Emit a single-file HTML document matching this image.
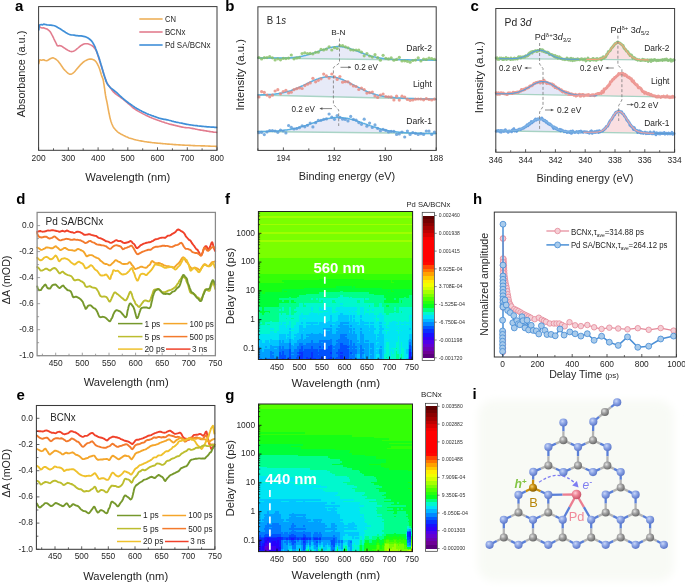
<!DOCTYPE html>
<html><head><meta charset="utf-8"><title>Figure</title><style>html,body{margin:0;padding:0;background:#fff;}svg{display:block;font-family:"Liberation Sans",sans-serif;will-change:transform;}</style></head><body>
<svg width="685" height="588" viewBox="0 0 685 588" font-family="Liberation Sans, sans-serif"><defs><filter id="soft" x="-20%" y="-20%" width="140%" height="140%"><feGaussianBlur stdDeviation="4"/></filter><radialGradient id="gN" cx="0.38" cy="0.35" r="0.65"><stop offset="0" stop-color="#c9d6f7"/><stop offset="0.45" stop-color="#8ea6e6"/><stop offset="1" stop-color="#5d78c9"/></radialGradient><radialGradient id="gC" cx="0.38" cy="0.35" r="0.65"><stop offset="0" stop-color="#e2e2e2"/><stop offset="0.45" stop-color="#a3a3a3"/><stop offset="1" stop-color="#6c6c6c"/></radialGradient><radialGradient id="gB" cx="0.38" cy="0.35" r="0.65"><stop offset="0" stop-color="#f3d27a"/><stop offset="0.45" stop-color="#c9900e"/><stop offset="1" stop-color="#8a5e00"/></radialGradient><radialGradient id="gP" cx="0.38" cy="0.35" r="0.65"><stop offset="0" stop-color="#ffd0d8"/><stop offset="0.45" stop-color="#ee8596"/><stop offset="1" stop-color="#c85468"/></radialGradient></defs>
<text x="15" y="10.9" font-size="15" font-weight="bold" fill="#000">a</text>
<polyline points="38.8,63.6 39,62.4 39.3,61 39.8,59.7 41.5,60.2 42.6,59.9 43.7,59.7 45.2,60.5 46.7,60.8 48.3,60 49.8,59 51.3,58.3 52.8,57.8 53.8,58.1 55,58.7 56.2,59.5 57.4,60.5 58.2,61.3 58.9,62.2 59.7,63.2 60.3,64 60.9,64.9 61.4,65.8 62,66.6 62.8,67.7 63.5,68.7 64.3,69.6 65.1,70.5 65.9,71.3 66.6,72 67.6,72.9 68.5,73.6 69.5,74.1 70.4,74.3 71.3,74.1 72.3,73.6 73.3,72.9 74.3,72 75,71.2 75.8,70.2 76.6,69.3 77.4,68.4 78.1,67.5 78.9,66.6 79.7,65.7 80.4,64.9 81.2,64.1 82,63.4 82.7,62.6 83.5,62 84.7,61.1 86,60.4 86.9,60 87.9,59.6 88.8,59.3 89.9,59.1 91,59.1 92.2,59.3 93.4,59.7 94.5,60.3 95.5,61.2 96.4,62.3 97.2,63.6 97.7,64.6 98.3,65.8 98.8,67 99.2,68 99.6,69 99.9,70.1 100.3,71.2 100.6,72.2 100.9,73.2 101.2,74.3 101.5,75.3 101.8,76.2 102.3,77.3 102.7,78.3 103.1,79.6 103.3,80.5 103.5,81.4 103.6,82.4 103.8,83.5 104,84.7 104.2,86 104.3,87 104.5,88 104.7,89.2 104.8,90.3 105,91.5 105.1,92.7 105.3,93.8 105.5,94.8 105.6,95.7 105.8,97 106,97.9 106.2,98.8 106.4,99.7 106.7,101 106.9,101.9 107.1,102.9 107.3,103.9 107.5,105 107.7,106.1 107.9,107.3 108.1,108.4 108.3,109.5 108.5,110.5 108.7,111.6 108.9,112.7 109.1,113.8 109.4,114.9 109.6,116 109.8,117 110,117.9 110.2,118.8 110.6,120.1 110.9,121.3 111.3,122.3 111.6,123.3 112,124.2 112.6,125.5 113.1,126.6 113.8,127.7 114.4,128.5 115.1,129.3 115.8,130.1 116.5,130.8 117.3,131.6 118.2,132.3 119.2,133 120.2,133.6 121.2,134.2 122.4,134.8 123.5,135.4 124.4,135.8 125.3,136.3 126.2,136.7 127.2,137.1 128.1,137.5 129,137.9 130,138.2 131,138.5 132,138.8 133,139.1 134.1,139.4 135.2,139.7 136.4,140 137.6,140.2 138.7,140.5 139.8,140.7 140.8,140.9 141.9,141.1 142.9,141.3 144,141.5 145.1,141.7 146.1,141.8 147.1,142 148.2,142.1 149.4,142.3 150.4,142.4 151.5,142.5 152.6,142.7 153.7,142.8 154.8,142.9 156,143 157,143.1 158.1,143.2 159.2,143.3 160.4,143.4 161.5,143.5 162.6,143.6 163.7,143.7 164.8,143.8 165.8,143.9 166.9,144 167.9,144.1 169,144.1 170,144.2 171,144.3 172.2,144.4 173.3,144.5 174.5,144.6 175.6,144.6 176.7,144.7 177.9,144.8 178.9,144.9 179.9,144.9 180.9,145 181.9,145 183,145.1 184,145.1 185,145.2 186,145.2 187.1,145.3 188.1,145.3 189.1,145.4 190.2,145.4 191.2,145.5 192.2,145.5 193.3,145.6 194.5,145.6 195.6,145.7 196.7,145.7 197.8,145.8 199,145.8 200,145.8 201.1,145.9 202.2,145.9 203.3,145.9 204.4,145.9 205.4,146 206.4,146 207.7,146 208.8,146.1 209.9,146.1 211,146.2 212,146.2 213.3,146.3 214.6,146.3 215.7,146.4 216.5,146.4" fill="none" stroke="#eeb05a" stroke-width="1.6" stroke-linejoin="round" stroke-linecap="round"/>
<polyline points="38.8,25.3 39.6,26.5 40.6,27.6 42,28 43.5,27.8 45.2,28.4 47,29 48.2,29.9 49.1,30.6 50,31.5 50.7,32.5 51.3,33.7 51.8,34.7 52.4,35.7 53,36.8 53.5,37.8 53.9,38.8 54.4,39.8 54.9,40.9 55.5,42 56,43 56.6,44.4 57.2,45.5 58.2,46 59.5,45.6 61.3,46 62.4,46.7 63.5,47.5 64.6,48.2 65.8,49 66.7,49.5 67.6,50.1 68.5,50.6 69.9,51.2 71.2,51.6 72.4,51.5 73.5,51.2 74.7,50.6 75.8,49.8 76.9,48.9 78,48 78.8,47.3 79.6,46.6 80.4,46 81.6,45.2 82.8,44.5 83.9,44 85,43.7 86.3,43.7 87.5,43.8 88.6,44 89.6,44.4 90.6,44.9 91.6,45.4 92.5,46 93.4,46.7 94.2,47.7 95,48.8 95.8,49.9 96.5,51.3 96.9,52.2 97.2,53.2 97.6,54.4 98,55.5 98.3,56.4 98.6,57.4 98.9,58.4 99.2,59.4 99.5,60.5 99.8,61.5 100.1,62.5 100.5,63.6 100.8,64.7 101.2,65.8 101.5,66.8 101.8,67.8 102.1,68.8 102.5,69.8 102.8,70.8 103.1,71.8 103.4,72.8 103.7,73.8 104,74.7 104.4,75.7 104.7,76.7 105,77.6 105.3,78.5 105.7,79.6 106,80.6 106.4,81.6 106.8,82.6 107.2,83.5 107.8,84.5 108.5,85.3 109.1,86.1 109.8,87 110.5,87.9 111.1,88.9 111.8,89.9 112.5,90.8 113.2,91.6 114,92.4 114.8,93.1 115.6,93.8 116.6,94.6 117.7,95.3 118.7,96 119.6,96.7 120.5,97.3 121.5,98 122.3,98.6 123.1,99.2 123.9,99.9 124.8,100.6 125.6,101.3 126.4,102 127.3,102.7 128.1,103.5 129,104.2 129.9,105 130.7,105.7 131.6,106.5 132.5,107.3 133.4,108 134.2,108.6 135,109.2 135.9,109.8 136.7,110.3 137.6,110.9 138.5,111.4 139.4,111.9 140.3,112.4 141.3,112.9 142.2,113.4 143.1,113.9 144.1,114.4 145.1,114.9 146,115.4 147,115.8 148,116.3 149,116.7 150,117.2 150.9,117.6 151.8,118 152.8,118.3 153.7,118.7 154.7,119.1 155.7,119.5 156.6,119.8 157.7,120.2 158.8,120.6 159.8,120.9 160.9,121.3 162,121.7 163,122 164,122.3 165,122.7 166,123 166.9,123.3 167.9,123.6 169,123.9 169.9,124.2 170.9,124.4 171.9,124.6 172.9,124.9 173.9,125.1 175,125.4 176,125.6 177,125.9 178.1,126.1 179.1,126.4 180.2,126.6 181.2,126.9 182.3,127.1 183.3,127.3 184.4,127.5 185.5,127.6 186.6,127.7 187.7,127.7 188.8,127.8 190,128 191,128.2 192.1,128.4 193.2,128.6 194.3,128.8 195.4,129.1 196.5,129.3 197.5,129.5 198.6,129.7 199.8,129.9 200.8,130.1 201.9,130.3 203,130.4 204,130.6 205,130.8 206,130.9 207,131.1 208,131.3 209,131.4 210,131.6 211.1,131.8 212.4,131.9 213.6,132.1 214.8,132.2 215.8,132.3 216.5,132.4" fill="none" stroke="#e27d8f" stroke-width="1.6" stroke-linejoin="round" stroke-linecap="round"/>
<polyline points="38.8,29.9 38.9,29 39,27.6 39.2,26.3 39.4,25.3 40.2,24.8 41.4,24.5 42.5,24.9 43.7,24.1 44.8,24.3 46,24.7 47.1,24.9 48.2,25 49.5,25.1 51,25.2 52.1,25.3 53.3,25.5 54.4,25.8 55.7,26.3 57,27 57.8,27.5 58.7,28 59.6,28.6 60.5,29.1 61.5,29.7 62.5,30.4 63.5,31 64.6,31.7 65.6,32.4 66.6,33 67.9,33.7 69,34.2 70.1,34.6 71.2,34.8 72.5,35 74,35.2 75.1,35.4 76.2,35.6 77.3,35.7 78.6,35.8 80,35.8 81.1,35.9 82.4,36.1 83.5,36.3 84.8,36.6 86,37 87,37.5 88,38 89,38.7 90,39.5 91,40.4 91.9,41.4 92.5,42.2 93,43.1 93.5,44 94,44.9 94.5,45.8 94.9,46.7 95.3,47.6 95.6,48.5 96,49.5 96.4,50.6 96.8,51.7 97.2,52.9 97.6,53.9 97.9,54.8 98.3,55.9 98.7,57 99,57.9 99.3,58.9 99.7,59.9 100,61 100.3,62 100.6,63.1 100.9,64.2 101.3,65.3 101.6,66.4 101.9,67.5 102.2,68.6 102.5,69.6 102.8,70.7 103.1,71.8 103.4,72.8 103.7,73.8 104,74.9 104.4,75.9 104.7,76.9 105,77.8 105.3,78.9 105.7,79.9 106,80.9 106.4,81.9 106.9,82.9 107.4,83.8 107.9,84.7 108.5,85.5 109.3,86.4 110.1,87.3 111,88.1 112,88.9 113,89.7 114,90.5 115,91.3 116.1,92.1 117.1,93 117.8,93.7 118.5,94.3 119.2,95 120,95.8 120.7,96.5 121.5,97.2 122.3,97.9 123.2,98.6 124,99.3 124.8,100 125.6,100.6 126.4,101.3 127.2,101.9 128,102.5 128.9,103.2 129.8,103.8 130.7,104.4 131.6,105 132.4,105.6 133.2,106.1 134.1,106.7 135,107.4 136,108 136.8,108.5 137.7,109 138.6,109.5 139.5,110 140.5,110.5 141.4,110.9 142.3,111.4 143.3,111.9 144.2,112.4 145.1,112.8 146,113.2 147,113.7 148,114.1 148.9,114.5 149.9,114.8 150.9,115.2 151.9,115.6 152.9,115.9 153.9,116.3 154.8,116.6 155.9,117 156.9,117.4 157.9,117.7 159,118.1 160,118.4 161,118.7 162,118.9 163,119.1 164.1,119.3 165.1,119.4 166.1,119.6 167.2,119.8 168.1,120 169.1,120.3 170,120.5 171,120.8 172,121.1 173,121.3 174,121.6 175,121.8 176.1,122.1 177.2,122.3 178.3,122.5 179.4,122.8 180.5,123 181.5,123.2 182.6,123.4 183.7,123.7 184.7,123.9 185.8,124.1 186.9,124.3 188,124.5 189,124.7 190.1,124.8 191.2,125 192.4,125.2 193.5,125.3 194.6,125.5 195.7,125.6 196.8,125.7 197.8,125.9 198.9,126 199.9,126.1 200.9,126.2 202,126.3 203,126.4 204,126.5 205,126.6 206,126.7 207.1,126.8 208,126.8 209,126.9 210,127 211.2,127.1 212.4,127.2 213.7,127.2 214.8,127.3 215.8,127.4 216.5,127.4" fill="none" stroke="#3f8fd8" stroke-width="1.7" stroke-linejoin="round" stroke-linecap="round"/>
<rect x="38.6" y="6.6" width="178.4" height="143.7" fill="none" stroke="#3a3a3a" stroke-width="1"/>
<line x1="38.6" y1="150.3" x2="38.6" y2="147.3" stroke="#333" stroke-width="0.8"/>
<line x1="68.3" y1="150.3" x2="68.3" y2="147.3" stroke="#333" stroke-width="0.8"/>
<line x1="98.1" y1="150.3" x2="98.1" y2="147.3" stroke="#333" stroke-width="0.8"/>
<line x1="127.8" y1="150.3" x2="127.8" y2="147.3" stroke="#333" stroke-width="0.8"/>
<line x1="157.5" y1="150.3" x2="157.5" y2="147.3" stroke="#333" stroke-width="0.8"/>
<line x1="187.3" y1="150.3" x2="187.3" y2="147.3" stroke="#333" stroke-width="0.8"/>
<line x1="217" y1="150.3" x2="217" y2="147.3" stroke="#333" stroke-width="0.8"/>
<line x1="53.5" y1="150.3" x2="53.5" y2="148.3" stroke="#333" stroke-width="0.8"/>
<line x1="83.2" y1="150.3" x2="83.2" y2="148.3" stroke="#333" stroke-width="0.8"/>
<line x1="112.9" y1="150.3" x2="112.9" y2="148.3" stroke="#333" stroke-width="0.8"/>
<line x1="142.7" y1="150.3" x2="142.7" y2="148.3" stroke="#333" stroke-width="0.8"/>
<line x1="172.4" y1="150.3" x2="172.4" y2="148.3" stroke="#333" stroke-width="0.8"/>
<line x1="202.1" y1="150.3" x2="202.1" y2="148.3" stroke="#333" stroke-width="0.8"/>
<text x="38.6" y="160.6" font-size="8.4" text-anchor="middle" fill="#262626">200</text>
<text x="68.3" y="160.6" font-size="8.4" text-anchor="middle" fill="#262626">300</text>
<text x="98.1" y="160.6" font-size="8.4" text-anchor="middle" fill="#262626">400</text>
<text x="127.8" y="160.6" font-size="8.4" text-anchor="middle" fill="#262626">500</text>
<text x="157.5" y="160.6" font-size="8.4" text-anchor="middle" fill="#262626">600</text>
<text x="187.3" y="160.6" font-size="8.4" text-anchor="middle" fill="#262626">700</text>
<text x="217" y="160.6" font-size="8.4" text-anchor="middle" fill="#262626">800</text>
<text x="127.8" y="180.5" font-size="10.6" text-anchor="middle" fill="#262626" textLength="84.9" lengthAdjust="spacingAndGlyphs">Wavelength (nm)</text>
<text transform="translate(25.2 74) rotate(-90)" font-size="10.6" text-anchor="middle" textLength="86.7" lengthAdjust="spacingAndGlyphs" fill="#262626">Absorbance (a.u.)</text>
<line x1="139.3" y1="19" x2="162.6" y2="19" stroke="#eeb05a" stroke-width="1.6"/>
<text x="164.9" y="22.3" font-size="8.8" fill="#262626" textLength="11" lengthAdjust="spacingAndGlyphs">CN</text>
<line x1="139.3" y1="32" x2="162.6" y2="32" stroke="#e27d8f" stroke-width="1.6"/>
<text x="164.9" y="35.3" font-size="8.8" fill="#262626" textLength="20.5" lengthAdjust="spacingAndGlyphs">BCNx</text>
<line x1="139.3" y1="45" x2="162.6" y2="45" stroke="#3f8fd8" stroke-width="1.6"/>
<text x="164.9" y="48.3" font-size="8.8" fill="#262626" textLength="45.7" lengthAdjust="spacingAndGlyphs">Pd SA/BCNx</text>
<text x="225.3" y="11" font-size="15" font-weight="bold" fill="#000">b</text>
<path d="M257.9 58 L258.9 58 L259.9 58 L260.9 58 L261.9 58 L262.9 58.1 L263.9 58.1 L264.9 58.1 L265.9 58.1 L266.9 58.1 L267.9 58.1 L268.9 58.1 L269.9 58.1 L270.9 58.1 L271.9 58.1 L272.9 58.1 L273.9 58.1 L274.9 58.1 L275.9 58.1 L276.9 58.1 L277.9 58.1 L278.9 58.1 L279.9 58.1 L280.9 58.1 L281.9 58.1 L282.9 58.1 L283.9 58 L284.9 58 L285.9 58 L286.9 57.9 L287.9 57.9 L288.9 57.8 L289.9 57.8 L290.9 57.7 L291.9 57.6 L292.9 57.5 L293.9 57.4 L294.9 57.3 L295.9 57.2 L296.9 57.1 L297.9 56.9 L298.9 56.8 L299.9 56.6 L300.9 56.5 L301.9 56.3 L302.9 56.1 L303.9 55.8 L304.9 55.6 L305.9 55.4 L306.9 55.1 L307.9 54.8 L308.9 54.5 L309.9 54.2 L310.9 53.9 L311.9 53.6 L312.9 53.3 L313.9 52.9 L314.9 52.6 L315.9 52.2 L316.9 51.9 L317.9 51.5 L318.9 51.2 L319.9 50.8 L320.9 50.4 L321.9 50.1 L322.9 49.7 L323.9 49.4 L324.9 49.1 L325.9 48.7 L326.9 48.4 L327.9 48.1 L328.9 47.9 L329.9 47.6 L330.9 47.4 L331.9 47.2 L332.9 47 L333.9 46.9 L334.9 46.8 L335.9 46.7 L336.9 46.6 L337.9 46.6 L338.9 46.6 L339.9 46.6 L340.9 46.7 L341.9 46.8 L342.9 46.9 L343.9 47.1 L344.9 47.3 L345.9 47.5 L346.9 47.7 L347.9 48 L348.9 48.2 L349.9 48.5 L350.9 48.9 L351.9 49.2 L352.9 49.5 L353.9 49.9 L354.9 50.3 L355.9 50.6 L356.9 51 L357.9 51.4 L358.9 51.8 L359.9 52.2 L360.9 52.6 L361.9 53 L362.9 53.3 L363.9 53.7 L364.9 54.1 L365.9 54.4 L366.9 54.8 L367.9 55.1 L368.9 55.4 L369.9 55.7 L370.9 56 L371.9 56.3 L372.9 56.5 L373.9 56.8 L374.9 57 L375.9 57.3 L376.9 57.5 L377.9 57.7 L378.9 57.8 L379.9 58 L380.9 58.2 L381.9 58.3 L382.9 58.5 L383.9 58.6 L384.9 58.7 L385.9 58.8 L386.9 58.9 L387.9 59 L388.9 59.1 L389.9 59.2 L390.9 59.2 L391.9 59.3 L392.9 59.4 L393.9 59.4 L394.9 59.5 L395.9 59.5 L396.9 59.5 L397.9 59.6 L398.9 59.6 L399.9 59.6 L400.9 59.7 L401.9 59.7 L402.9 59.7 L403.9 59.7 L404.9 59.8 L405.9 59.8 L406.9 59.8 L407.9 59.8 L408.9 59.8 L409.9 59.9 L410.9 59.9 L411.9 59.9 L412.9 59.9 L413.9 59.9 L414.9 59.9 L415.9 59.9 L416.9 60 L417.9 60 L418.9 60 L419.9 60 L420.9 60 L421.9 60 L422.9 60 L423.9 60 L424.9 60.1 L425.9 60.1 L426.9 60.1 L427.9 60.1 L428.9 60.1 L429.9 60.1 L430.9 60.1 L431.9 60.1 L432.9 60.2 L433.9 60.2 L434.9 60.2 L435.9 60.2 L436.2 60.2 L257.9 58 Z" fill="#dfe3f5" fill-opacity="0.75"/>
<line x1="257.9" y1="58" x2="436.2" y2="60.2" stroke="#a9d4c6" stroke-width="1.5"/>
<polyline points="257.9,58 258.9,58 259.9,58 260.9,58 261.9,58 262.9,58.1 263.9,58.1 264.9,58.1 265.9,58.1 266.9,58.1 267.9,58.1 268.9,58.1 269.9,58.1 270.9,58.1 271.9,58.1 272.9,58.1 273.9,58.1 274.9,58.1 275.9,58.1 276.9,58.1 277.9,58.1 278.9,58.1 279.9,58.1 280.9,58.1 281.9,58.1 282.9,58.1 283.9,58 284.9,58 285.9,58 286.9,57.9 287.9,57.9 288.9,57.8 289.9,57.8 290.9,57.7 291.9,57.6 292.9,57.5 293.9,57.4 294.9,57.3 295.9,57.2 296.9,57.1 297.9,56.9 298.9,56.8 299.9,56.6 300.9,56.5 301.9,56.3 302.9,56.1 303.9,55.8 304.9,55.6 305.9,55.4 306.9,55.1 307.9,54.8 308.9,54.5 309.9,54.2 310.9,53.9 311.9,53.6 312.9,53.3 313.9,52.9 314.9,52.6 315.9,52.2 316.9,51.9 317.9,51.5 318.9,51.2 319.9,50.8 320.9,50.4 321.9,50.1 322.9,49.7 323.9,49.4 324.9,49.1 325.9,48.7 326.9,48.4 327.9,48.1 328.9,47.9 329.9,47.6 330.9,47.4 331.9,47.2 332.9,47 333.9,46.9 334.9,46.8 335.9,46.7 336.9,46.6 337.9,46.6 338.9,46.6 339.9,46.6 340.9,46.7 341.9,46.8 342.9,46.9 343.9,47.1 344.9,47.3 345.9,47.5 346.9,47.7 347.9,48 348.9,48.2 349.9,48.5 350.9,48.9 351.9,49.2 352.9,49.5 353.9,49.9 354.9,50.3 355.9,50.6 356.9,51 357.9,51.4 358.9,51.8 359.9,52.2 360.9,52.6 361.9,53 362.9,53.3 363.9,53.7 364.9,54.1 365.9,54.4 366.9,54.8 367.9,55.1 368.9,55.4 369.9,55.7 370.9,56 371.9,56.3 372.9,56.5 373.9,56.8 374.9,57 375.9,57.3 376.9,57.5 377.9,57.7 378.9,57.8 379.9,58 380.9,58.2 381.9,58.3 382.9,58.5 383.9,58.6 384.9,58.7 385.9,58.8 386.9,58.9 387.9,59 388.9,59.1 389.9,59.2 390.9,59.2 391.9,59.3 392.9,59.4 393.9,59.4 394.9,59.5 395.9,59.5 396.9,59.5 397.9,59.6 398.9,59.6 399.9,59.6 400.9,59.7 401.9,59.7 402.9,59.7 403.9,59.7 404.9,59.8 405.9,59.8 406.9,59.8 407.9,59.8 408.9,59.8 409.9,59.9 410.9,59.9 411.9,59.9 412.9,59.9 413.9,59.9 414.9,59.9 415.9,59.9 416.9,60 417.9,60 418.9,60 419.9,60 420.9,60 421.9,60 422.9,60 423.9,60 424.9,60.1 425.9,60.1 426.9,60.1 427.9,60.1 428.9,60.1 429.9,60.1 430.9,60.1 431.9,60.1 432.9,60.2 433.9,60.2 434.9,60.2 435.9,60.2" fill="none" stroke="#5bb1e2" stroke-width="1.5" stroke-linejoin="round" stroke-linecap="round"/>
<g fill="#86c163" fill-opacity="0.8"><circle cx="258.9" cy="57.6" r="1.6"/><circle cx="261.6" cy="58.9" r="1.6"/><circle cx="264.3" cy="57.7" r="1.6"/><circle cx="267" cy="57.6" r="1.6"/><circle cx="269.7" cy="56.6" r="1.6"/><circle cx="272.4" cy="57.8" r="1.6"/><circle cx="275.1" cy="59.9" r="1.6"/><circle cx="277.8" cy="58.8" r="1.6"/><circle cx="280.5" cy="59.8" r="1.6"/><circle cx="283.2" cy="58.4" r="1.6"/><circle cx="285.9" cy="58.6" r="1.6"/><circle cx="288.6" cy="58.1" r="1.6"/><circle cx="291.3" cy="55" r="1.6"/><circle cx="294" cy="58.8" r="1.6"/><circle cx="296.7" cy="57.9" r="1.6"/><circle cx="299.4" cy="57.5" r="1.6"/><circle cx="302.1" cy="53.5" r="1.6"/><circle cx="304.8" cy="52.8" r="1.6"/><circle cx="307.5" cy="53.5" r="1.6"/><circle cx="310.2" cy="53.4" r="1.6"/><circle cx="312.9" cy="53.8" r="1.6"/><circle cx="315.6" cy="52.3" r="1.6"/><circle cx="318.3" cy="52.2" r="1.6"/><circle cx="321" cy="49.4" r="1.6"/><circle cx="323.7" cy="49.9" r="1.6"/><circle cx="326.4" cy="49.2" r="1.6"/><circle cx="329.1" cy="46.8" r="1.6"/><circle cx="331.8" cy="50" r="1.6"/><circle cx="334.5" cy="47.7" r="1.6"/><circle cx="337.2" cy="48.5" r="1.6"/><circle cx="339.9" cy="45.6" r="1.6"/><circle cx="342.6" cy="45.7" r="1.6"/><circle cx="345.3" cy="46.8" r="1.6"/><circle cx="348" cy="47.8" r="1.6"/><circle cx="350.7" cy="49.8" r="1.6"/><circle cx="353.4" cy="50.1" r="1.6"/><circle cx="356.1" cy="50" r="1.6"/><circle cx="358.8" cy="50.2" r="1.6"/><circle cx="361.5" cy="52" r="1.6"/><circle cx="364.2" cy="55.8" r="1.6"/><circle cx="366.9" cy="53.5" r="1.6"/><circle cx="369.6" cy="56" r="1.6"/><circle cx="372.3" cy="57.1" r="1.6"/><circle cx="375" cy="54.7" r="1.6"/><circle cx="377.7" cy="57.7" r="1.6"/><circle cx="380.4" cy="60.2" r="1.6"/><circle cx="383.1" cy="55.3" r="1.6"/><circle cx="385.8" cy="58.3" r="1.6"/><circle cx="388.5" cy="58.9" r="1.6"/><circle cx="391.2" cy="57.9" r="1.6"/><circle cx="393.9" cy="60.2" r="1.6"/><circle cx="396.6" cy="59.4" r="1.6"/><circle cx="399.3" cy="57.3" r="1.6"/><circle cx="402" cy="61" r="1.6"/><circle cx="404.7" cy="60.8" r="1.6"/><circle cx="407.4" cy="61.3" r="1.6"/><circle cx="410.1" cy="62.2" r="1.6"/><circle cx="412.8" cy="60.5" r="1.6"/><circle cx="415.5" cy="60.1" r="1.6"/><circle cx="418.2" cy="57.9" r="1.6"/><circle cx="420.9" cy="61" r="1.6"/><circle cx="423.6" cy="59.1" r="1.6"/><circle cx="426.3" cy="59.4" r="1.6"/><circle cx="429" cy="58.1" r="1.6"/><circle cx="431.7" cy="58.6" r="1.6"/><circle cx="434.4" cy="59.3" r="1.6"/></g>
<text x="406.2" y="50.5" font-size="8.6" fill="#262626" textLength="25.8" lengthAdjust="spacingAndGlyphs">Dark-2</text>
<path d="M257.9 94.9 L258.9 94.9 L259.9 94.9 L260.9 94.9 L261.9 94.8 L262.9 94.8 L263.9 94.8 L264.9 94.8 L265.9 94.7 L266.9 94.7 L267.9 94.6 L268.9 94.6 L269.9 94.5 L270.9 94.4 L271.9 94.4 L272.9 94.3 L273.9 94.2 L274.9 94.1 L275.9 93.9 L276.9 93.8 L277.9 93.7 L278.9 93.5 L279.9 93.3 L280.9 93.2 L281.9 93 L282.9 92.8 L283.9 92.5 L284.9 92.3 L285.9 92 L286.9 91.8 L287.9 91.5 L288.9 91.2 L289.9 90.9 L290.9 90.6 L291.9 90.2 L292.9 89.8 L293.9 89.5 L294.9 89.1 L295.9 88.7 L296.9 88.3 L297.9 87.8 L298.9 87.4 L299.9 87 L300.9 86.5 L301.9 86 L302.9 85.6 L303.9 85.1 L304.9 84.6 L305.9 84.1 L306.9 83.6 L307.9 83.2 L308.9 82.7 L309.9 82.2 L310.9 81.7 L311.9 81.3 L312.9 80.8 L313.9 80.4 L314.9 80 L315.9 79.6 L316.9 79.2 L317.9 78.9 L318.9 78.5 L319.9 78.2 L320.9 77.9 L321.9 77.7 L322.9 77.5 L323.9 77.3 L324.9 77.1 L325.9 77 L326.9 76.9 L327.9 76.8 L328.9 76.8 L329.9 76.8 L330.9 76.8 L331.9 76.9 L332.9 77 L333.9 77.1 L334.9 77.3 L335.9 77.5 L336.9 77.7 L337.9 78 L338.9 78.3 L339.9 78.6 L340.9 79 L341.9 79.3 L342.9 79.7 L343.9 80.2 L344.9 80.6 L345.9 81.1 L346.9 81.5 L347.9 82 L348.9 82.5 L349.9 83 L350.9 83.6 L351.9 84.1 L352.9 84.6 L353.9 85.1 L354.9 85.7 L355.9 86.2 L356.9 86.7 L357.9 87.2 L358.9 87.7 L359.9 88.2 L360.9 88.7 L361.9 89.2 L362.9 89.7 L363.9 90.2 L364.9 90.6 L365.9 91 L366.9 91.5 L367.9 91.9 L368.9 92.3 L369.9 92.7 L370.9 93 L371.9 93.4 L372.9 93.7 L373.9 94 L374.9 94.3 L375.9 94.6 L376.9 94.9 L377.9 95.1 L378.9 95.4 L379.9 95.6 L380.9 95.8 L381.9 96 L382.9 96.2 L383.9 96.4 L384.9 96.6 L385.9 96.7 L386.9 96.9 L387.9 97 L388.9 97.1 L389.9 97.2 L390.9 97.4 L391.9 97.5 L392.9 97.6 L393.9 97.6 L394.9 97.7 L395.9 97.8 L396.9 97.9 L397.9 98 L398.9 98 L399.9 98.1 L400.9 98.1 L401.9 98.2 L402.9 98.2 L403.9 98.3 L404.9 98.3 L405.9 98.4 L406.9 98.4 L407.9 98.4 L408.9 98.5 L409.9 98.5 L410.9 98.6 L411.9 98.6 L412.9 98.6 L413.9 98.6 L414.9 98.7 L415.9 98.7 L416.9 98.7 L417.9 98.8 L418.9 98.8 L419.9 98.8 L420.9 98.8 L421.9 98.9 L422.9 98.9 L423.9 98.9 L424.9 98.9 L425.9 99 L426.9 99 L427.9 99 L428.9 99 L429.9 99.1 L430.9 99.1 L431.9 99.1 L432.9 99.1 L433.9 99.1 L434.9 99.2 L435.9 99.2 L436.2 99.2 L257.9 95.1 Z" fill="#dfe3f5" fill-opacity="0.75"/>
<line x1="257.9" y1="95.1" x2="436.2" y2="99.2" stroke="#a9d4c6" stroke-width="1.5"/>
<polyline points="257.9,94.9 258.9,94.9 259.9,94.9 260.9,94.9 261.9,94.8 262.9,94.8 263.9,94.8 264.9,94.8 265.9,94.7 266.9,94.7 267.9,94.6 268.9,94.6 269.9,94.5 270.9,94.4 271.9,94.4 272.9,94.3 273.9,94.2 274.9,94.1 275.9,93.9 276.9,93.8 277.9,93.7 278.9,93.5 279.9,93.3 280.9,93.2 281.9,93 282.9,92.8 283.9,92.5 284.9,92.3 285.9,92 286.9,91.8 287.9,91.5 288.9,91.2 289.9,90.9 290.9,90.6 291.9,90.2 292.9,89.8 293.9,89.5 294.9,89.1 295.9,88.7 296.9,88.3 297.9,87.8 298.9,87.4 299.9,87 300.9,86.5 301.9,86 302.9,85.6 303.9,85.1 304.9,84.6 305.9,84.1 306.9,83.6 307.9,83.2 308.9,82.7 309.9,82.2 310.9,81.7 311.9,81.3 312.9,80.8 313.9,80.4 314.9,80 315.9,79.6 316.9,79.2 317.9,78.9 318.9,78.5 319.9,78.2 320.9,77.9 321.9,77.7 322.9,77.5 323.9,77.3 324.9,77.1 325.9,77 326.9,76.9 327.9,76.8 328.9,76.8 329.9,76.8 330.9,76.8 331.9,76.9 332.9,77 333.9,77.1 334.9,77.3 335.9,77.5 336.9,77.7 337.9,78 338.9,78.3 339.9,78.6 340.9,79 341.9,79.3 342.9,79.7 343.9,80.2 344.9,80.6 345.9,81.1 346.9,81.5 347.9,82 348.9,82.5 349.9,83 350.9,83.6 351.9,84.1 352.9,84.6 353.9,85.1 354.9,85.7 355.9,86.2 356.9,86.7 357.9,87.2 358.9,87.7 359.9,88.2 360.9,88.7 361.9,89.2 362.9,89.7 363.9,90.2 364.9,90.6 365.9,91 366.9,91.5 367.9,91.9 368.9,92.3 369.9,92.7 370.9,93 371.9,93.4 372.9,93.7 373.9,94 374.9,94.3 375.9,94.6 376.9,94.9 377.9,95.1 378.9,95.4 379.9,95.6 380.9,95.8 381.9,96 382.9,96.2 383.9,96.4 384.9,96.6 385.9,96.7 386.9,96.9 387.9,97 388.9,97.1 389.9,97.2 390.9,97.4 391.9,97.5 392.9,97.6 393.9,97.6 394.9,97.7 395.9,97.8 396.9,97.9 397.9,98 398.9,98 399.9,98.1 400.9,98.1 401.9,98.2 402.9,98.2 403.9,98.3 404.9,98.3 405.9,98.4 406.9,98.4 407.9,98.4 408.9,98.5 409.9,98.5 410.9,98.6 411.9,98.6 412.9,98.6 413.9,98.6 414.9,98.7 415.9,98.7 416.9,98.7 417.9,98.8 418.9,98.8 419.9,98.8 420.9,98.8 421.9,98.9 422.9,98.9 423.9,98.9 424.9,98.9 425.9,99 426.9,99 427.9,99 428.9,99 429.9,99.1 430.9,99.1 431.9,99.1 432.9,99.1 433.9,99.1 434.9,99.2 435.9,99.2" fill="none" stroke="#5bb1e2" stroke-width="1.5" stroke-linejoin="round" stroke-linecap="round"/>
<g fill="#e8867a" fill-opacity="0.8"><circle cx="258.9" cy="96.9" r="1.6"/><circle cx="261.6" cy="91.6" r="1.6"/><circle cx="264.3" cy="92.4" r="1.6"/><circle cx="267" cy="95.1" r="1.6"/><circle cx="269.7" cy="96.8" r="1.6"/><circle cx="272.4" cy="95.2" r="1.6"/><circle cx="275.1" cy="91" r="1.6"/><circle cx="277.8" cy="89.7" r="1.6"/><circle cx="280.5" cy="93.8" r="1.6"/><circle cx="283.2" cy="91.5" r="1.6"/><circle cx="285.9" cy="90.3" r="1.6"/><circle cx="288.6" cy="92.9" r="1.6"/><circle cx="291.3" cy="92.2" r="1.6"/><circle cx="294" cy="89.7" r="1.6"/><circle cx="296.7" cy="88.7" r="1.6"/><circle cx="299.4" cy="87.9" r="1.6"/><circle cx="302.1" cy="88.5" r="1.6"/><circle cx="304.8" cy="85.6" r="1.6"/><circle cx="307.5" cy="84.2" r="1.6"/><circle cx="310.2" cy="82.9" r="1.6"/><circle cx="312.9" cy="78.3" r="1.6"/><circle cx="315.6" cy="81.8" r="1.6"/><circle cx="318.3" cy="80.3" r="1.6"/><circle cx="321" cy="78.8" r="1.6"/><circle cx="323.7" cy="74.1" r="1.6"/><circle cx="326.4" cy="75.9" r="1.6"/><circle cx="329.1" cy="78.1" r="1.6"/><circle cx="331.8" cy="74" r="1.6"/><circle cx="334.5" cy="76.9" r="1.6"/><circle cx="337.2" cy="79.4" r="1.6"/><circle cx="339.9" cy="76.5" r="1.6"/><circle cx="342.6" cy="82.2" r="1.6"/><circle cx="345.3" cy="81.7" r="1.6"/><circle cx="348" cy="81.8" r="1.6"/><circle cx="350.7" cy="84" r="1.6"/><circle cx="353.4" cy="85.9" r="1.6"/><circle cx="356.1" cy="86.5" r="1.6"/><circle cx="358.8" cy="89.5" r="1.6"/><circle cx="361.5" cy="88" r="1.6"/><circle cx="364.2" cy="89.6" r="1.6"/><circle cx="366.9" cy="93.1" r="1.6"/><circle cx="369.6" cy="92.6" r="1.6"/><circle cx="372.3" cy="92.1" r="1.6"/><circle cx="375" cy="95.9" r="1.6"/><circle cx="377.7" cy="97.4" r="1.6"/><circle cx="380.4" cy="95" r="1.6"/><circle cx="383.1" cy="94" r="1.6"/><circle cx="385.8" cy="96.5" r="1.6"/><circle cx="388.5" cy="96.8" r="1.6"/><circle cx="391.2" cy="96.9" r="1.6"/><circle cx="393.9" cy="99.9" r="1.6"/><circle cx="396.6" cy="96.2" r="1.6"/><circle cx="399.3" cy="100.1" r="1.6"/><circle cx="402" cy="96.2" r="1.6"/><circle cx="404.7" cy="97.1" r="1.6"/><circle cx="407.4" cy="99.4" r="1.6"/><circle cx="410.1" cy="100.3" r="1.6"/><circle cx="412.8" cy="100" r="1.6"/><circle cx="415.5" cy="99.2" r="1.6"/><circle cx="418.2" cy="99" r="1.6"/><circle cx="420.9" cy="99.1" r="1.6"/><circle cx="423.6" cy="99.8" r="1.6"/><circle cx="426.3" cy="98.7" r="1.6"/><circle cx="429" cy="99.5" r="1.6"/><circle cx="431.7" cy="100" r="1.6"/><circle cx="434.4" cy="99.2" r="1.6"/></g>
<text x="413" y="87" font-size="8.6" fill="#262626" textLength="19" lengthAdjust="spacingAndGlyphs">Light</text>
<path d="M257.9 131.5 L258.9 131.5 L259.9 131.5 L260.9 131.5 L261.9 131.5 L262.9 131.4 L263.9 131.4 L264.9 131.4 L265.9 131.4 L266.9 131.4 L267.9 131.3 L268.9 131.3 L269.9 131.3 L270.9 131.2 L271.9 131.2 L272.9 131.2 L273.9 131.1 L274.9 131.1 L275.9 131 L276.9 130.9 L277.9 130.9 L278.9 130.8 L279.9 130.7 L280.9 130.6 L281.9 130.5 L282.9 130.4 L283.9 130.3 L284.9 130.1 L285.9 130 L286.9 129.9 L287.9 129.7 L288.9 129.6 L289.9 129.4 L290.9 129.2 L291.9 129 L292.9 128.8 L293.9 128.6 L294.9 128.4 L295.9 128.2 L296.9 127.9 L297.9 127.7 L298.9 127.4 L299.9 127.1 L300.9 126.9 L301.9 126.6 L302.9 126.3 L303.9 126 L304.9 125.7 L305.9 125.4 L306.9 125 L307.9 124.7 L308.9 124.4 L309.9 124.1 L310.9 123.7 L311.9 123.4 L312.9 123 L313.9 122.7 L314.9 122.4 L315.9 122 L316.9 121.7 L317.9 121.4 L318.9 121.1 L319.9 120.7 L320.9 120.4 L321.9 120.1 L322.9 119.9 L323.9 119.6 L324.9 119.3 L325.9 119.1 L326.9 118.8 L327.9 118.6 L328.9 118.4 L329.9 118.2 L330.9 118.1 L331.9 117.9 L332.9 117.8 L333.9 117.7 L334.9 117.6 L335.9 117.6 L336.9 117.5 L337.9 117.5 L338.9 117.5 L339.9 117.5 L340.9 117.6 L341.9 117.7 L342.9 117.7 L343.9 117.9 L344.9 118 L345.9 118.2 L346.9 118.3 L347.9 118.5 L348.9 118.7 L349.9 119 L350.9 119.2 L351.9 119.5 L352.9 119.7 L353.9 120 L354.9 120.3 L355.9 120.6 L356.9 121 L357.9 121.3 L358.9 121.6 L359.9 122 L360.9 122.3 L361.9 122.7 L362.9 123.1 L363.9 123.4 L364.9 123.8 L365.9 124.1 L366.9 124.5 L367.9 124.9 L368.9 125.2 L369.9 125.6 L370.9 125.9 L371.9 126.2 L372.9 126.6 L373.9 126.9 L374.9 127.2 L375.9 127.5 L376.9 127.8 L377.9 128.1 L378.9 128.4 L379.9 128.7 L380.9 129 L381.9 129.2 L382.9 129.5 L383.9 129.7 L384.9 129.9 L385.9 130.1 L386.9 130.4 L387.9 130.6 L388.9 130.7 L389.9 130.9 L390.9 131.1 L391.9 131.3 L392.9 131.4 L393.9 131.6 L394.9 131.7 L395.9 131.8 L396.9 131.9 L397.9 132 L398.9 132.2 L399.9 132.3 L400.9 132.3 L401.9 132.4 L402.9 132.5 L403.9 132.6 L404.9 132.7 L405.9 132.7 L406.9 132.8 L407.9 132.8 L408.9 132.9 L409.9 133 L410.9 133 L411.9 133 L412.9 133.1 L413.9 133.1 L414.9 133.2 L415.9 133.2 L416.9 133.2 L417.9 133.2 L418.9 133.3 L419.9 133.3 L420.9 133.3 L421.9 133.3 L422.9 133.4 L423.9 133.4 L424.9 133.4 L425.9 133.4 L426.9 133.4 L427.9 133.5 L428.9 133.5 L429.9 133.5 L430.9 133.5 L431.9 133.5 L432.9 133.5 L433.9 133.6 L434.9 133.6 L435.9 133.6 L436.2 133.6 L257.9 131.6 Z" fill="#dfe3f5" fill-opacity="0.75"/>
<line x1="257.9" y1="131.6" x2="436.2" y2="133.6" stroke="#a9d4c6" stroke-width="1.5"/>
<polyline points="257.9,131.5 258.9,131.5 259.9,131.5 260.9,131.5 261.9,131.5 262.9,131.4 263.9,131.4 264.9,131.4 265.9,131.4 266.9,131.4 267.9,131.3 268.9,131.3 269.9,131.3 270.9,131.2 271.9,131.2 272.9,131.2 273.9,131.1 274.9,131.1 275.9,131 276.9,130.9 277.9,130.9 278.9,130.8 279.9,130.7 280.9,130.6 281.9,130.5 282.9,130.4 283.9,130.3 284.9,130.1 285.9,130 286.9,129.9 287.9,129.7 288.9,129.6 289.9,129.4 290.9,129.2 291.9,129 292.9,128.8 293.9,128.6 294.9,128.4 295.9,128.2 296.9,127.9 297.9,127.7 298.9,127.4 299.9,127.1 300.9,126.9 301.9,126.6 302.9,126.3 303.9,126 304.9,125.7 305.9,125.4 306.9,125 307.9,124.7 308.9,124.4 309.9,124.1 310.9,123.7 311.9,123.4 312.9,123 313.9,122.7 314.9,122.4 315.9,122 316.9,121.7 317.9,121.4 318.9,121.1 319.9,120.7 320.9,120.4 321.9,120.1 322.9,119.9 323.9,119.6 324.9,119.3 325.9,119.1 326.9,118.8 327.9,118.6 328.9,118.4 329.9,118.2 330.9,118.1 331.9,117.9 332.9,117.8 333.9,117.7 334.9,117.6 335.9,117.6 336.9,117.5 337.9,117.5 338.9,117.5 339.9,117.5 340.9,117.6 341.9,117.7 342.9,117.7 343.9,117.9 344.9,118 345.9,118.2 346.9,118.3 347.9,118.5 348.9,118.7 349.9,119 350.9,119.2 351.9,119.5 352.9,119.7 353.9,120 354.9,120.3 355.9,120.6 356.9,121 357.9,121.3 358.9,121.6 359.9,122 360.9,122.3 361.9,122.7 362.9,123.1 363.9,123.4 364.9,123.8 365.9,124.1 366.9,124.5 367.9,124.9 368.9,125.2 369.9,125.6 370.9,125.9 371.9,126.2 372.9,126.6 373.9,126.9 374.9,127.2 375.9,127.5 376.9,127.8 377.9,128.1 378.9,128.4 379.9,128.7 380.9,129 381.9,129.2 382.9,129.5 383.9,129.7 384.9,129.9 385.9,130.1 386.9,130.4 387.9,130.6 388.9,130.7 389.9,130.9 390.9,131.1 391.9,131.3 392.9,131.4 393.9,131.6 394.9,131.7 395.9,131.8 396.9,131.9 397.9,132 398.9,132.2 399.9,132.3 400.9,132.3 401.9,132.4 402.9,132.5 403.9,132.6 404.9,132.7 405.9,132.7 406.9,132.8 407.9,132.8 408.9,132.9 409.9,133 410.9,133 411.9,133 412.9,133.1 413.9,133.1 414.9,133.2 415.9,133.2 416.9,133.2 417.9,133.2 418.9,133.3 419.9,133.3 420.9,133.3 421.9,133.3 422.9,133.4 423.9,133.4 424.9,133.4 425.9,133.4 426.9,133.4 427.9,133.5 428.9,133.5 429.9,133.5 430.9,133.5 431.9,133.5 432.9,133.5 433.9,133.6 434.9,133.6 435.9,133.6" fill="none" stroke="#5bb1e2" stroke-width="1.5" stroke-linejoin="round" stroke-linecap="round"/>
<g fill="#5a9ad8" fill-opacity="0.8"><circle cx="258.9" cy="132.7" r="1.6"/><circle cx="261.6" cy="132.4" r="1.6"/><circle cx="264.3" cy="134.6" r="1.6"/><circle cx="267" cy="131.9" r="1.6"/><circle cx="269.7" cy="130.6" r="1.6"/><circle cx="272.4" cy="130.6" r="1.6"/><circle cx="275.1" cy="131" r="1.6"/><circle cx="277.8" cy="132.3" r="1.6"/><circle cx="280.5" cy="130.1" r="1.6"/><circle cx="283.2" cy="131" r="1.6"/><circle cx="285.9" cy="132.9" r="1.6"/><circle cx="288.6" cy="125.5" r="1.6"/><circle cx="291.3" cy="127.3" r="1.6"/><circle cx="294" cy="129" r="1.6"/><circle cx="296.7" cy="128.6" r="1.6"/><circle cx="299.4" cy="127.7" r="1.6"/><circle cx="302.1" cy="125.8" r="1.6"/><circle cx="304.8" cy="126.8" r="1.6"/><circle cx="307.5" cy="125.3" r="1.6"/><circle cx="310.2" cy="123.1" r="1.6"/><circle cx="312.9" cy="126.9" r="1.6"/><circle cx="315.6" cy="122.7" r="1.6"/><circle cx="318.3" cy="120.4" r="1.6"/><circle cx="321" cy="120.3" r="1.6"/><circle cx="323.7" cy="119.3" r="1.6"/><circle cx="326.4" cy="118.9" r="1.6"/><circle cx="329.1" cy="114" r="1.6"/><circle cx="331.8" cy="117.2" r="1.6"/><circle cx="334.5" cy="119.3" r="1.6"/><circle cx="337.2" cy="115.6" r="1.6"/><circle cx="339.9" cy="117.4" r="1.6"/><circle cx="342.6" cy="119.2" r="1.6"/><circle cx="345.3" cy="119.4" r="1.6"/><circle cx="348" cy="120.9" r="1.6"/><circle cx="350.7" cy="116.4" r="1.6"/><circle cx="353.4" cy="119.3" r="1.6"/><circle cx="356.1" cy="120.2" r="1.6"/><circle cx="358.8" cy="122.6" r="1.6"/><circle cx="361.5" cy="124.3" r="1.6"/><circle cx="364.2" cy="119.2" r="1.6"/><circle cx="366.9" cy="126.2" r="1.6"/><circle cx="369.6" cy="123.1" r="1.6"/><circle cx="372.3" cy="127.5" r="1.6"/><circle cx="375" cy="124.9" r="1.6"/><circle cx="377.7" cy="128.4" r="1.6"/><circle cx="380.4" cy="130.7" r="1.6"/><circle cx="383.1" cy="129.3" r="1.6"/><circle cx="385.8" cy="130.4" r="1.6"/><circle cx="388.5" cy="131.9" r="1.6"/><circle cx="391.2" cy="131.4" r="1.6"/><circle cx="393.9" cy="131.4" r="1.6"/><circle cx="396.6" cy="134.4" r="1.6"/><circle cx="399.3" cy="133.9" r="1.6"/><circle cx="402" cy="132" r="1.6"/><circle cx="404.7" cy="137" r="1.6"/><circle cx="407.4" cy="131" r="1.6"/><circle cx="410.1" cy="134.4" r="1.6"/><circle cx="412.8" cy="132.7" r="1.6"/><circle cx="415.5" cy="133.4" r="1.6"/><circle cx="418.2" cy="134.4" r="1.6"/><circle cx="420.9" cy="133.7" r="1.6"/><circle cx="423.6" cy="134.4" r="1.6"/><circle cx="426.3" cy="131" r="1.6"/><circle cx="429" cy="131.1" r="1.6"/><circle cx="431.7" cy="134.5" r="1.6"/><circle cx="434.4" cy="132" r="1.6"/></g>
<text x="406.2" y="123.6" font-size="8.6" fill="#262626" textLength="25.8" lengthAdjust="spacingAndGlyphs">Dark-1</text>
<path d="M339.5 38.5 L339.5 63 L333.4 67.5 L333.4 104.5 L338.7 110 L338.7 126" fill="none" stroke="#777" stroke-width="0.8" stroke-dasharray="3 2"/>
<text x="331.2" y="35.4" font-size="8.0" fill="#262626" textLength="14.3" lengthAdjust="spacingAndGlyphs">B-N</text>
<line x1="340.5" y1="67.3" x2="351" y2="67.3" stroke="#555" stroke-width="0.7"/>
<path d="M351 67.3 L348.4 66 L348.4 68.6 Z" fill="#555"/>
<text x="354.4" y="70.3" font-size="8.6" fill="#262626" textLength="23.5" lengthAdjust="spacingAndGlyphs">0.2 eV</text>
<line x1="332" y1="108.6" x2="319.8" y2="108.6" stroke="#555" stroke-width="0.7"/>
<path d="M319.8 108.6 L322.4 107.3 L322.4 109.9 Z" fill="#555"/>
<text x="291.5" y="111.6" font-size="8.6" fill="#262626" textLength="23.5" lengthAdjust="spacingAndGlyphs">0.2 eV</text>
<text x="266.7" y="23.9" font-size="10.4" fill="#262626" textLength="19.3" lengthAdjust="spacingAndGlyphs">B 1<tspan font-style="italic">s</tspan></text>
<rect x="257.9" y="6.8" width="178.3" height="143.6" fill="none" stroke="#3a3a3a" stroke-width="1"/>
<line x1="283.4" y1="150.4" x2="283.4" y2="147.4" stroke="#333" stroke-width="0.8"/>
<line x1="334.3" y1="150.4" x2="334.3" y2="147.4" stroke="#333" stroke-width="0.8"/>
<line x1="385.3" y1="150.4" x2="385.3" y2="147.4" stroke="#333" stroke-width="0.8"/>
<line x1="436.2" y1="150.4" x2="436.2" y2="147.4" stroke="#333" stroke-width="0.8"/>
<line x1="257.9" y1="150.4" x2="257.9" y2="148.4" stroke="#333" stroke-width="0.8"/>
<line x1="308.8" y1="150.4" x2="308.8" y2="148.4" stroke="#333" stroke-width="0.8"/>
<line x1="359.8" y1="150.4" x2="359.8" y2="148.4" stroke="#333" stroke-width="0.8"/>
<line x1="410.7" y1="150.4" x2="410.7" y2="148.4" stroke="#333" stroke-width="0.8"/>
<text x="283.4" y="160.7" font-size="8.4" text-anchor="middle" fill="#262626">194</text>
<text x="334.3" y="160.7" font-size="8.4" text-anchor="middle" fill="#262626">192</text>
<text x="385.3" y="160.7" font-size="8.4" text-anchor="middle" fill="#262626">190</text>
<text x="436.2" y="160.7" font-size="8.4" text-anchor="middle" fill="#262626">188</text>
<text x="347" y="180.4" font-size="10.6" text-anchor="middle" fill="#262626" textLength="96.3" lengthAdjust="spacingAndGlyphs">Binding energy (eV)</text>
<text transform="translate(244 74.8) rotate(-90)" font-size="10.6" text-anchor="middle" textLength="71.5" lengthAdjust="spacingAndGlyphs" fill="#262626">Intensity (a.u.)</text>
<text x="470.5" y="11.2" font-size="15" font-weight="bold" fill="#000">c</text>
<path d="M495.8 58.6 L496.8 58.6 L497.8 58.6 L498.8 58.6 L499.8 58.6 L500.8 58.6 L501.8 58.7 L502.8 58.7 L503.8 58.7 L504.8 58.7 L505.8 58.7 L506.8 58.7 L507.8 58.7 L508.8 58.7 L509.8 58.7 L510.8 58.6 L511.8 58.6 L512.8 58.6 L513.8 58.5 L514.8 58.5 L515.8 58.4 L516.8 58.3 L517.8 58.2 L518.8 58 L519.8 57.8 L520.8 57.6 L521.8 57.3 L522.8 57 L523.8 56.6 L524.8 56.2 L525.8 55.8 L526.8 55.3 L527.8 54.8 L528.8 54.3 L529.8 53.7 L530.8 53.2 L531.8 52.6 L532.8 52.1 L533.8 51.6 L534.8 51.2 L535.8 50.8 L536.8 50.5 L537.8 50.3 L538.8 50.2 L539.8 50.2 L540.8 50.3 L541.8 50.4 L542.8 50.7 L543.8 51 L544.8 51.5 L545.8 51.9 L546.8 52.5 L547.8 53 L548.8 53.6 L549.8 54.1 L550.8 54.7 L551.8 55.2 L552.8 55.8 L553.8 56.2 L554.8 56.7 L555.8 57.1 L556.8 57.4 L557.8 57.8 L558.8 58 L559.8 58.3 L560.8 58.5 L561.8 58.6 L562.8 58.8 L563.8 58.9 L564.8 59 L565.8 59 L566.8 59.1 L567.8 59.1 L568.8 59.2 L569.8 59.2 L570.8 59.2 L571.8 59.3 L572.8 59.3 L573.8 59.3 L574.8 59.3 L575.8 59.3 L576.8 59.3 L577.8 59.3 L578.8 59.3 L579.8 59.4 L580.8 59.4 L581.8 59.4 L582.8 59.4 L583.8 59.4 L584.8 59.4 L585.8 59.4 L586.8 59.4 L587.8 59.4 L588.8 59.4 L589.8 59.4 L590.8 59.5 L591.8 59.5 L592.8 59.5 L593.8 59.5 L594.8 59.5 L595.8 59.5 L596.8 59.5 L597.8 59.5 L598.8 59.5 L599.8 59.5 L600.8 59.5 L601.8 59.5 L602.8 59.6 L603.8 59.6 L604.8 59.6 L605.8 59.6 L606.8 59.6 L607.8 59.6 L608.8 59.6 L609.8 59.6 L610.8 59.6 L611.8 59.6 L612.8 59.6 L613.8 59.7 L614.8 59.7 L615.8 59.7 L616.8 59.7 L617.8 59.7 L618.8 59.7 L619.8 59.7 L620.8 59.7 L621.8 59.7 L622.8 59.7 L623.8 59.7 L624.8 59.8 L625.8 59.8 L626.8 59.8 L627.8 59.8 L628.8 59.8 L629.8 59.8 L630.8 59.8 L631.8 59.8 L632.8 59.8 L633.8 59.8 L634.8 59.8 L635.8 59.9 L636.8 59.9 L637.8 59.9 L638.8 59.9 L639.8 59.9 L640.8 59.9 L641.8 59.9 L642.8 59.9 L643.8 59.9 L644.8 59.9 L645.8 59.9 L646.8 60 L647.8 60 L648.8 60 L649.8 60 L650.8 60 L651.8 60 L652.8 60 L653.8 60 L654.8 60 L655.8 60 L656.8 60 L657.8 60 L658.8 60.1 L659.8 60.1 L660.8 60.1 L661.8 60.1 L662.8 60.1 L663.8 60.1 L664.8 60.1 L665.8 60.1 L666.8 60.1 L667.8 60.1 L668.8 60.1 L669.8 60.2 L670.8 60.2 L671.8 60.2 L672.8 60.2 L673.8 60.2 L674.6 60.2 L674.6 60.2 L495.8 58.6 Z" fill="#dfe2f6" fill-opacity="0.8"/>
<path d="M495.8 58.6 L496.8 58.6 L497.8 58.6 L498.8 58.6 L499.8 58.6 L500.8 58.6 L501.8 58.7 L502.8 58.7 L503.8 58.7 L504.8 58.7 L505.8 58.7 L506.8 58.7 L507.8 58.7 L508.8 58.7 L509.8 58.7 L510.8 58.7 L511.8 58.7 L512.8 58.8 L513.8 58.8 L514.8 58.8 L515.8 58.8 L516.8 58.8 L517.8 58.8 L518.8 58.8 L519.8 58.8 L520.8 58.8 L521.8 58.8 L522.8 58.8 L523.8 58.9 L524.8 58.9 L525.8 58.9 L526.8 58.9 L527.8 58.9 L528.8 58.9 L529.8 58.9 L530.8 58.9 L531.8 58.9 L532.8 58.9 L533.8 58.9 L534.8 58.9 L535.8 59 L536.8 59 L537.8 59 L538.8 59 L539.8 59 L540.8 59 L541.8 59 L542.8 59 L543.8 59 L544.8 59 L545.8 59 L546.8 59.1 L547.8 59.1 L548.8 59.1 L549.8 59.1 L550.8 59.1 L551.8 59.1 L552.8 59.1 L553.8 59.1 L554.8 59.1 L555.8 59.1 L556.8 59.1 L557.8 59.2 L558.8 59.2 L559.8 59.2 L560.8 59.2 L561.8 59.2 L562.8 59.2 L563.8 59.2 L564.8 59.2 L565.8 59.2 L566.8 59.2 L567.8 59.2 L568.8 59.3 L569.8 59.3 L570.8 59.3 L571.8 59.3 L572.8 59.3 L573.8 59.3 L574.8 59.3 L575.8 59.3 L576.8 59.3 L577.8 59.3 L578.8 59.3 L579.8 59.4 L580.8 59.4 L581.8 59.4 L582.8 59.4 L583.8 59.4 L584.8 59.4 L585.8 59.4 L586.8 59.4 L587.8 59.4 L588.8 59.4 L589.8 59.4 L590.8 59.4 L591.8 59.4 L592.8 59.4 L593.8 59.4 L594.8 59.4 L595.8 59.4 L596.8 59.3 L597.8 59.2 L598.8 59.1 L599.8 58.9 L600.8 58.7 L601.8 58.3 L602.8 57.9 L603.8 57.3 L604.8 56.6 L605.8 55.7 L606.8 54.7 L607.8 53.5 L608.8 52.2 L609.8 50.8 L610.8 49.3 L611.8 47.9 L612.8 46.5 L613.8 45.2 L614.8 44.1 L615.8 43.2 L616.8 42.7 L617.8 42.5 L618.8 42.6 L619.8 43.1 L620.8 43.8 L621.8 44.7 L622.8 45.8 L623.8 47.1 L624.8 48.5 L625.8 49.9 L626.8 51.3 L627.8 52.6 L628.8 53.8 L629.8 54.9 L630.8 55.9 L631.8 56.7 L632.8 57.4 L633.8 58 L634.8 58.5 L635.8 58.9 L636.8 59.1 L637.8 59.4 L638.8 59.5 L639.8 59.6 L640.8 59.7 L641.8 59.8 L642.8 59.8 L643.8 59.9 L644.8 59.9 L645.8 59.9 L646.8 59.9 L647.8 60 L648.8 60 L649.8 60 L650.8 60 L651.8 60 L652.8 60 L653.8 60 L654.8 60 L655.8 60 L656.8 60 L657.8 60 L658.8 60.1 L659.8 60.1 L660.8 60.1 L661.8 60.1 L662.8 60.1 L663.8 60.1 L664.8 60.1 L665.8 60.1 L666.8 60.1 L667.8 60.1 L668.8 60.1 L669.8 60.2 L670.8 60.2 L671.8 60.2 L672.8 60.2 L673.8 60.2 L674.6 60.2 L674.6 60.2 L495.8 58.6 Z" fill="#f9d9dc" fill-opacity="0.85"/>
<line x1="495.8" y1="58.6" x2="674.6" y2="60.2" stroke="#a7d2c3" stroke-width="1.3"/>
<polyline points="496.3,58 497,57.8 497.7,59.3 498.4,59 499.1,59.4 499.8,58.1 500.5,58.6 501.2,58 501.9,59.1 502.6,59.5 503.3,58.2 504,59.5 504.7,59.2 505.4,58.6 506.1,57.6 506.8,59.4 507.5,58.6 508.2,58.3 508.9,58.9 509.6,58.9 510.3,59.5 511,58.1 511.7,59.2 512.4,59.4 513.1,59.4 513.8,58.4 514.5,58.1 515.2,59 515.9,58.5 516.6,58.4 517.3,59 518,58 518.7,56.8 519.4,57.7 520.1,56.7 520.8,58 521.5,57.6 522.2,56.9 522.9,57 523.6,57.2 524.3,56.5 525,56.9 525.7,55.8 526.4,56.1 527.1,56 527.8,55.7 528.5,54.1 529.2,54.5 529.9,52.6 530.6,52.7 531.3,51.8 532,53.1 532.7,51.5 533.4,51.8 534.1,51.4 534.8,51.2 535.5,50.6 536.2,50.8 536.9,51.5 537.6,50.4 538.3,50.6 539,50.8 539.7,50.1 540.4,49.5 541.1,50 541.8,51 542.5,49.7 543.2,50.5 543.9,51.6 544.6,51.8 545.3,51.7 546,52.5 546.7,52.5 547.4,52.1 548.1,52.3 548.8,53.2 549.5,54.5 550.2,54.1 550.9,54.3 551.6,54.7 552.3,54.7 553,55.8 553.7,55.5 554.4,56.7 555.1,55.5 555.8,57.3 556.5,57 557.2,56.5 557.9,58.2 558.6,57.8 559.3,56.9 560,57.8 560.7,58.6 561.4,58.3 562.1,59.1 562.8,59.2 563.5,59.2 564.2,59.1 564.9,59.7 565.6,59.4 566.3,59.3 567,58 567.7,59.6 568.4,59.9 569.1,59 569.8,58.9 570.5,60.3 571.2,58.3 571.9,59.5 572.6,60.6 573.3,58.8 574,59.7 574.7,60.3 575.4,59.2 576.1,59.6 576.8,59.8 577.5,58.8 578.2,59.3 578.9,59.5 579.6,59.8 580.3,59.3 581,59.3 581.7,58.8 582.4,59.2 583.1,59.9 583.8,59.4 584.5,58.9 585.2,58.9 585.9,60.9 586.6,60 587.3,59.8 588,58 588.7,59.8 589.4,59.7 590.1,60.4 590.8,59.7 591.5,59.4 592.2,59.7 592.9,58.4 593.6,60 594.3,59.6 595,59 595.7,60.1 596.4,60.3 597.1,58.5 597.8,58.9 598.5,59.3 599.2,59.1 599.9,58.7 600.6,58.2 601.3,59.7 602,58.8 602.7,57.3 603.4,56.8 604.1,58 604.8,57.1 605.5,57 606.2,55.8 606.9,54.1 607.6,53.9 608.3,51.7 609,51.5 609.7,50.9 610.4,50.2 611.1,48.5 611.8,47.8 612.5,47.1 613.2,46.1 613.9,45.4 614.6,44.4 615.3,43.4 616,43.5 616.7,42.8 617.4,42.1 618.1,42.2 618.8,42.6 619.5,42.8 620.2,43.4 620.9,43.8 621.6,44.6 622.3,45.2 623,45.4 623.7,47.2 624.4,48.5 625.1,49.1 625.8,49.8 626.5,51.1 627.2,51.3 627.9,51.7 628.6,53.6 629.3,53.9 630,55.5 630.7,55.2 631.4,55 632.1,56.4 632.8,58.3 633.5,57.6 634.2,57.5 634.9,58.1 635.6,59.1 636.3,59.3 637,59.3 637.7,60.2 638.4,59.9 639.1,59.6 639.8,60 640.5,60.6 641.2,60.3 641.9,60.4 642.6,59.2 643.3,59.8 644,60.3 644.7,59.7 645.4,60.5 646.1,60.3 646.8,60.4 647.5,59.8 648.2,61.4 648.9,60.6 649.6,59.9 650.3,60 651,61.4 651.7,59.8 652.4,60.5 653.1,60.5 653.8,60 654.5,59.4 655.2,60.1 655.9,60.2 656.6,60.7 657.3,60.5 658,60.1 658.7,60.5 659.4,60.4 660.1,60.2 660.8,60.1 661.5,59.9 662.2,60.5 662.9,59.5 663.6,59.8 664.3,60.1 665,59.3 665.7,59.9 666.4,59 667.1,59.8 667.8,60.5 668.5,60.5 669.2,60.1 669.9,60 670.6,59.4 671.3,61.2 672,60.5 672.7,60.8 673.4,59.7 674.1,60.1" fill="none" stroke="#7dba66" stroke-width="2.9" stroke-linejoin="round" stroke-linecap="round" stroke-opacity="0.8"/>
<polyline points="499.8,58.6 500.8,58.6 501.8,58.7 502.8,58.7 503.8,58.7 504.8,58.7 505.8,58.7 506.8,58.7 507.8,58.7 508.8,58.7 509.8,58.7 510.8,58.6 511.8,58.6 512.8,58.6 513.8,58.5 514.8,58.5 515.8,58.4 516.8,58.3 517.8,58.2 518.8,58 519.8,57.8 520.8,57.6 521.8,57.3 522.8,57 523.8,56.6 524.8,56.2 525.8,55.8 526.8,55.3 527.8,54.8 528.8,54.3 529.8,53.7 530.8,53.2 531.8,52.6 532.8,52.1 533.8,51.6 534.8,51.2 535.8,50.8 536.8,50.5 537.8,50.3 538.8,50.2 539.8,50.2 540.8,50.3 541.8,50.4 542.8,50.7 543.8,51 544.8,51.5 545.8,51.9 546.8,52.5 547.8,53 548.8,53.6 549.8,54.1 550.8,54.7 551.8,55.2 552.8,55.8 553.8,56.2 554.8,56.7 555.8,57.1 556.8,57.4 557.8,57.8 558.8,58 559.8,58.3 560.8,58.5 561.8,58.6 562.8,58.8 563.8,58.9 564.8,59 565.8,59 566.8,59.1 567.8,59.1 568.8,59.2 569.8,59.2 570.8,59.2 571.8,59.3 572.8,59.3 573.8,59.3 574.8,59.3 575.8,59.3 576.8,59.3 577.8,59.3 578.8,59.3" fill="none" stroke="#5a9fdc" stroke-width="1.1" stroke-linejoin="round" stroke-linecap="round"/>
<polyline points="586.8,59.4 587.8,59.4 588.8,59.4 589.8,59.4 590.8,59.4 591.8,59.4 592.8,59.4 593.8,59.4 594.8,59.4 595.8,59.4 596.8,59.3 597.8,59.2 598.8,59.1 599.8,58.9 600.8,58.7 601.8,58.3 602.8,57.9 603.8,57.3 604.8,56.6 605.8,55.7 606.8,54.7 607.8,53.5 608.8,52.2 609.8,50.8 610.8,49.3 611.8,47.9 612.8,46.5 613.8,45.2 614.8,44.1 615.8,43.2 616.8,42.7 617.8,42.5 618.8,42.6 619.8,43.1 620.8,43.8 621.8,44.7 622.8,45.8 623.8,47.1 624.8,48.5 625.8,49.9 626.8,51.3 627.8,52.6 628.8,53.8 629.8,54.9 630.8,55.9 631.8,56.7 632.8,57.4 633.8,58 634.8,58.5 635.8,58.9 636.8,59.1 637.8,59.4 638.8,59.5 639.8,59.6 640.8,59.7 641.8,59.8 642.8,59.8 643.8,59.9 644.8,59.9 645.8,59.9 646.8,59.9 647.8,60 648.8,60" fill="none" stroke="#f2a27a" stroke-width="1.1" stroke-linejoin="round" stroke-linecap="round"/>
<text x="644.3" y="51" font-size="8.6" fill="#262626" textLength="25.2" lengthAdjust="spacingAndGlyphs">Dark-2</text>
<path d="M495.8 93.8 L496.8 93.8 L497.8 93.8 L498.8 93.8 L499.8 93.8 L500.8 93.8 L501.8 93.8 L502.8 93.8 L503.8 93.8 L504.8 93.8 L505.8 93.8 L506.8 93.7 L507.8 93.7 L508.8 93.6 L509.8 93.6 L510.8 93.5 L511.8 93.4 L512.8 93.2 L513.8 93.1 L514.8 92.9 L515.8 92.7 L516.8 92.5 L517.8 92.2 L518.8 91.9 L519.8 91.6 L520.8 91.2 L521.8 90.8 L522.8 90.4 L523.8 89.9 L524.8 89.4 L525.8 88.9 L526.8 88.3 L527.8 87.7 L528.8 87.2 L529.8 86.6 L530.8 86 L531.8 85.4 L532.8 84.8 L533.8 84.2 L534.8 83.7 L535.8 83.2 L536.8 82.8 L537.8 82.4 L538.8 82.1 L539.8 81.8 L540.8 81.6 L541.8 81.5 L542.8 81.5 L543.8 81.5 L544.8 81.7 L545.8 81.9 L546.8 82.1 L547.8 82.5 L548.8 82.9 L549.8 83.3 L550.8 83.8 L551.8 84.4 L552.8 84.9 L553.8 85.6 L554.8 86.2 L555.8 86.8 L556.8 87.4 L557.8 88.1 L558.8 88.7 L559.8 89.3 L560.8 89.9 L561.8 90.4 L562.8 90.9 L563.8 91.4 L564.8 91.9 L565.8 92.3 L566.8 92.7 L567.8 93 L568.8 93.3 L569.8 93.6 L570.8 93.9 L571.8 94.1 L572.8 94.3 L573.8 94.5 L574.8 94.6 L575.8 94.8 L576.8 94.9 L577.8 95 L578.8 95.1 L579.8 95.2 L580.8 95.2 L581.8 95.3 L582.8 95.3 L583.8 95.4 L584.8 95.4 L585.8 95.5 L586.8 95.5 L587.8 95.5 L588.8 95.5 L589.8 95.6 L590.8 95.6 L591.8 95.6 L592.8 95.6 L593.8 95.7 L594.8 95.7 L595.8 95.7 L596.8 95.7 L597.8 95.7 L598.8 95.8 L599.8 95.8 L600.8 95.8 L601.8 95.8 L602.8 95.8 L603.8 95.9 L604.8 95.9 L605.8 95.9 L606.8 95.9 L607.8 95.9 L608.8 95.9 L609.8 96 L610.8 96 L611.8 96 L612.8 96 L613.8 96 L614.8 96.1 L615.8 96.1 L616.8 96.1 L617.8 96.1 L618.8 96.1 L619.8 96.2 L620.8 96.2 L621.8 96.2 L622.8 96.2 L623.8 96.2 L624.8 96.3 L625.8 96.3 L626.8 96.3 L627.8 96.3 L628.8 96.3 L629.8 96.3 L630.8 96.4 L631.8 96.4 L632.8 96.4 L633.8 96.4 L634.8 96.4 L635.8 96.5 L636.8 96.5 L637.8 96.5 L638.8 96.5 L639.8 96.5 L640.8 96.6 L641.8 96.6 L642.8 96.6 L643.8 96.6 L644.8 96.6 L645.8 96.7 L646.8 96.7 L647.8 96.7 L648.8 96.7 L649.8 96.7 L650.8 96.7 L651.8 96.8 L652.8 96.8 L653.8 96.8 L654.8 96.8 L655.8 96.8 L656.8 96.9 L657.8 96.9 L658.8 96.9 L659.8 96.9 L660.8 96.9 L661.8 97 L662.8 97 L663.8 97 L664.8 97 L665.8 97 L666.8 97.1 L667.8 97.1 L668.8 97.1 L669.8 97.1 L670.8 97.1 L671.8 97.1 L672.8 97.2 L673.8 97.2 L674.6 97.2 L674.6 97.2 L495.8 93.8 Z" fill="#dfe2f6" fill-opacity="0.8"/>
<path d="M495.8 93.8 L496.8 93.8 L497.8 93.8 L498.8 93.9 L499.8 93.9 L500.8 93.9 L501.8 93.9 L502.8 93.9 L503.8 94 L504.8 94 L505.8 94 L506.8 94 L507.8 94 L508.8 94 L509.8 94.1 L510.8 94.1 L511.8 94.1 L512.8 94.1 L513.8 94.1 L514.8 94.2 L515.8 94.2 L516.8 94.2 L517.8 94.2 L518.8 94.2 L519.8 94.3 L520.8 94.3 L521.8 94.3 L522.8 94.3 L523.8 94.3 L524.8 94.4 L525.8 94.4 L526.8 94.4 L527.8 94.4 L528.8 94.4 L529.8 94.4 L530.8 94.5 L531.8 94.5 L532.8 94.5 L533.8 94.5 L534.8 94.5 L535.8 94.6 L536.8 94.6 L537.8 94.6 L538.8 94.6 L539.8 94.6 L540.8 94.7 L541.8 94.7 L542.8 94.7 L543.8 94.7 L544.8 94.7 L545.8 94.8 L546.8 94.8 L547.8 94.8 L548.8 94.8 L549.8 94.8 L550.8 94.8 L551.8 94.9 L552.8 94.9 L553.8 94.9 L554.8 94.9 L555.8 94.9 L556.8 95 L557.8 95 L558.8 95 L559.8 95 L560.8 95 L561.8 95.1 L562.8 95.1 L563.8 95.1 L564.8 95.1 L565.8 95.1 L566.8 95.2 L567.8 95.2 L568.8 95.2 L569.8 95.2 L570.8 95.2 L571.8 95.2 L572.8 95.3 L573.8 95.3 L574.8 95.3 L575.8 95.3 L576.8 95.3 L577.8 95.4 L578.8 95.4 L579.8 95.4 L580.8 95.4 L581.8 95.4 L582.8 95.4 L583.8 95.4 L584.8 95.4 L585.8 95.4 L586.8 95.4 L587.8 95.4 L588.8 95.4 L589.8 95.3 L590.8 95.3 L591.8 95.2 L592.8 95.1 L593.8 95 L594.8 94.8 L595.8 94.5 L596.8 94.3 L597.8 93.9 L598.8 93.5 L599.8 93.1 L600.8 92.5 L601.8 91.9 L602.8 91.1 L603.8 90.3 L604.8 89.4 L605.8 88.4 L606.8 87.4 L607.8 86.2 L608.8 85 L609.8 83.7 L610.8 82.5 L611.8 81.2 L612.8 79.9 L613.8 78.7 L614.8 77.6 L615.8 76.6 L616.8 75.7 L617.8 74.9 L618.8 74.3 L619.8 73.9 L620.8 73.7 L621.8 73.7 L622.8 73.8 L623.8 74.1 L624.8 74.5 L625.8 75 L626.8 75.7 L627.8 76.4 L628.8 77.2 L629.8 78.1 L630.8 79 L631.8 80 L632.8 81.1 L633.8 82.1 L634.8 83.2 L635.8 84.3 L636.8 85.3 L637.8 86.3 L638.8 87.3 L639.8 88.3 L640.8 89.2 L641.8 90 L642.8 90.8 L643.8 91.5 L644.8 92.2 L645.8 92.8 L646.8 93.3 L647.8 93.8 L648.8 94.3 L649.8 94.7 L650.8 95 L651.8 95.3 L652.8 95.6 L653.8 95.8 L654.8 96 L655.8 96.2 L656.8 96.3 L657.8 96.4 L658.8 96.5 L659.8 96.6 L660.8 96.7 L661.8 96.8 L662.8 96.8 L663.8 96.9 L664.8 96.9 L665.8 97 L666.8 97 L667.8 97 L668.8 97.1 L669.8 97.1 L670.8 97.1 L671.8 97.1 L672.8 97.2 L673.8 97.2 L674.6 97.2 L674.6 97.2 L495.8 93.8 Z" fill="#f9d9dc" fill-opacity="0.85"/>
<line x1="495.8" y1="93.8" x2="674.6" y2="97.2" stroke="#a7d2c3" stroke-width="1.3"/>
<polyline points="496.3,92.8 497,94.2 497.7,94.3 498.4,92.8 499.1,93.8 499.8,94.2 500.5,92.9 501.2,92.8 501.9,93.2 502.6,93.5 503.3,93 504,93.8 504.7,93.9 505.4,94.1 506.1,94.1 506.8,94.6 507.5,94.3 508.2,92.9 508.9,93.3 509.6,93 510.3,92.9 511,93.4 511.7,93.4 512.4,93.6 513.1,92.3 513.8,92.4 514.5,92.9 515.2,92.7 515.9,92.5 516.6,92.5 517.3,91.9 518,92.5 518.7,92.1 519.4,91.7 520.1,91.1 520.8,91.1 521.5,89.4 522.2,90.1 522.9,90.3 523.6,89.2 524.3,89.8 525,89.4 525.7,88.2 526.4,88.4 527.1,88 527.8,88 528.5,87.7 529.2,86.9 529.9,86 530.6,86 531.3,85.6 532,85.7 532.7,85 533.4,84.1 534.1,83.3 534.8,83.5 535.5,83 536.2,82.4 536.9,82.7 537.6,82.2 538.3,82.3 539,82.3 539.7,81.6 540.4,83 541.1,81.4 541.8,82.1 542.5,81.6 543.2,82.1 543.9,80.2 544.6,81.2 545.3,81.9 546,82.2 546.7,83.4 547.4,82.5 548.1,83.3 548.8,83.3 549.5,83.7 550.2,83.8 550.9,83.8 551.6,84.5 552.3,84.1 553,85.7 553.7,84.9 554.4,86.1 555.1,87.5 555.8,86.7 556.5,87.3 557.2,88.3 557.9,88.2 558.6,88.1 559.3,89.1 560,89.7 560.7,90.2 561.4,89.8 562.1,91.5 562.8,91.9 563.5,91.3 564.2,91.8 564.9,91.7 565.6,93 566.3,92.1 567,93.1 567.7,92.7 568.4,92.8 569.1,93.8 569.8,94.4 570.5,93.8 571.2,93.6 571.9,94.6 572.6,94.2 573.3,94.6 574,95.4 574.7,95.2 575.4,94.4 576.1,96.1 576.8,94.9 577.5,95.4 578.2,94.7 578.9,95.1 579.6,94.2 580.3,96.2 581,96 581.7,94.6 582.4,94.5 583.1,94.4 583.8,96 584.5,95.1 585.2,95.3 585.9,95.2 586.6,95.3 587.3,94.8 588,95.4 588.7,94.6 589.4,95.3 590.1,95.5 590.8,95.5 591.5,95.1 592.2,94.7 592.9,95.2 593.6,94.7 594.3,95.7 595,95.2 595.7,94.5 596.4,94.1 597.1,93.8 597.8,93.4 598.5,93.5 599.2,93.5 599.9,93.3 600.6,92.9 601.3,93.4 602,91.3 602.7,91.2 603.4,92.2 604.1,89 604.8,89.1 605.5,88.8 606.2,88.1 606.9,87.5 607.6,86.3 608.3,85.8 609,84.8 609.7,84.3 610.4,81.9 611.1,81.6 611.8,81.2 612.5,79.7 613.2,78.9 613.9,79 614.6,77.5 615.3,77.4 616,76.8 616.7,75.9 617.4,75.5 618.1,74.7 618.8,73.5 619.5,74 620.2,74.1 620.9,73.4 621.6,73.6 622.3,74.2 623,73.4 623.7,74.4 624.4,75.4 625.1,74.3 625.8,75.1 626.5,75.4 627.2,76.8 627.9,76.6 628.6,77.5 629.3,77.3 630,78.3 630.7,78.9 631.4,78.7 632.1,81.1 632.8,81.6 633.5,80.9 634.2,83 634.9,83.3 635.6,84.3 636.3,85 637,84.7 637.7,86.1 638.4,87.8 639.1,87.3 639.8,87.7 640.5,88.2 641.2,88.8 641.9,90.3 642.6,91.6 643.3,91.4 644,91.8 644.7,93.3 645.4,92.3 646.1,92.6 646.8,93.6 647.5,94 648.2,93.5 648.9,93.7 649.6,94.7 650.3,95 651,94.3 651.7,95.2 652.4,95.2 653.1,95.9 653.8,95.7 654.5,95.9 655.2,95.9 655.9,96.8 656.6,97 657.3,96.2 658,96.9 658.7,96.1 659.4,96.6 660.1,97.1 660.8,97.5 661.5,96.5 662.2,96.8 662.9,96.9 663.6,96.1 664.3,96.9 665,96.6 665.7,97.2 666.4,96.4 667.1,95.9 667.8,97.1 668.5,97.2 669.2,96.8 669.9,97.6 670.6,97 671.3,96.8 672,97.4 672.7,96.3 673.4,96.8 674.1,97.2" fill="none" stroke="#e8837a" stroke-width="2.9" stroke-linejoin="round" stroke-linecap="round" stroke-opacity="0.8"/>
<polyline points="495.8,93.8 496.8,93.8 497.8,93.8 498.8,93.8 499.8,93.8 500.8,93.8 501.8,93.8 502.8,93.8 503.8,93.8 504.8,93.8 505.8,93.8 506.8,93.7 507.8,93.7 508.8,93.6 509.8,93.6 510.8,93.5 511.8,93.4 512.8,93.2 513.8,93.1 514.8,92.9 515.8,92.7 516.8,92.5 517.8,92.2 518.8,91.9 519.8,91.6 520.8,91.2 521.8,90.8 522.8,90.4 523.8,89.9 524.8,89.4 525.8,88.9 526.8,88.3 527.8,87.7 528.8,87.2 529.8,86.6 530.8,86 531.8,85.4 532.8,84.8 533.8,84.2 534.8,83.7 535.8,83.2 536.8,82.8 537.8,82.4 538.8,82.1 539.8,81.8 540.8,81.6 541.8,81.5 542.8,81.5 543.8,81.5 544.8,81.7 545.8,81.9 546.8,82.1 547.8,82.5 548.8,82.9 549.8,83.3 550.8,83.8 551.8,84.4 552.8,84.9 553.8,85.6 554.8,86.2 555.8,86.8 556.8,87.4 557.8,88.1 558.8,88.7 559.8,89.3 560.8,89.9 561.8,90.4 562.8,90.9 563.8,91.4 564.8,91.9 565.8,92.3 566.8,92.7 567.8,93 568.8,93.3 569.8,93.6 570.8,93.9 571.8,94.1 572.8,94.3 573.8,94.5 574.8,94.6 575.8,94.8 576.8,94.9 577.8,95 578.8,95.1 579.8,95.2 580.8,95.2 581.8,95.3 582.8,95.3 583.8,95.4 584.8,95.4 585.8,95.5 586.8,95.5 587.8,95.5 588.8,95.5 589.8,95.6 590.8,95.6 591.8,95.6 592.8,95.6 593.8,95.7 594.8,95.7 595.8,95.7 596.8,95.7" fill="none" stroke="#5a9fdc" stroke-width="1.1" stroke-linejoin="round" stroke-linecap="round"/>
<polyline points="567.8,95.2 568.8,95.2 569.8,95.2 570.8,95.2 571.8,95.2 572.8,95.3 573.8,95.3 574.8,95.3 575.8,95.3 576.8,95.3 577.8,95.4 578.8,95.4 579.8,95.4 580.8,95.4 581.8,95.4 582.8,95.4 583.8,95.4 584.8,95.4 585.8,95.4 586.8,95.4 587.8,95.4 588.8,95.4 589.8,95.3 590.8,95.3 591.8,95.2 592.8,95.1 593.8,95 594.8,94.8 595.8,94.5 596.8,94.3 597.8,93.9 598.8,93.5 599.8,93.1 600.8,92.5 601.8,91.9 602.8,91.1 603.8,90.3 604.8,89.4 605.8,88.4 606.8,87.4 607.8,86.2 608.8,85 609.8,83.7 610.8,82.5 611.8,81.2 612.8,79.9 613.8,78.7 614.8,77.6 615.8,76.6 616.8,75.7 617.8,74.9 618.8,74.3 619.8,73.9 620.8,73.7 621.8,73.7 622.8,73.8 623.8,74.1 624.8,74.5 625.8,75 626.8,75.7 627.8,76.4 628.8,77.2 629.8,78.1 630.8,79 631.8,80 632.8,81.1 633.8,82.1 634.8,83.2 635.8,84.3 636.8,85.3 637.8,86.3 638.8,87.3 639.8,88.3 640.8,89.2 641.8,90 642.8,90.8 643.8,91.5 644.8,92.2 645.8,92.8 646.8,93.3 647.8,93.8 648.8,94.3 649.8,94.7 650.8,95 651.8,95.3 652.8,95.6 653.8,95.8 654.8,96 655.8,96.2 656.8,96.3 657.8,96.4 658.8,96.5 659.8,96.6 660.8,96.7 661.8,96.8 662.8,96.8 663.8,96.9 664.8,96.9 665.8,97 666.8,97 667.8,97 668.8,97.1 669.8,97.1 670.8,97.1 671.8,97.1 672.8,97.2 673.8,97.2 674.6,97.2" fill="none" stroke="#ef9a9a" stroke-width="1.1" stroke-linejoin="round" stroke-linecap="round"/>
<text x="651" y="84.4" font-size="8.6" fill="#262626" textLength="18.5" lengthAdjust="spacingAndGlyphs">Light</text>
<path d="M495.8 130.8 L496.8 130.8 L497.8 130.8 L498.8 130.8 L499.8 130.9 L500.8 130.9 L501.8 130.9 L502.8 130.9 L503.8 130.9 L504.8 130.9 L505.8 130.9 L506.8 130.9 L507.8 130.9 L508.8 130.9 L509.8 130.9 L510.8 130.8 L511.8 130.8 L512.8 130.7 L513.8 130.6 L514.8 130.5 L515.8 130.4 L516.8 130.2 L517.8 130 L518.8 129.7 L519.8 129.4 L520.8 129 L521.8 128.6 L522.8 128.2 L523.8 127.6 L524.8 127 L525.8 126.4 L526.8 125.7 L527.8 125 L528.8 124.3 L529.8 123.5 L530.8 122.8 L531.8 122.1 L532.8 121.4 L533.8 120.7 L534.8 120.2 L535.8 119.7 L536.8 119.3 L537.8 119.1 L538.8 118.9 L539.8 118.9 L540.8 119 L541.8 119.2 L542.8 119.6 L543.8 120 L544.8 120.6 L545.8 121.2 L546.8 121.9 L547.8 122.6 L548.8 123.4 L549.8 124.2 L550.8 124.9 L551.8 125.7 L552.8 126.4 L553.8 127.1 L554.8 127.8 L555.8 128.3 L556.8 128.9 L557.8 129.4 L558.8 129.8 L559.8 130.2 L560.8 130.5 L561.8 130.8 L562.8 131 L563.8 131.2 L564.8 131.4 L565.8 131.5 L566.8 131.6 L567.8 131.7 L568.8 131.8 L569.8 131.8 L570.8 131.9 L571.8 131.9 L572.8 132 L573.8 132 L574.8 132 L575.8 132 L576.8 132.1 L577.8 132.1 L578.8 132.1 L579.8 132.1 L580.8 132.1 L581.8 132.1 L582.8 132.2 L583.8 132.2 L584.8 132.2 L585.8 132.2 L586.8 132.2 L587.8 132.2 L588.8 132.3 L589.8 132.3 L590.8 132.3 L591.8 132.3 L592.8 132.3 L593.8 132.3 L594.8 132.4 L595.8 132.4 L596.8 132.4 L597.8 132.4 L598.8 132.4 L599.8 132.4 L600.8 132.4 L601.8 132.5 L602.8 132.5 L603.8 132.5 L604.8 132.5 L605.8 132.5 L606.8 132.5 L607.8 132.6 L608.8 132.6 L609.8 132.6 L610.8 132.6 L611.8 132.6 L612.8 132.6 L613.8 132.6 L614.8 132.7 L615.8 132.7 L616.8 132.7 L617.8 132.7 L618.8 132.7 L619.8 132.7 L620.8 132.8 L621.8 132.8 L622.8 132.8 L623.8 132.8 L624.8 132.8 L625.8 132.8 L626.8 132.9 L627.8 132.9 L628.8 132.9 L629.8 132.9 L630.8 132.9 L631.8 132.9 L632.8 132.9 L633.8 133 L634.8 133 L635.8 133 L636.8 133 L637.8 133 L638.8 133 L639.8 133.1 L640.8 133.1 L641.8 133.1 L642.8 133.1 L643.8 133.1 L644.8 133.1 L645.8 133.1 L646.8 133.2 L647.8 133.2 L648.8 133.2 L649.8 133.2 L650.8 133.2 L651.8 133.2 L652.8 133.3 L653.8 133.3 L654.8 133.3 L655.8 133.3 L656.8 133.3 L657.8 133.3 L658.8 133.4 L659.8 133.4 L660.8 133.4 L661.8 133.4 L662.8 133.4 L663.8 133.4 L664.8 133.4 L665.8 133.5 L666.8 133.5 L667.8 133.5 L668.8 133.5 L669.8 133.5 L670.8 133.5 L671.8 133.6 L672.8 133.6 L673.8 133.6 L674.6 133.6 L674.6 133.6 L495.8 130.8 Z" fill="#dfe2f6" fill-opacity="0.8"/>
<path d="M495.8 130.8 L496.8 130.8 L497.8 130.8 L498.8 130.8 L499.8 130.9 L500.8 130.9 L501.8 130.9 L502.8 130.9 L503.8 130.9 L504.8 130.9 L505.8 131 L506.8 131 L507.8 131 L508.8 131 L509.8 131 L510.8 131 L511.8 131.1 L512.8 131.1 L513.8 131.1 L514.8 131.1 L515.8 131.1 L516.8 131.1 L517.8 131.1 L518.8 131.2 L519.8 131.2 L520.8 131.2 L521.8 131.2 L522.8 131.2 L523.8 131.2 L524.8 131.3 L525.8 131.3 L526.8 131.3 L527.8 131.3 L528.8 131.3 L529.8 131.3 L530.8 131.3 L531.8 131.4 L532.8 131.4 L533.8 131.4 L534.8 131.4 L535.8 131.4 L536.8 131.4 L537.8 131.5 L538.8 131.5 L539.8 131.5 L540.8 131.5 L541.8 131.5 L542.8 131.5 L543.8 131.6 L544.8 131.6 L545.8 131.6 L546.8 131.6 L547.8 131.6 L548.8 131.6 L549.8 131.6 L550.8 131.7 L551.8 131.7 L552.8 131.7 L553.8 131.7 L554.8 131.7 L555.8 131.7 L556.8 131.8 L557.8 131.8 L558.8 131.8 L559.8 131.8 L560.8 131.8 L561.8 131.8 L562.8 131.8 L563.8 131.9 L564.8 131.9 L565.8 131.9 L566.8 131.9 L567.8 131.9 L568.8 131.9 L569.8 132 L570.8 132 L571.8 132 L572.8 132 L573.8 132 L574.8 132 L575.8 132.1 L576.8 132.1 L577.8 132.1 L578.8 132.1 L579.8 132.1 L580.8 132.1 L581.8 132.1 L582.8 132.2 L583.8 132.2 L584.8 132.2 L585.8 132.2 L586.8 132.2 L587.8 132.2 L588.8 132.2 L589.8 132.3 L590.8 132.3 L591.8 132.3 L592.8 132.3 L593.8 132.2 L594.8 132.2 L595.8 132.2 L596.8 132.1 L597.8 132 L598.8 131.8 L599.8 131.5 L600.8 131.2 L601.8 130.8 L602.8 130.2 L603.8 129.5 L604.8 128.6 L605.8 127.6 L606.8 126.4 L607.8 125.1 L608.8 123.6 L609.8 122 L610.8 120.3 L611.8 118.5 L612.8 116.9 L613.8 115.3 L614.8 113.9 L615.8 112.7 L616.8 111.9 L617.8 111.4 L618.8 111.2 L619.8 111.4 L620.8 111.9 L621.8 112.7 L622.8 113.6 L623.8 114.8 L624.8 116.2 L625.8 117.7 L626.8 119.2 L627.8 120.7 L628.8 122.3 L629.8 123.7 L630.8 125.1 L631.8 126.4 L632.8 127.5 L633.8 128.5 L634.8 129.4 L635.8 130.2 L636.8 130.8 L637.8 131.3 L638.8 131.7 L639.8 132.1 L640.8 132.3 L641.8 132.6 L642.8 132.7 L643.8 132.8 L644.8 132.9 L645.8 133 L646.8 133.1 L647.8 133.1 L648.8 133.2 L649.8 133.2 L650.8 133.2 L651.8 133.2 L652.8 133.3 L653.8 133.3 L654.8 133.3 L655.8 133.3 L656.8 133.3 L657.8 133.3 L658.8 133.4 L659.8 133.4 L660.8 133.4 L661.8 133.4 L662.8 133.4 L663.8 133.4 L664.8 133.4 L665.8 133.5 L666.8 133.5 L667.8 133.5 L668.8 133.5 L669.8 133.5 L670.8 133.5 L671.8 133.6 L672.8 133.6 L673.8 133.6 L674.6 133.6 L674.6 133.6 L495.8 130.8 Z" fill="#f9d9dc" fill-opacity="0.85"/>
<line x1="495.8" y1="130.8" x2="674.6" y2="133.6" stroke="#a7d2c3" stroke-width="1.3"/>
<polyline points="496.3,131.3 497,130.7 497.7,131 498.4,130.5 499.1,131 499.8,131.8 500.5,130.5 501.2,132.2 501.9,130.5 502.6,130.9 503.3,131 504,131.5 504.7,130.2 505.4,129.8 506.1,131.2 506.8,131.4 507.5,131.3 508.2,132.3 508.9,131 509.6,131 510.3,131.4 511,131 511.7,131.7 512.4,130.1 513.1,130.5 513.8,128.7 514.5,131 515.2,130.3 515.9,130.9 516.6,131.4 517.3,130.1 518,129.8 518.7,129.5 519.4,129.1 520.1,129 520.8,129.4 521.5,128.8 522.2,128.5 522.9,128 523.6,128.2 524.3,127.6 525,126.8 525.7,126.8 526.4,125.9 527.1,124.9 527.8,125.8 528.5,124.8 529.2,123.5 529.9,124.1 530.6,123.1 531.3,121.6 532,122.8 532.7,121.6 533.4,121.5 534.1,120.7 534.8,120.1 535.5,119 536.2,120.1 536.9,119.3 537.6,118.9 538.3,119.2 539,118.9 539.7,119.3 540.4,118.7 541.1,119 541.8,118 542.5,119.2 543.2,120.1 543.9,120.8 544.6,120.2 545.3,120.8 546,122.2 546.7,121.6 547.4,122.7 548.1,123.8 548.8,123.4 549.5,124.6 550.2,124.1 550.9,125.1 551.6,125.5 552.3,126.1 553,127.2 553.7,128.4 554.4,127.1 555.1,127.6 555.8,128.6 556.5,128.1 557.2,129.4 557.9,129.7 558.6,129.6 559.3,130.3 560,129.4 560.7,130.9 561.4,129.8 562.1,130.5 562.8,130.7 563.5,130.9 564.2,131.7 564.9,131.4 565.6,131.2 566.3,131.8 567,132.5 567.7,131.7 568.4,131.9 569.1,132.5 569.8,132 570.5,131.2 571.2,133.3 571.9,133.1 572.6,130.9 573.3,131.9 574,132.2 574.7,132.5 575.4,132.4 576.1,131.9 576.8,131.5 577.5,132.1 578.2,132.7 578.9,131.5 579.6,131.5 580.3,132.1 581,131.1 581.7,132 582.4,131.9 583.1,132.4 583.8,131.8 584.5,131.7 585.2,132 585.9,132.2 586.6,131.9 587.3,132.2 588,132.7 588.7,132.9 589.4,133.2 590.1,131.8 590.8,132 591.5,130.9 592.2,133.3 592.9,131.9 593.6,132.2 594.3,132.5 595,131.5 595.7,132.4 596.4,132.1 597.1,131 597.8,132.1 598.5,132.5 599.2,130.7 599.9,131.9 600.6,131.4 601.3,131.3 602,130.9 602.7,131 603.4,129.7 604.1,129.7 604.8,128.4 605.5,128.3 606.2,126.7 606.9,126.2 607.6,126.3 608.3,124.6 609,123.2 609.7,121.5 610.4,120.5 611.1,119.8 611.8,119.1 612.5,117.6 613.2,116.5 613.9,115.1 614.6,114.9 615.3,113.1 616,112.2 616.7,112.4 617.4,111.6 618.1,111.1 618.8,110.9 619.5,111.2 620.2,111.9 620.9,112.2 621.6,111.8 622.3,113.4 623,114 623.7,114.2 624.4,116.1 625.1,116.5 625.8,117.5 626.5,119.2 627.2,120.5 627.9,120.5 628.6,122.2 629.3,122.5 630,125.3 630.7,124.7 631.4,126.5 632.1,126.4 632.8,128 633.5,129.5 634.2,127.5 634.9,129.2 635.6,130.3 636.3,130.4 637,130.5 637.7,132.4 638.4,131.6 639.1,130.9 639.8,132.5 640.5,131.3 641.2,133.1 641.9,132.3 642.6,132.8 643.3,133.5 644,132.9 644.7,132.2 645.4,132.1 646.1,133.7 646.8,133.5 647.5,132.7 648.2,133.6 648.9,133.4 649.6,133.5 650.3,132 651,133 651.7,133.7 652.4,133.6 653.1,133.7 653.8,131.9 654.5,133.4 655.2,133.6 655.9,134.7 656.6,132.8 657.3,133.1 658,133.4 658.7,133.8 659.4,133.1 660.1,134 660.8,133 661.5,133.5 662.2,133.1 662.9,133.5 663.6,133 664.3,132.6 665,134.1 665.7,133.6 666.4,133.2 667.1,133.6 667.8,134 668.5,133 669.2,133.5 669.9,133.8 670.6,133.8 671.3,133.4 672,132.4 672.7,134.3 673.4,133.8 674.1,133.6" fill="none" stroke="#4b8fda" stroke-width="2.9" stroke-linejoin="round" stroke-linecap="round" stroke-opacity="0.8"/>
<polyline points="497.8,130.8 498.8,130.8 499.8,130.9 500.8,130.9 501.8,130.9 502.8,130.9 503.8,130.9 504.8,130.9 505.8,130.9 506.8,130.9 507.8,130.9 508.8,130.9 509.8,130.9 510.8,130.8 511.8,130.8 512.8,130.7 513.8,130.6 514.8,130.5 515.8,130.4 516.8,130.2 517.8,130 518.8,129.7 519.8,129.4 520.8,129 521.8,128.6 522.8,128.2 523.8,127.6 524.8,127 525.8,126.4 526.8,125.7 527.8,125 528.8,124.3 529.8,123.5 530.8,122.8 531.8,122.1 532.8,121.4 533.8,120.7 534.8,120.2 535.8,119.7 536.8,119.3 537.8,119.1 538.8,118.9 539.8,118.9 540.8,119 541.8,119.2 542.8,119.6 543.8,120 544.8,120.6 545.8,121.2 546.8,121.9 547.8,122.6 548.8,123.4 549.8,124.2 550.8,124.9 551.8,125.7 552.8,126.4 553.8,127.1 554.8,127.8 555.8,128.3 556.8,128.9 557.8,129.4 558.8,129.8 559.8,130.2 560.8,130.5 561.8,130.8 562.8,131 563.8,131.2 564.8,131.4 565.8,131.5 566.8,131.6 567.8,131.7 568.8,131.8 569.8,131.8 570.8,131.9 571.8,131.9 572.8,132 573.8,132 574.8,132 575.8,132 576.8,132.1 577.8,132.1 578.8,132.1 579.8,132.1 580.8,132.1" fill="none" stroke="#7fb6e6" stroke-width="1.1" stroke-linejoin="round" stroke-linecap="round"/>
<polyline points="583.8,132.2 584.8,132.2 585.8,132.2 586.8,132.2 587.8,132.2 588.8,132.2 589.8,132.3 590.8,132.3 591.8,132.3 592.8,132.3 593.8,132.2 594.8,132.2 595.8,132.2 596.8,132.1 597.8,132 598.8,131.8 599.8,131.5 600.8,131.2 601.8,130.8 602.8,130.2 603.8,129.5 604.8,128.6 605.8,127.6 606.8,126.4 607.8,125.1 608.8,123.6 609.8,122 610.8,120.3 611.8,118.5 612.8,116.9 613.8,115.3 614.8,113.9 615.8,112.7 616.8,111.9 617.8,111.4 618.8,111.2 619.8,111.4 620.8,111.9 621.8,112.7 622.8,113.6 623.8,114.8 624.8,116.2 625.8,117.7 626.8,119.2 627.8,120.7 628.8,122.3 629.8,123.7 630.8,125.1 631.8,126.4 632.8,127.5 633.8,128.5 634.8,129.4 635.8,130.2 636.8,130.8 637.8,131.3 638.8,131.7 639.8,132.1 640.8,132.3 641.8,132.6 642.8,132.7 643.8,132.8 644.8,132.9 645.8,133 646.8,133.1 647.8,133.1 648.8,133.2 649.8,133.2 650.8,133.2 651.8,133.2 652.8,133.3 653.8,133.3" fill="none" stroke="#f0a3a3" stroke-width="1.1" stroke-linejoin="round" stroke-linecap="round"/>
<text x="644.3" y="125.5" font-size="8.6" fill="#262626" textLength="25.2" lengthAdjust="spacingAndGlyphs">Dark-1</text>
<g fill="none" stroke="#777" stroke-width="0.8" stroke-dasharray="3 2"><path d="M539.6 43 L539.6 64 L543 68.5 L543 106.5 L539.6 112 L539.6 129.5"/><path d="M617.9 35.7 L617.9 65 L621.9 69.5 L621.9 100 L618.7 105.5 L618.7 121"/></g>
<text x="504.6" y="26.2" font-size="10.8" fill="#262626" textLength="27" lengthAdjust="spacingAndGlyphs">Pd 3<tspan font-style="italic">d</tspan></text>
<text x="534.8" y="40.3" font-size="8.4" fill="#262626" textLength="36.4" lengthAdjust="spacingAndGlyphs">Pd<tspan font-size="5.6" dy="-3.2">&#948;+</tspan><tspan dy="3.2">3</tspan><tspan font-style="italic">d</tspan><tspan font-size="5.6" dy="1.8">3/2</tspan></text>
<text x="610.4" y="33.1" font-size="8.4" fill="#262626" textLength="38.9" lengthAdjust="spacingAndGlyphs">Pd<tspan font-size="5.6" dy="-3.2">&#948;+</tspan><tspan dy="3.2"> 3</tspan><tspan font-style="italic">d</tspan><tspan font-size="5.6" dy="1.8">5/2</tspan></text>
<text x="499" y="71" font-size="8.6" fill="#262626" textLength="23" lengthAdjust="spacingAndGlyphs">0.2 eV</text>
<line x1="531.5" y1="68" x2="524.7" y2="68" stroke="#555" stroke-width="0.7"/>
<path d="M524.7 68 L527.3 66.7 L527.3 69.3 Z" fill="#555"/>
<text x="580" y="71" font-size="8.6" fill="#262626" textLength="23" lengthAdjust="spacingAndGlyphs">0.2 eV</text>
<line x1="613.8" y1="68" x2="605.7" y2="68" stroke="#555" stroke-width="0.7"/>
<path d="M605.7 68 L608.3 66.7 L608.3 69.3 Z" fill="#555"/>
<line x1="545" y1="110" x2="553.5" y2="110" stroke="#555" stroke-width="0.7"/>
<path d="M553.5 110 L550.9 108.7 L550.9 111.3 Z" fill="#555"/>
<text x="557" y="113" font-size="8.6" fill="#262626" textLength="24.4" lengthAdjust="spacingAndGlyphs">0.2 eV</text>
<line x1="626.8" y1="104.6" x2="633.5" y2="104.6" stroke="#555" stroke-width="0.7"/>
<path d="M633.5 104.6 L630.9 103.3 L630.9 105.9 Z" fill="#555"/>
<text x="634" y="107.6" font-size="8.6" fill="#262626" textLength="24.4" lengthAdjust="spacingAndGlyphs">0.2 eV</text>
<rect x="495.8" y="8.5" width="178.8" height="143.7" fill="none" stroke="#3a3a3a" stroke-width="1"/>
<line x1="495.8" y1="152.2" x2="495.8" y2="149.2" stroke="#333" stroke-width="0.8"/>
<line x1="525.6" y1="152.2" x2="525.6" y2="149.2" stroke="#333" stroke-width="0.8"/>
<line x1="555.4" y1="152.2" x2="555.4" y2="149.2" stroke="#333" stroke-width="0.8"/>
<line x1="585.2" y1="152.2" x2="585.2" y2="149.2" stroke="#333" stroke-width="0.8"/>
<line x1="615" y1="152.2" x2="615" y2="149.2" stroke="#333" stroke-width="0.8"/>
<line x1="644.8" y1="152.2" x2="644.8" y2="149.2" stroke="#333" stroke-width="0.8"/>
<line x1="674.6" y1="152.2" x2="674.6" y2="149.2" stroke="#333" stroke-width="0.8"/>
<line x1="510.7" y1="152.2" x2="510.7" y2="150.2" stroke="#333" stroke-width="0.8"/>
<line x1="540.5" y1="152.2" x2="540.5" y2="150.2" stroke="#333" stroke-width="0.8"/>
<line x1="570.3" y1="152.2" x2="570.3" y2="150.2" stroke="#333" stroke-width="0.8"/>
<line x1="600.1" y1="152.2" x2="600.1" y2="150.2" stroke="#333" stroke-width="0.8"/>
<line x1="629.9" y1="152.2" x2="629.9" y2="150.2" stroke="#333" stroke-width="0.8"/>
<line x1="659.7" y1="152.2" x2="659.7" y2="150.2" stroke="#333" stroke-width="0.8"/>
<text x="495.8" y="162.7" font-size="8.4" text-anchor="middle" fill="#262626">346</text>
<text x="525.6" y="162.7" font-size="8.4" text-anchor="middle" fill="#262626">344</text>
<text x="555.4" y="162.7" font-size="8.4" text-anchor="middle" fill="#262626">342</text>
<text x="585.2" y="162.7" font-size="8.4" text-anchor="middle" fill="#262626">340</text>
<text x="615" y="162.7" font-size="8.4" text-anchor="middle" fill="#262626">338</text>
<text x="644.8" y="162.7" font-size="8.4" text-anchor="middle" fill="#262626">336</text>
<text x="674.6" y="162.7" font-size="8.4" text-anchor="middle" fill="#262626">334</text>
<text x="585" y="182.2" font-size="10.6" text-anchor="middle" fill="#262626" textLength="97" lengthAdjust="spacingAndGlyphs">Binding energy (eV)</text>
<text transform="translate(483.3 77.2) rotate(-90)" font-size="10.6" text-anchor="middle" textLength="72" lengthAdjust="spacingAndGlyphs" fill="#262626">Intensity (a.u.)</text>
<text x="16.2" y="204" font-size="15" font-weight="bold" fill="#000">d</text>
<polyline points="37.2,232 38,231.7 39.1,231.2 40.3,231 41.3,231.4 42.4,231.7 43.5,231.6 44.4,231.5 45.3,231.4 46.3,231 47.2,230.6 48.1,230.5 49.1,230.6 50.1,230.6 51,230.4 51.9,230.2 52.9,230.2 53.8,230.4 54.7,230.6 55.6,230.8 56.6,231 57.6,231.1 58.5,231.5 59.4,231.7 60.4,231.6 61.3,231.1 62.2,230.8 63.2,231 64.2,231.5 65.1,231.5 66,230.9 67,230.5 67.9,230.8 68.8,231.3 69.7,231.7 70.6,232 71.6,232.2 72.5,232.3 73.4,232.7 74.4,232.9 75.3,232.5 76.2,232 77.2,231.8 78.1,231.8 79,231.9 80,232.1 80.9,232.6 81.8,233 82.8,233.8 83.7,234.5 84.7,234.9 85.6,234.8 86.6,234.6 87.5,234.5 88.4,234.3 89.4,234.2 90.3,234.4 91.2,234.8 92.2,235.1 93.1,235.3 94,235.6 95,235.8 95.9,235.9 96.8,236.4 97.8,237.2 98.7,237.9 99.6,238.1 100.6,238.3 101.5,238.7 102.4,239.1 103.4,239.6 104.3,240.1 105.3,240.8 106.2,241.3 107.1,241.4 108.1,241.6 109,242 109.9,242.6 110.9,242.9 111.8,242.6 112.7,242.1 113.7,241.6 114.6,241 115.6,240.4 116.5,240.2 117.4,240.6 118.4,241.1 119.3,241.1 120.3,240.9 121.2,241.3 122.1,241.9 123.1,242.6 124,243 124.9,243 126,242.8 126.9,242.5 127.8,242.3 128.8,242 129.7,241.4 130.7,241 131.6,241.5 132.3,242.6 133,243.4 133.7,243.8 134.4,244.4 135.1,245.6 135.8,247.1 136.5,248 137.2,248.2 138.1,247.6 139.1,246.8 140,245.8 140.9,245.1 141.9,244.6 142.8,244.1 143.7,243.7 144.7,243.4 145.6,243 146.6,242.8 147.5,242.6 148.5,242.3 149.4,242.3 150.4,242.1 151.3,241.7 152.2,241.2 153.2,240.8 154.1,240.1 155,239.5 156,239.2 156.9,239.1 157.8,238.9 158.8,238.5 159.7,238.1 160.6,237.9 161.6,237.7 162.5,237.6 163.4,237.6 164.4,237.8 165.3,237.7 166.2,237 167.2,236.1 168.1,235.6 169,235.6 169.9,235.5 170.9,234.9 171.8,234.2 172.7,233.7 173.7,233.1 174.7,232.6 175.7,231.7 176.6,230.5 177.5,229.7 178.4,229.5 179.4,229.8 180.3,230.5 181.2,231.1 182.2,231.6 183.1,232.2 184,233.1 184.6,233.8 185.2,235 185.7,236.1 186.3,236.8 186.9,237.5 187.5,238.2 188.1,238.8 188.7,239.5 189.3,240.1 189.8,240.2 190.4,240.5 191,241.5 191.6,242.6 192.1,243.4 192.7,244.1 193.4,245 193.9,245.6 194.4,246.3 194.9,247.1 195.4,247.8 196,248.6 196.6,249.3 197.1,249.5 197.7,250 198.2,250.9 198.8,251.9 199.4,252.9 199.9,254.2 200.4,255.1 200.9,255.3 201.5,255 201.9,254.1 202.4,253.1 202.8,252 203.2,250.8 203.7,249.4 204.2,248 204.6,247.1 205.1,246.6 205.5,246.1 206.3,246.1 206.9,247 207.6,248.5 208.3,249.7 208.7,249.5 209.2,248.6 209.7,247.5 210.2,246.5 210.7,245 211.2,243.7 211.6,242.7 212.1,242.2 212.5,242.7 212.9,244.2 213.3,245.8 213.7,247.1 214.1,248.4 214.5,249.6 214.9,250.5 215.2,251" fill="none" stroke="#f0412a" stroke-width="1.9" stroke-linejoin="round" stroke-linecap="round"/>
<polyline points="37.2,233.2 37.5,234 38,235.2 38.6,236.2 39.1,236.8 39.7,237 40.6,237.3 41.5,237.5 42.5,237.3 43.5,237 44.5,236.7 45.4,236.6 46.4,236.8 47.2,237.2 48.1,237.9 49.1,238.5 50,238.5 50.9,238.1 51.9,237.8 52.8,237.3 53.8,236.6 54.7,236.4 55.6,237.1 56.6,238.1 57.5,238.8 58.4,239.5 59.4,240.1 60.3,240.4 61.2,240.2 62.2,239.8 63.1,239.6 64.1,239.5 65,239.1 66,238.8 66.9,238.9 67.9,239 68.8,239.1 69.7,239.5 70.7,239.7 71.6,239.9 72.5,239.8 73.5,239.5 74.4,239.3 75.4,239.6 76.3,239.9 77.2,239.8 78.2,239.9 79,240.1 79.9,240.2 80.9,240.5 82,241.1 83.2,241.7 84,242.2 84.8,242.8 85.6,243.1 86.8,242.7 88,241.9 89.1,241.1 90.3,240.9 91.2,241.4 92.1,242.1 93.1,242.4 94,242.6 95,243.2 95.9,243.9 96.8,244.4 97.8,244.6 98.7,244.7 99.6,244.8 100.5,245 101.5,245.3 102.3,245.4 103.1,245.4 104,245.6 104.8,245.9 105.7,246.2 106.6,246.7 107.4,247.4 108.3,248 109.1,248.5 109.9,248.9 110.9,248.6 111.8,247.7 112.7,246.8 113.6,246.2 114.6,245.7 115.5,245.4 116.4,245.3 117.4,245.4 118.3,245.8 119.3,246 120.2,246.3 121.1,246.9 122,248.3 123,249.2 123.9,248.8 125,248.2 126,247.9 126.9,247.6 127.9,247.1 128.8,246.8 129.7,246.4 130.7,245.8 131.6,245.8 132.2,246.3 132.7,247 133.3,247.8 133.8,248.8 134.4,249.8 135,250.8 135.5,251.8 136.1,252.7 136.6,253.4 137.2,254.1 138.1,254.2 139.1,253.6 140,253.1 140.9,252.7 141.8,252.2 142.8,251.7 143.7,251.4 144.6,251 145.5,250.6 146.5,250.4 147.5,250 148.5,249.7 149.4,249.8 150.3,249.9 151.3,249.4 152.2,248.6 153.1,247.8 154,247.4 154.8,247.1 155.9,246.7 156.7,246.7 157.6,246.8 158.6,246.6 159.6,246.4 160.6,246.3 161.6,246 162.5,245.7 163.5,245.6 164.4,245.8 165.3,246 166.3,245.9 167.2,245.9 168.1,246.1 169,246.4 170,246.8 171,246.9 172,246.8 172.8,246.7 173.9,246.2 174.7,245.6 175.6,245.2 176.5,245.1 177.6,244.9 178.8,244.2 180,243.2 181.2,242.8 181.8,243.2 182.3,243.8 182.9,244.8 183.5,246.1 184.1,247 184.7,247.7 185.3,248.5 185.9,248.9 186.8,248.9 187.8,248.9 188.7,249.3 189.6,249.7 190.6,250.2 191.5,251.2 192.4,252.1 193.4,252.4 194.3,252.7 195.3,253 196.2,253 197.1,253 198.1,253.6 199,254.2 200,255.2 200.9,255.7 201.3,255.6 201.6,254.9 202,254.1 202.3,253.3 202.7,252.1 203.1,250.6 203.5,249.3 203.8,248.5 204.2,247.9 204.6,247.5 205.5,248.2 206.4,249.5 207.3,250.5 208.3,250.9 209.2,250.1 210.2,249 211.1,248.1 212.1,247.3 213.2,247.2 214.4,247.5 215.2,248.1" fill="none" stroke="#f37a2c" stroke-width="1.9" stroke-linejoin="round" stroke-linecap="round"/>
<polyline points="37.2,247.5 37.8,247.8 38.8,248.3 39.8,249.1 40.7,249.8 41.7,249.9 42.6,249.5 43.5,249 44.5,248.7 45.4,248 46.3,247.4 47.5,247.5 48.6,247.6 49.8,247.9 51,248.3 52.2,248.3 53.3,247.8 54.4,246.9 55.6,246.2 56.4,246.6 57.2,247.4 58,248 59.2,249.2 60.3,250.1 61.3,249.9 62.2,249.3 63.1,248.7 64.1,248 65.2,247.9 66.4,248.6 67.6,249.4 68.7,250 69.8,250.1 71,250.1 72.2,250.2 73.4,250.6 74.6,250.8 75.7,250.4 76.9,249.4 78.1,248.9 79.3,249.3 80.5,250 81.7,250.5 82.8,251 83.5,251.6 84.1,252.4 84.7,253.2 85.3,254.2 85.8,255.3 86.5,256.2 87.4,256.2 88.3,255.7 89.3,255.2 90.2,255.1 91.2,255.1 92.1,255.2 93.1,255.8 94,256.5 95,257 95.9,257.5 96.9,257.9 97.8,258.2 98.5,258.5 99.2,259.1 99.9,260 100.6,260.8 101.3,261.3 102,261.8 102.7,262.3 103.4,263 104.4,263.7 105.5,264 106.6,264 107.7,264.5 108.8,265.2 109.9,265.4 110.6,265 111.3,264.4 112,263.6 112.7,263 113.4,262.5 114.1,261.7 114.8,260.7 115.5,260.1 116.7,260.5 117.8,261.3 118.6,261.7 119.4,262 120.2,262.3 120.9,262.9 121.6,263.5 122.5,263.9 123.6,264 124.9,264 126,263.9 127,263.9 127.8,263.6 128.7,262.6 129.7,262.1 130.2,262.5 130.8,263.2 131.3,264.1 131.9,265 132.5,265.5 133.1,266.2 133.7,267.1 134.2,268.1 134.8,268.8 135.4,269 136.3,268.7 137.3,268.3 138.2,267.9 139.1,267.6 140.1,267 141,266.6 141.9,266.7 142.9,267.1 143.8,267.4 144.7,267.6 145.7,267.8 146.6,267.6 147.3,266.9 148,266 148.7,265.3 149.4,265.1 150.1,264.4 150.8,262.9 151.5,261.5 152.2,261 153.1,261.6 154.1,262.4 155,262.8 155.9,263.1 156.9,263.3 157.8,263.2 158.7,263 159.7,263.2 160.6,263.6 161.5,263.9 162.5,264.4 163.4,265 164.3,265.3 165.3,265.6 166.2,265.9 167.1,266.1 168.1,266.1 169,266.3 169.9,266.6 170.9,266.9 171.8,267 172.8,267.2 173.8,267.4 174.7,267.1 175.5,266.2 176.3,265.3 177,264.6 177.8,264 178.6,263.3 179.3,262.5 180,261.6 180.6,260.5 181.2,259.4 181.8,258.4 182.5,257.7 183.1,257.3 183.7,257.5 184.4,258.4 185,259.6 185.6,260.7 186.2,261.8 186.8,262.4 187.4,262.7 188,263.4 188.6,264.5 189.2,265.6 189.8,266.4 190.4,267.1 191,267.8 191.5,268.7 192.4,268.9 193.3,268.3 194.2,267.8 195.2,267.7 196.3,268.1 197.5,268.6 198.3,269.2 199.1,269.8 199.9,270 200.5,269.6 201.1,268.9 201.6,268.1 202.2,267 202.8,265.9 203.4,265.1 204,264.5 204.6,264.1 205.6,264.4 206.5,265.3 207.4,266 208.3,266.4 209.2,265.6 210.2,264.4 211.1,263.2 212.1,262.2 213.2,261.9 214.4,261.7 215.2,261.4" fill="none" stroke="#f4a52a" stroke-width="1.9" stroke-linejoin="round" stroke-linecap="round"/>
<polyline points="37.2,257.8 37.8,258.3 38.8,259.2 39.8,260 40.7,260.3 41.7,260.1 42.6,259.3 43.5,258.3 44.5,257.5 45.4,257.1 46.3,256.8 47.5,257.2 48.6,258.1 49.8,259 51,259.4 52.2,258.9 53.3,258 54.5,256.5 55.6,255.5 56.3,256 56.9,257 57.5,258 58.1,259.4 58.7,260.9 59.4,261.3 60.5,260.2 61.7,258.9 62.5,258.6 63.3,258.5 64.1,258.3 65.3,258.4 66.4,258.8 67.5,259.2 68.7,260 69.4,260.6 70.1,261.3 70.8,262.1 71.5,262.7 72.2,263.1 73,263.8 73.7,264.3 74.4,264.5 75.6,264 76.7,263 77.9,262.1 79,261.6 80,262.2 80.9,262.9 81.9,263.3 82.8,263.9 83.5,264.9 84.2,266 84.6,266.8 85,267.8 85.6,268.3 86.4,268.2 87.4,267.6 88.4,267.1 89.4,266.4 90.3,265.5 91.2,265.2 92,265.7 92.7,266.5 93.5,267.5 94.3,268.6 95.1,269.5 95.9,270.1 96.7,270.5 97.4,271.2 98.2,272.3 99,273.5 99.8,274.5 100.6,275.3 101.5,275.5 102.5,275.5 103.4,275.4 104.4,275.2 105.3,274.7 106.2,274.5 107.2,275.4 108,276.6 108.9,278.1 109.9,279 110.3,278.9 110.7,277.9 111,276.4 111.4,275.1 111.8,274.6 112.2,274.1 112.5,273 112.9,271.4 113.3,270.3 113.7,270.1 114.6,270.5 115.5,271 116.5,270.9 117.4,270.7 118.4,271.2 119.3,272.1 120.2,273 121,273.8 122,274.4 122.9,274.5 124,274.3 125.1,274.1 126,273.8 126.8,273.3 127.5,272.6 128.1,272 128.8,271.4 129.5,270.5 130.2,269.5 130.9,268.8 131.6,268.2 132,268 132.4,268.8 132.8,270 133.2,271.3 133.6,272.2 134,272.9 134.4,273.8 134.8,275.1 135.2,276.5 135.6,277.6 136.1,278.5 136.5,279.4 136.8,280.2 137.2,280.6 137.7,280.6 138.2,280 138.6,279 139.1,277.7 139.6,276.4 140,275.4 140.5,274.6 141,274.1 141.9,273.8 142.8,273.8 143.8,273.9 144.8,274.4 145.7,275.1 146.6,275 147.6,273.9 148.5,272.8 149.4,272.2 150.3,271.2 150.8,270.4 151.4,269.9 152,269.2 152.6,268.2 153.2,267.3 153.8,266.2 154.4,265.2 155,264.5 156.2,264.4 157.3,264.8 158.4,265 159.7,265.3 160.7,265.7 161.9,266.2 163,266.8 164.1,267.5 165.2,267.9 166.2,267.9 167.5,267.4 168.6,267.2 169.8,267 170.9,266.7 172,267.1 173.2,267.9 174,268.6 174.8,269.3 175.6,269.5 176.4,269 177.1,268.1 177.9,267.2 178.7,266.4 179.5,265.6 180.3,264.6 180.8,263.6 181.2,262.7 181.7,261.9 182.1,261 182.6,260.2 183,259.3 183.5,258.5 184,257.9 184.6,258.2 185.3,259 185.9,259.5 186.6,260 187.2,261.3 187.8,262.9 188.2,263.8 188.5,264.3 188.9,265.1 189.2,266.3 189.5,267.7 189.9,269 190.2,270.1 190.6,270.7 191.5,270.3 192.5,268.9 193.4,267.9 194.3,267.7 195.1,268.5 195.9,269.3 196.7,270 197.5,270.9 198.2,271.8 199,272.2 199.5,271.9 200.1,271 200.7,270 201.2,268.9 201.8,267.8 202.4,266.9 202.9,266.2 203.5,265.5 204.1,264.9 204.6,264.8 205.8,265.1 207,265.7 208.2,266.1 209.3,266.4 210.2,266 211.1,265.3 212,264 213,262.9 213.5,263.3 214,264.7 214.5,266.4 214.9,267.5 215.2,267.8" fill="none" stroke="#efc12c" stroke-width="1.9" stroke-linejoin="round" stroke-linecap="round"/>
<polyline points="37.2,267.1 37.7,267.4 38.4,267.8 39.2,268.7 40,269.8 40.7,270.6 41.9,270.6 43,270.1 44.2,269.5 45.4,268.7 46.6,268.6 47.7,269.3 48.9,270.2 50,270.6 51.1,269.9 52.3,268.8 53.5,268.2 54.7,268 55.5,268.4 56.2,269.2 57,270.2 57.8,271.2 58.6,272.4 59.4,273.3 60.4,273.2 61.3,272.3 62.2,271.7 63.1,271.8 64,272.8 65,273.7 65.9,274.2 66.9,274.7 68,275.1 69.2,275.4 70.5,275.8 71.6,276.5 72.4,277.5 73,278.5 73.6,279.5 74.4,280.3 75.5,280.3 76.7,279.9 77.9,279.7 79,279.9 80,280.5 80.9,281.1 81.9,281.5 82.8,282.1 83.5,282.7 84.2,283.5 84.8,284.8 85.6,286.5 86.7,287 88,286.6 89.1,286.3 90.3,286.3 91.2,286.8 92.1,287.3 93,287.6 94,287.7 95,287.9 95.9,288.3 96.5,288.8 97.1,289.7 97.6,290.5 98.2,291.3 98.8,292.7 99.4,294.3 100,295.4 100.6,296.2 101.8,296.7 102.9,296.6 104.1,296.4 105.2,296.6 106,296.9 106.7,297.3 107.5,298.3 108.3,299.9 109.1,301.3 109.9,301.6 110.4,301 110.8,300.1 111.3,299.1 111.7,298 112.2,297 112.7,296 113.1,294.9 113.6,293.9 114.1,293 114.6,292.5 115.5,292.5 116.5,293.4 117.4,294.2 118.1,294.5 118.8,295.1 119.5,295.8 120.2,296.4 121,297.1 121.7,297.7 122.5,298.3 123.3,299 124.2,299.9 125.2,300.3 126,300.2 126.5,299.6 127,298.9 127.4,298 127.9,297 128.3,295.8 128.8,294.6 129.3,293.5 129.7,292.4 130.2,291.7 130.7,291.8 131,292.4 131.4,293.1 131.7,293.8 132,294.8 132.3,296 132.7,297.2 133,298.1 133.3,298.9 133.7,299.7 134.1,300.4 134.4,300.9 134.8,301.6 135.1,302.6 135.4,303.5 136.3,304.7 137.2,305.2 138.1,306.4 139.1,307 139.7,306.5 140.4,305.6 141.2,304.5 141.9,303.4 142.6,302.6 143.3,301.6 144,300.8 144.7,300.5 145.9,300.5 147,300.8 148.2,301.4 149.4,301.2 149.8,300.7 150.2,300 150.6,299.1 150.9,298.2 151.3,297.2 151.7,296.2 152.1,294.9 152.5,293.8 152.9,292.5 153.3,291.2 153.7,290.4 154.1,289.9 155.3,289.5 156.4,289.5 157.6,289 158.7,289 159.8,290.2 161,291.5 161.7,291.9 162.5,292.1 163.4,292.1 164.3,292.2 165.2,292.2 166.2,291.7 167.2,291.1 168.2,290.6 169.1,290.3 170,290.1 170.9,289.8 171.9,289.4 172.8,288.9 173.7,288.2 174.6,287.5 175.6,286.9 176.5,285.6 177,284.6 177.4,283.9 177.9,283.5 178.4,283 178.8,282 179.3,280.9 179.9,279.9 180.5,279.3 181,278.6 181.6,277.5 182.1,276.4 183.1,276.5 184,277.5 184.9,277.9 185.9,279.1 186.2,280.3 186.5,281.4 186.9,282.1 187.2,282.7 187.5,283.6 187.9,284.4 188.2,285.2 188.5,286.4 188.9,288 189.2,289.3 189.6,290.5 189.9,291.5 190.3,292.3 190.6,292.6 191.8,293.4 192.9,293.6 194,294 195.2,294.8 195.9,295.8 196.6,296.8 197.3,297.3 198,297.4 198.7,298 199.5,298.9 200.2,299.5 200.9,299.5 201.3,298.9 201.7,298 202.1,297.5 202.5,297.1 202.8,296.2 203.2,294.7 203.6,293.4 204,292.4 204.4,291.3 204.8,290.3 205.1,289.7 205.5,289.4 206.5,289.3 207.4,290.1 208.4,290.8 209.3,290.9 209.7,290.6 210.1,289.8 210.4,288.3 210.8,286.8 211.2,286 211.6,285.3 211.9,284.3 212.3,283 212.6,281.9 213,281.9 213.3,282.8 213.7,283.9 214,284.8 214.4,285.8 214.7,286.9 215,288.1 215.2,288.9" fill="none" stroke="#bcbd2e" stroke-width="1.9" stroke-linejoin="round" stroke-linecap="round"/>
<polyline points="37.2,286.4 37.5,287.3 38,288.6 38.6,289.8 39.1,290.2 39.7,290.1 40.2,290.1 40.8,290.1 41.4,289.4 41.9,288.4 42.5,287.5 43.5,286.4 44.5,285.1 45.4,284.5 46.1,285.4 46.8,287 47.5,288 48.7,288.5 50,288.5 50.8,287.6 51.7,286.1 52.5,285.1 53.3,284.8 54,284.8 54.7,284.5 55.5,284.4 56.2,285 57,285.8 57.8,286.7 58.6,287.5 59.4,288.1 60.4,287.7 61.3,286.7 62.2,285.9 63.1,285.5 63.7,286 64.4,287 65,287.8 65.6,288.3 66.3,288.9 66.9,289.7 67.8,290.2 68.7,290.4 69.7,290.7 70.6,291.3 71.1,292.1 71.6,293.2 72,294.3 72.4,295.4 72.8,296.7 73.4,297.3 74.6,297 76,296.6 77,297 78.1,297.6 79,298.1 80.5,299.2 81.8,300.7 82.1,301.1 82.5,301.4 82.9,302.2 83.3,303.3 83.7,304.4 84.1,305.3 84.4,306 84.8,306.7 85.2,307.8 85.6,308.8 86.4,308.6 87.2,307.1 88,305.9 89.1,305.4 90.3,305.3 91.2,305.6 92.1,306.6 93,307.6 93.7,308.1 94.5,308.3 95.2,308.8 95.9,309.5 96.4,310.3 96.9,311.2 97.4,312.2 97.8,313.2 98.2,314.2 98.6,315.2 99.1,316.2 99.6,316.9 100.5,317.2 101.4,317.1 102.4,316.8 103.3,316.9 104.3,317.1 105.2,317.5 106,318.1 106.8,318.8 107.6,319.6 108.4,320.3 109.2,321.1 109.9,321.3 110.4,320.8 110.9,319.8 111.3,318.8 111.7,318.4 112.2,317.7 112.7,316.4 113.1,314.9 113.6,313.8 114.1,312.8 114.6,311.9 115.2,311.1 115.8,310.5 116.5,310.1 117.6,310.4 118.8,311 120,311.4 121.1,312.4 122,313.5 123,314.6 123.7,315.5 124.5,316.5 125.3,317.2 126,317.1 126.3,316.7 126.6,316.1 126.9,315.1 127.1,313.8 127.3,312.3 127.5,311.1 127.8,310 128.1,308.9 128.3,307.8 128.6,306.7 128.9,305.6 129.2,304.9 129.4,304.3 129.7,303.7 130.6,303.5 131.6,304.6 132.2,305.4 132.9,306.3 133.5,307.3 133.8,308 134.1,308.8 134.5,309.9 134.8,311.2 135.1,312.3 135.4,313.4 135.7,314.6 136,315.8 136.3,316.8 136.6,317.8 136.9,318.2 137.2,318.1 137.5,317.9 137.8,317.6 138.1,316.8 138.5,315.7 138.8,314.7 139.1,313.8 139.5,312.7 139.8,311.6 140.2,310.6 140.6,309.4 141,308.5 141.9,307.9 142.8,307.6 143.8,307.5 144.8,307.5 145.7,307.5 146.6,307.4 147.6,307.8 148.5,308.1 149.4,308.2 150.3,307.3 150.5,306.7 150.8,306.1 151,305.2 151.2,304 151.5,302.8 151.7,301.7 152,300.8 152.2,300 152.4,298.7 152.7,297.3 152.9,296.2 153.1,295.7 153.4,295.1 153.6,294.3 153.8,293.4 154.1,292.8 154.8,291.3 155.6,290.3 156.4,289.9 157.6,289.3 158.7,289.2 159.5,289.7 160.2,290.4 161,291.2 161.8,292.3 162.6,293.2 163.4,293.7 164.3,293.9 165.3,294 166.2,293.8 167.1,293.6 168.1,293.8 169,294.2 169.9,294.1 170.9,293.3 171.8,292.3 172.8,291.6 173.8,291.4 174.7,291 175.5,290.2 176.3,289 177,288.2 177.8,287.6 178.6,287.1 179.3,286.2 179.6,285.7 180,284.9 180.3,283.9 180.6,283 180.9,281.9 181.2,280.9 181.5,279.9 181.8,278.8 182.1,277.8 182.5,276.8 182.8,275.8 183.1,275 184.1,275.2 185,276.6 185.6,277.2 186.2,277.8 186.8,278.7 187.1,279.5 187.4,281.1 187.7,282.7 188.1,283.6 188.4,284.2 188.7,285 189,285.8 189.3,286.6 189.6,287.6 189.9,288.4 190.3,289.2 190.6,290.2 191.1,291.5 191.7,292.3 192.3,292.5 192.9,292.8 193.6,293.7 194.4,294.7 195.2,295.6 195.9,296.5 196.6,297.5 197.3,298.1 198,298.6 198.7,299.3 199.5,300.3 200.2,301.1 200.9,301.1 201.3,300.7 201.7,300 202.1,298.7 202.5,297.1 202.8,295.8 203.2,295 203.6,294.4 204,293.4 204.4,292.4 204.8,291.5 205.1,290.7 205.5,290.1 206.5,289.4 207.4,289.2 208.4,289.1 209.3,288.7 209.7,288.3 210.1,287.4 210.4,285.9 210.8,284.3 211.2,283.3 211.6,282.3 212.1,281.1 212.5,280.3 213,280.2 213.4,280.7 214,281.6 214.5,282.8 214.9,283.9 215.2,284.6" fill="none" stroke="#76982c" stroke-width="1.9" stroke-linejoin="round" stroke-linecap="round"/>
<text x="45.5" y="225.3" font-size="10.6" fill="#262626" textLength="57.8" lengthAdjust="spacingAndGlyphs">Pd SA/BCNx</text>
<line x1="118" y1="323.6" x2="142.5" y2="323.6" stroke="#76982c" stroke-width="1.5"/>
<text x="144.4" y="326.5" font-size="8.4" fill="#262626">1 ps</text>
<line x1="163.4" y1="323.6" x2="187.4" y2="323.6" stroke="#f4a52a" stroke-width="1.5"/>
<text x="189.6" y="326.5" font-size="8.4" fill="#262626" textLength="24.3" lengthAdjust="spacingAndGlyphs">100 ps</text>
<line x1="118" y1="336.6" x2="142.5" y2="336.6" stroke="#bcbd2e" stroke-width="1.5"/>
<text x="144.4" y="339.5" font-size="8.4" fill="#262626">5 ps</text>
<line x1="163.4" y1="336.6" x2="187.4" y2="336.6" stroke="#f37a2c" stroke-width="1.5"/>
<text x="189.6" y="339.5" font-size="8.4" fill="#262626" textLength="24.3" lengthAdjust="spacingAndGlyphs">500 ps</text>
<line x1="118" y1="349.1" x2="142.5" y2="349.1" stroke="#efc12c" stroke-width="1.5"/>
<text x="144.4" y="352" font-size="8.4" fill="#262626">20 ps</text>
<line x1="166" y1="349.1" x2="190.5" y2="349.1" stroke="#f0412a" stroke-width="1.5"/>
<text x="192.1" y="352" font-size="8.4" fill="#262626" textLength="15.2" lengthAdjust="spacingAndGlyphs">3 ns</text>
<rect x="37.1" y="212.4" width="178.3" height="143.3" fill="none" stroke="#8a8a8a" stroke-width="1.25"/>
<line x1="55.7" y1="355.7" x2="55.7" y2="352.7" stroke="#8a8a8a" stroke-width="0.8"/>
<line x1="82.3" y1="355.7" x2="82.3" y2="352.7" stroke="#8a8a8a" stroke-width="0.8"/>
<line x1="109" y1="355.7" x2="109" y2="352.7" stroke="#8a8a8a" stroke-width="0.8"/>
<line x1="135.6" y1="355.7" x2="135.6" y2="352.7" stroke="#8a8a8a" stroke-width="0.8"/>
<line x1="162.2" y1="355.7" x2="162.2" y2="352.7" stroke="#8a8a8a" stroke-width="0.8"/>
<line x1="188.8" y1="355.7" x2="188.8" y2="352.7" stroke="#8a8a8a" stroke-width="0.8"/>
<line x1="215.4" y1="355.7" x2="215.4" y2="352.7" stroke="#8a8a8a" stroke-width="0.8"/>
<line x1="42.4" y1="355.7" x2="42.4" y2="353.7" stroke="#8a8a8a" stroke-width="0.8"/>
<line x1="69" y1="355.7" x2="69" y2="353.7" stroke="#8a8a8a" stroke-width="0.8"/>
<line x1="95.6" y1="355.7" x2="95.6" y2="353.7" stroke="#8a8a8a" stroke-width="0.8"/>
<line x1="122.3" y1="355.7" x2="122.3" y2="353.7" stroke="#8a8a8a" stroke-width="0.8"/>
<line x1="148.9" y1="355.7" x2="148.9" y2="353.7" stroke="#8a8a8a" stroke-width="0.8"/>
<line x1="175.5" y1="355.7" x2="175.5" y2="353.7" stroke="#8a8a8a" stroke-width="0.8"/>
<line x1="202.1" y1="355.7" x2="202.1" y2="353.7" stroke="#8a8a8a" stroke-width="0.8"/>
<text x="55.7" y="365.7" font-size="8.4" text-anchor="middle" fill="#262626">450</text>
<text x="82.3" y="365.7" font-size="8.4" text-anchor="middle" fill="#262626">500</text>
<text x="109" y="365.7" font-size="8.4" text-anchor="middle" fill="#262626">550</text>
<text x="135.6" y="365.7" font-size="8.4" text-anchor="middle" fill="#262626">600</text>
<text x="162.2" y="365.7" font-size="8.4" text-anchor="middle" fill="#262626">650</text>
<text x="188.8" y="365.7" font-size="8.4" text-anchor="middle" fill="#262626">700</text>
<text x="215.4" y="365.7" font-size="8.4" text-anchor="middle" fill="#262626">750</text>
<line x1="37.1" y1="225.6" x2="40.1" y2="225.6" stroke="#8a8a8a" stroke-width="0.8"/>
<line x1="37.1" y1="251.6" x2="40.1" y2="251.6" stroke="#8a8a8a" stroke-width="0.8"/>
<line x1="37.1" y1="277.6" x2="40.1" y2="277.6" stroke="#8a8a8a" stroke-width="0.8"/>
<line x1="37.1" y1="303.7" x2="40.1" y2="303.7" stroke="#8a8a8a" stroke-width="0.8"/>
<line x1="37.1" y1="329.7" x2="40.1" y2="329.7" stroke="#8a8a8a" stroke-width="0.8"/>
<line x1="37.1" y1="355.7" x2="40.1" y2="355.7" stroke="#8a8a8a" stroke-width="0.8"/>
<line x1="37.1" y1="238.6" x2="39.1" y2="238.6" stroke="#8a8a8a" stroke-width="0.8"/>
<line x1="37.1" y1="264.6" x2="39.1" y2="264.6" stroke="#8a8a8a" stroke-width="0.8"/>
<line x1="37.1" y1="290.6" x2="39.1" y2="290.6" stroke="#8a8a8a" stroke-width="0.8"/>
<line x1="37.1" y1="316.7" x2="39.1" y2="316.7" stroke="#8a8a8a" stroke-width="0.8"/>
<line x1="37.1" y1="342.7" x2="39.1" y2="342.7" stroke="#8a8a8a" stroke-width="0.8"/>
<text x="33.7" y="227.9" font-size="8.4" text-anchor="end" fill="#262626">0.0</text>
<text x="33.7" y="253.9" font-size="8.4" text-anchor="end" fill="#262626">-0.2</text>
<text x="33.7" y="279.9" font-size="8.4" text-anchor="end" fill="#262626">-0.4</text>
<text x="33.7" y="306" font-size="8.4" text-anchor="end" fill="#262626">-0.6</text>
<text x="33.7" y="332" font-size="8.4" text-anchor="end" fill="#262626">-0.8</text>
<text x="33.7" y="358" font-size="8.4" text-anchor="end" fill="#262626">-1.0</text>
<text x="126.2" y="386.2" font-size="10.6" text-anchor="middle" fill="#262626" textLength="85" lengthAdjust="spacingAndGlyphs">Wavelength (nm)</text>
<text transform="translate(9.6 279.9) rotate(-90)" font-size="10.6" text-anchor="middle" textLength="48.6" lengthAdjust="spacingAndGlyphs" fill="#262626">&#916;A (mOD)</text>
<text x="16.6" y="399.6" font-size="15" font-weight="bold" fill="#000">e</text>
<polyline points="36.9,431.1 38,431.1 39.3,431.3 40.4,431.3 41.6,431.4 42.8,431.5 44,431.2 45.1,430.6 46.3,430.4 47.3,430.7 48.4,431.2 49.5,431.7 50.3,432.1 51.2,432.5 52,432.8 52.8,432.9 53.8,432.8 54.7,433.1 55.6,433.2 56.6,432.8 57.5,432.1 58.5,431.9 59.4,431.8 60.4,432 61.3,432.5 62.2,433.3 63.1,433.9 64.1,434.2 65,434.2 65.9,433.9 66.8,433.6 67.8,433.4 68.8,432.8 69.8,431.9 70.7,431.3 71.6,431.2 72.6,431.4 73.5,431.8 74.4,432.1 75.3,432.3 76.3,432.8 77.2,433.5 78.1,434 79.1,434.9 80,435.6 81,436.2 81.9,436.6 82.8,436.9 83.8,436.6 84.7,435.9 85.5,435.9 86.5,435.9 87.4,435.6 88.3,435 89.3,434.2 90.2,433.6 91.2,433.1 92.1,432.9 93.1,433.4 94,434.4 95,435.3 96,435.7 96.9,436.2 97.8,436.7 98.8,437.1 99.6,437.4 100.5,437.5 101.5,437.7 102.4,438 103.3,438.4 104.3,438.9 105.2,439.5 106.2,440.2 107.1,440.5 108,439.8 109,438.6 109.9,438 110.8,437.6 111.8,437.2 112.7,436.7 113.6,436.6 114.6,436.9 115.5,437.2 116.4,437.3 117.3,437.5 118.3,437.8 119.1,438 120,438.5 120.9,439.1 121.8,439.4 122.9,439.9 124,440.4 125,440.8 126,441 126.9,441.2 127.8,441.4 128.7,441.8 129.6,442.4 130.6,443 131.6,443.8 132.5,444.1 133.5,443 134.4,441.9 135.2,440.8 136.2,439.9 137.1,439.7 138,439.7 139,439.5 139.9,439.2 140.9,438.9 141.8,438.6 142.8,438.3 143.7,437.9 144.7,437.5 145.6,437.1 146.6,436.6 147.5,436.1 148.4,435.7 149.4,435.5 150.3,435.4 151.2,435.1 152.2,434.5 153.1,434 154,433.6 155,433.2 155.9,432.9 156.8,432.5 157.8,432.2 158.7,431.9 159.6,431.7 160.6,431.7 161.5,432 162.4,432.4 163.4,432.6 164.3,432.7 165.2,432.6 166.2,432.3 167.1,431.7 168,431.3 169,430.9 169.9,430.7 170.7,431 171.5,431.6 172.3,432.1 173.4,433 174.6,433.8 175.5,433.9 176.4,433.6 177.4,433.4 178.4,433.1 179.3,432.8 180.2,432.8 180.9,433.3 181.4,434.1 182,435.1 182.6,436.2 183.2,437.2 183.9,437.8 185.1,438.3 186.3,438.7 187.4,439.5 188.6,439.9 189.5,439.6 190.4,438.9 191.4,438.2 192.3,436.9 193.3,435.5 194.2,434.9 195.1,434.9 196.1,434.8 197,434.7 198,434.6 199,434.2 199.9,433.9 200.9,434.1 201.7,434.8 202.7,435.5 203.6,435.8 204.3,434.8 205,433.4 205.7,431.9 206.4,431.6 206.6,432.1 206.9,433.2 207.1,434.6 207.3,435.8 207.6,436.8 207.8,437.8 208,438.8 208.3,440 208.5,441.1 208.7,442 209,443 209.2,443.7 209.6,444.9 210,445.7 210.4,446.5 210.8,447.6 211.1,448.7 211.5,449.3 212,448.9 212.5,448 213,447 213.5,446.1 214,445.2 214.4,444.6" fill="none" stroke="#f0412a" stroke-width="1.9" stroke-linejoin="round" stroke-linecap="round"/>
<polyline points="36.9,435.6 38,436.4 39.3,437.5 40.4,438.2 41.6,438.6 42.5,438.7 43.4,438.5 44.4,438.1 45.4,437.9 46.3,437.7 47.2,437.8 48.2,438.6 49.1,439.6 50,440.7 51,441.3 52,440.7 52.9,439.8 53.7,439.1 54.7,438.6 55.6,438.3 56.5,438.2 57.5,438.1 58.4,438.3 59.4,438.6 60.3,438.5 61.2,438.3 62.2,438.5 63.1,439 64,439.6 65,440.2 65.9,441.1 66.9,441.4 67.8,441 68.8,440.6 69.7,440.2 70.7,439.3 71.6,438.5 72.5,438.6 73.5,439.2 74.4,439.7 75.3,440.3 76.3,441.1 77.2,441.6 77.9,441.7 78.6,442 79.3,442.9 80,443.8 80.7,444.7 81.4,445.6 82.1,446.4 82.8,446.8 83.6,446.6 84.4,445.9 85.2,445 86.4,443.9 87.5,443.1 88.7,442.9 89.8,442.6 91,441.7 92.1,441.3 92.8,441.9 93.4,442.5 94,443.2 94.6,444 95.2,444.8 95.9,445.4 97,445.9 98.2,446.3 99.3,446.6 100.6,447.1 101.6,447.4 102.8,447.6 103.9,447.7 105,447.9 106.1,447.7 107.1,447.1 108.1,446.7 109,446.4 109.9,446 110.8,445.1 111.8,444.1 112.7,443.7 113.6,444.3 114.6,445.2 115.5,445.8 116.4,446.4 117.3,446.9 118.3,446.9 119.1,446.4 120,446 120.9,445.9 121.8,445.7 122.9,445.2 124,444.8 125,444.5 126,444.3 126.9,444.4 127.8,444.9 128.7,445.7 129.6,446.4 130.6,447.5 131.6,448.8 132.5,449.2 133.5,447.9 134.4,446.4 135.2,445.5 136.2,444.8 137.1,444.5 138,444.3 139,444.2 139.9,443.8 140.9,443.3 141.8,442.9 142.8,442.7 143.7,442.6 144.7,442 145.6,441 146.6,440.3 147.5,440 148.4,440 149.4,439.8 150.3,439.4 151.2,439.1 152.2,438.6 153.1,437.9 154,437.4 155,437.5 155.9,437.8 156.8,437.5 157.8,437.1 158.7,436.9 159.6,437 160.6,437.3 161.5,437.5 162.4,437.2 163.4,437 164.3,437.2 165.2,437.2 166.2,436.8 167.1,436.1 168,435.4 169,435 169.9,435.3 170.8,435.6 171.8,435.8 172.7,436 173.6,436.2 174.6,436.7 175.5,437.1 176.4,437.1 177.4,436.8 178.3,436.9 179.3,437.2 180.2,437.7 181.1,438 182.1,438.5 183,439.2 183.9,440.5 184.9,441.7 186,441.3 187.2,440.2 188,439.5 188.7,438.8 189.6,438 190.6,437.7 191.8,438 192.9,438.3 194,438.1 195.1,437.6 196.1,437.4 197.1,437.5 198,437.8 198.9,438.1 199.9,438.7 200.8,439.3 201.7,439.4 202.5,439 203.2,438.3 204,437.5 204.8,436.5 205.6,435.6 206.4,435.4 206.8,435.8 207.2,436.7 207.5,437.9 207.8,439 208.2,440 208.6,441 208.9,442.1 209.3,443 209.7,443.8 210.1,444.4 211.1,444.7 212.2,444.5 213.4,444.8 214.4,445" fill="none" stroke="#f37a2c" stroke-width="1.9" stroke-linejoin="round" stroke-linecap="round"/>
<polyline points="36.9,449 38,449.5 39.3,450.2 40.5,450.8 41.6,451.2 42.6,450.9 43.5,450.2 44.4,449.1 45.4,448.7 46.1,449.5 46.9,450.7 47.7,451.8 48.4,453.1 49.2,454.2 50,454.5 50.9,453.8 51.8,453 52.8,452.2 53.7,451.4 54.6,450.7 55.6,450.6 56.4,450.9 57.2,451.2 58.1,451.5 58.9,452 59.7,452.4 60.6,452.9 61.4,453.6 62.2,454.4 63.4,454.3 64.5,453.4 65.7,452.8 66.9,452.8 67.8,453.3 68.8,453.4 69.7,453.2 70.7,452.9 71.6,452.6 72.5,452.3 73.5,452.8 74.4,453.6 75.2,454.2 76.2,454.9 76.9,455 77.8,455.2 78.6,455.7 79.5,456.3 80.3,456.9 81.2,457.8 82,458.7 82.8,459.1 83.8,459.1 84.7,458.8 85.6,458.5 86.5,458.3 87.5,458.1 88.4,457.5 89.3,456.8 90.3,456.5 91.2,456.4 92.2,456 93.1,455.6 94,455.6 94.7,456.1 95.3,457 95.9,457.9 96.5,458.6 97.1,459.3 97.8,459.8 98.7,459.8 99.6,459.6 100.6,459.5 101.5,459.5 102.5,459.5 103.4,459.3 104.3,459.1 105.3,459.1 106.2,459 107.2,459 108.1,459.5 109,460.1 110,459.4 110.8,457.9 111.7,456.5 112.7,455.7 113.6,456 114.5,456.6 115.5,457.2 116.4,457.9 117.3,458.6 118.3,459.2 119.1,459.2 120,458.6 120.9,458 121.8,457.4 122.9,456.6 124,455.9 125,455.5 126,455.7 126.9,456.1 127.8,456.1 128.7,456.3 129.4,456.9 130.1,457.8 130.8,458.8 131.5,459.3 132.1,458.9 132.7,458 133.4,456.9 134,456 134.6,455 135.3,453.8 136.4,452.9 137.6,452.5 138.4,452.3 139.2,451.9 140,451.6 140.9,451.2 141.9,450.7 142.8,450.3 143.7,449.9 144.7,449.6 145.6,449.3 146.5,448.8 147.5,448.2 148.4,447.7 149.3,447 150.3,446.2 151.2,445.8 152.1,445.5 153.1,445.3 154,445.1 154.9,445 155.9,444.7 156.8,444.4 157.7,444.1 158.7,443.7 159.6,443 160.5,442.6 161.4,442.3 162.4,441.9 163.5,441.6 164.6,441.2 165.7,440.9 166.8,440.2 168,439.6 169,439.3 169.9,439.7 170.6,440.4 171.4,441 172.5,442.1 173.7,442.6 174.6,441.9 175.5,440.9 176.5,440.1 177.4,439.5 178.4,439 179.3,438.3 180.2,438 181.2,438.2 182.1,438.9 183.1,439.5 184,439.6 184.9,439.6 186.1,439.4 187.2,439 188.4,438.7 189.6,438.5 190.5,438.4 191.5,438.4 192.4,438.4 193.3,438.4 194.3,438.6 195.2,438.8 196.4,438.7 197.6,438.4 198.7,438.2 199.9,438.1 200.8,438.4 201.7,439 202.7,439.2 203.7,439.2 204.6,439.2 205.5,439.6 206.5,440.2 207.4,440.7 208.3,441.4 209.2,441.8 210,441.5 210.9,440.6 211.8,439.9 212.8,439.5 213.7,439.1 214.4,438.9" fill="none" stroke="#f4a52a" stroke-width="1.9" stroke-linejoin="round" stroke-linecap="round"/>
<polyline points="36.9,465.9 37.4,466.2 38.2,466.6 39.1,467.5 40,468.7 40.7,469.5 41.9,469.1 43,467.8 44.2,467 45.4,466.9 46.6,467.6 47.7,468.4 48.9,469.1 50,469.6 51.1,469.2 52.3,468.5 53.1,468 53.9,467.1 54.7,466.5 55.6,466.6 56.6,467.1 57.5,467.4 58.5,467.4 59.4,467.5 60.3,467.7 61.3,468.1 62.2,468.7 63.2,469.9 64.1,471.1 65.5,470.4 66.9,469.6 67.8,469.7 68.7,469.8 69.7,469.4 70.6,469.4 72,469.2 73.4,469.2 74,469.6 74.7,470.1 75.5,470.7 76.2,471.3 76.9,471.8 77.6,472.5 78.3,473.2 79,473.8 80,474.4 80.9,474.9 81.9,475.3 82.8,475.6 83.8,475.9 84.7,476.2 85.6,476.2 86.6,476 87.5,475.9 88.5,475.8 89.4,475.8 90.3,475.9 91.5,475.6 92.6,474.8 93.4,474.1 94.2,473.5 95,473.2 95.6,473.8 96.2,474.8 96.8,475.6 97.4,476.5 98,477.8 98.7,478.8 99.8,478.9 101,478.5 102.2,478.2 103.4,478.1 104.6,478.6 105.7,479.4 106.8,479.9 108,479.8 108.6,479.2 109.1,478.4 109.7,477.3 110.3,476.2 110.9,475 111.5,473.8 112.1,473 112.7,472.6 113.6,473 114.6,474.2 115.5,475.1 116.4,475.7 117.3,476.2 118.3,476.5 119.1,476.2 120,475.6 120.9,474.9 121.8,474.1 122.5,473.4 123.2,472.6 123.8,471.7 124.4,471.3 125,471.4 126,471.6 126.9,472.2 127.8,472.5 128.7,472.8 129.4,473.4 130.1,474.1 130.8,474.6 131.5,474.3 132.1,473.6 132.7,472.7 133.4,471.7 134,470.7 134.6,469.7 135.3,468.8 136,468.3 136.8,467.9 137.6,467.3 138.4,466.4 139.2,465.6 140,465.2 140.9,464.9 141.9,464.5 142.8,464.1 143.7,463.6 144.7,463.2 145.6,462.8 146.5,462.4 147.5,461.9 148.4,461.3 149.3,460.9 150.3,460.4 151.2,459.9 152.1,459.1 153.1,458.1 154,457.4 154.9,457.4 155.9,457.4 156.8,456.7 157.7,455.9 158.7,455.4 159.6,455.4 160.5,455.4 161.5,455.1 162.4,454.3 163.3,453.5 164.3,452.7 165.2,451.8 166.2,451.2 167.1,451.3 168,451.3 169,450.6 169.9,449.8 170.8,449.2 171.8,448.5 172.5,447.5 173.3,446.8 174.1,446.6 174.9,446.2 175.7,445.4 176.5,444.6 177.3,443.9 178,442.7 178.8,441.5 179.6,441.1 180.4,441.1 181.1,441 182.1,440.5 183,440.2 183.9,440.5 184.9,440.6 186,440.1 187.2,439.3 188,438.7 188.8,438.2 189.6,438.5 190.8,439.2 191.9,439.8 193.1,439.9 194.2,440.5 194.8,441.1 195.3,441.8 195.9,442.8 196.5,443.7 197.1,444.7 197.8,445.4 198.4,445.9 198.9,446.5 199.7,447.1 200.3,447.5 201,448.5 201.7,449 202.1,448.5 202.6,447.7 203.1,446.8 203.6,446 204.1,445.4 204.6,444.8 205.1,443.7 205.5,442.6 206,441.5 206.5,440.6 206.9,439.6 207.4,438.8 207.8,438 208.3,437 208.6,436.2 208.9,435.2 209.1,434.3 209.4,433.4 209.7,432.5 210.1,431.5 210.4,430.4 210.8,429.3 211.1,428.4 212,427 213,425.7 213.2,426.4 213.4,427.4 213.6,428.8 213.8,430.3 214,431.5 214.1,432.5 214.3,433.3 214.4,433.6" fill="none" stroke="#efc12c" stroke-width="1.9" stroke-linejoin="round" stroke-linecap="round"/>
<polyline points="36.9,480.7 37.4,481 38.2,481.3 39.1,482.2 40,483.6 40.7,484.5 41.9,484.2 43,483.1 44.2,482.5 45.4,482 46.6,482.1 47.7,482.4 48.9,482.9 50,483.2 51.1,482.5 52.3,481.6 53.5,480.9 54.7,480.6 55.6,480.8 56.6,481.2 57.5,481.8 58.5,482.2 59.4,482.4 60.3,482.6 61.3,483.1 62.2,483.9 63.2,484.8 64.1,485 65.1,484.4 66,483.8 66.9,483.2 67.8,482.8 68.9,483.1 70.1,483.6 71.3,484 72.5,484.5 73.6,485.2 74.8,486 75.5,486.8 76.3,487.5 77.2,488.1 78.1,488.7 79,489.1 80,489.2 81,489.3 82,490 82.9,490.9 83.8,491.5 84.7,491.5 85.7,491.2 86.6,491 87.5,491.1 88.4,491.2 89.4,490.9 90.3,490.2 91.1,489.6 91.9,489.2 92.7,488.7 93.5,487.9 94.3,487 95,486.7 95.8,487.9 96.4,489.6 97.1,491 97.8,491.8 98.7,491.7 99.6,491 100.5,490.2 101.5,489.9 102.4,490.1 103.3,490.4 104.3,490.9 105.2,491.7 106.2,492.4 107.1,492.2 107.7,491.4 108.3,490.4 108.9,489.3 109.5,488.2 110.1,487.5 110.6,487 111.2,486.1 111.8,485.6 112.8,485.7 113.9,486 115,485.9 116.1,486.2 117.2,486.9 118.3,487 119,486.8 119.7,486.7 120.4,486.3 121.1,485.6 121.8,485 122.3,484.3 122.8,483.4 123.3,482.3 123.7,481.3 124.2,480.2 124.6,479.4 125,478.9 126,478.8 126.9,479.4 127.8,479.4 128.7,479.6 129.4,480.2 130.1,481 130.8,482 131.5,482.7 132.1,482.3 132.7,481 133.4,479.3 134,478.1 134.6,477.5 135.3,477 135.8,476.4 136.4,475.7 137,475 137.6,474.1 138.2,472.8 138.8,472 139.4,471.7 140,471.5 140.9,470.9 141.9,470.1 142.8,469.7 143.7,470 144.7,470.3 145.6,470 146.5,469.4 147.5,468.8 148.4,468.1 149.3,467.4 150.3,466.9 151.2,466.5 152.1,466.2 153.1,465.8 154,465.7 154.9,465.3 155.9,464.3 156.8,463.6 157.7,463.5 158.7,463.6 159.6,463.8 160.5,464.2 161.5,464.8 162.4,464.9 163.3,464.6 164.3,464 165.2,463.1 166.1,461.8 167.1,460.9 168,460.7 168.9,460.6 169.9,460.2 170.8,459.4 171.8,458.8 172.7,458.4 173.7,458.2 174.6,457.8 175.6,457.2 176.5,456.6 177.5,456.3 178.4,456.2 179.3,455.9 180.1,455.1 180.9,454.2 181.6,453.6 182.4,453.2 183.1,452.8 183.9,452.2 185,451.7 186.2,451.2 187.4,450.1 188.6,449.1 189.5,449.1 190.5,449.7 191.4,449.9 192.4,449.6 193.3,449.3 194.2,449 195.4,448.2 196.5,447.7 197.7,447.7 198.9,447.7 200.1,447.4 201.2,446.7 202.4,445.9 203.6,445.5 204.8,445.4 206,445.6 207.1,446 208.3,446.1 209.2,445.9 210.3,445.6 211.3,445.2 212.4,444.9 213.6,444.8 214.4,444.5" fill="none" stroke="#bcbd2e" stroke-width="1.9" stroke-linejoin="round" stroke-linecap="round"/>
<polyline points="36.9,503.6 37.3,504.3 37.8,505.3 38.4,506.3 39.1,507.1 39.7,507.5 40.4,507.4 41.1,506.8 41.8,506 42.5,505.4 43.2,504.9 44,504.2 44.7,503.4 45.4,503.1 46.3,503.1 47.3,503.4 48.2,504 49.1,504.8 50.1,505.6 51,506.1 51.9,505.9 52.9,505.2 53.8,504.4 54.7,503.6 55.6,503 56.6,503.1 57.4,503.6 58.2,503.9 59,504.3 59.8,504.8 60.7,505.2 61.5,505.6 62.4,506.1 63.1,506.2 64.1,505.7 65,504.7 66,503.7 66.9,503.3 67.6,504.1 68.3,505.2 69,506.2 69.7,507 71.1,506 72.5,504.5 73.3,504.2 74.3,504.6 75.3,505.2 76.2,505.6 77.2,505.8 78.1,506.2 78.9,506.9 79.7,507.9 80.5,508.9 81.2,509.5 82,510.1 82.8,510.7 83.8,511 84.9,511.1 86,511.6 87.1,512.5 88.3,513.2 89.3,513 89.9,512.2 90.5,511.4 91,510.7 91.6,509.9 92.2,509.1 92.8,508.2 93.4,507.4 94,506.7 94.7,507 95.3,508.3 95.9,509.7 96.5,510.9 97.2,511.9 97.8,512.5 98.7,512.2 99.6,511 100.5,510.2 101.5,510.1 102.4,510.5 103.3,511 104.3,511.8 105.2,512.7 106.2,513.3 107.1,513 107.5,512.4 107.9,511.3 108.3,509.9 108.7,508.9 109.1,508.4 109.5,507.8 109.9,506.7 110.2,505.4 110.6,504.2 111,503 111.4,502.1 111.8,501.6 112.5,501.7 113.3,502.4 114.2,503 115,503.5 115.8,504.3 116.7,505.5 117.5,506.3 118.3,506.3 118.9,505.4 119.5,504.4 120,503.6 120.6,502.8 121.2,502 121.8,501.3 122.4,500.4 123,499.1 123.5,497.6 124,496.7 124.5,495.9 125,495.4 126,495.7 126.9,496.5 127.7,496.9 128.7,497.7 129.6,498.7 130.6,499.5 131.5,498.9 131.8,498.2 132.1,497.6 132.4,496.8 132.6,495.7 132.9,494.8 133.1,493.8 133.4,492.5 133.7,491.2 133.9,490.1 134.2,489 134.5,487.9 134.7,487.2 135,486.9 135.3,486.5 136,485.4 136.8,484.9 137.6,484.4 138.4,483.7 139.2,483.1 140,482.5 140.9,482 141.9,481.5 142.8,480.7 143.7,479.9 144.7,479.6 145.6,479.4 146.5,479.1 147.5,478.6 148.4,478.2 149.4,477.6 150.3,477.1 151.2,476.8 152.2,477 153,477.3 153.9,477.8 154.9,478 155.9,477.2 156.8,476.2 157.8,475.5 158.7,474.9 159.6,475.3 160.5,476.1 161.5,476.5 162.4,477.1 163.1,477.9 163.8,479 164.4,480.4 165.2,481.1 165.9,480.2 166.8,478.9 167.6,477.9 168.4,477.1 169.1,476.3 169.9,475.6 170.7,475 171.5,474.6 172.3,474.3 173.5,473.7 174.6,473.1 175.4,472.8 176.2,472.3 177,472 178.2,471.4 179.3,470.5 180.3,469.2 181.2,468.2 182.1,467.8 183,467.5 183.9,467 184.9,466.7 185.9,466.4 186.8,465.9 187.4,465.2 188,464.3 188.6,463.2 189.2,462.2 189.8,461.2 190.5,460.3 191.7,459.6 192.9,459.4 194.1,459.1 195.2,458.8 196.4,458.7 197.6,458.6 198.8,458.4 199.9,458.4 201.1,458.6 202.2,458.4 203.3,458.5 204.5,458.6 205.3,458.1 206.1,457.2 206.9,456.4 207.7,455.7 208.4,454.9 209.2,453.8 209.7,452.9 210.2,452.5 210.7,452.4 211.3,451.6 211.8,450.3 212.4,449 213,448 213.5,447.2 214,446.4 214.4,446.2" fill="none" stroke="#76982c" stroke-width="1.9" stroke-linejoin="round" stroke-linecap="round"/>
<text x="50.2" y="421" font-size="10.6" fill="#262626" textLength="25.5" lengthAdjust="spacingAndGlyphs">BCNx</text>
<line x1="117" y1="515.5" x2="141" y2="515.5" stroke="#76982c" stroke-width="1.5"/>
<text x="142.9" y="518.4" font-size="8.4" fill="#262626">1 ps</text>
<line x1="162.3" y1="515.5" x2="186.1" y2="515.5" stroke="#f4a52a" stroke-width="1.5"/>
<text x="188.3" y="518.4" font-size="8.4" fill="#262626" textLength="24.3" lengthAdjust="spacingAndGlyphs">100 ps</text>
<line x1="117" y1="528.6" x2="141" y2="528.6" stroke="#bcbd2e" stroke-width="1.5"/>
<text x="142.9" y="531.5" font-size="8.4" fill="#262626">5 ps</text>
<line x1="162.3" y1="528.6" x2="186.1" y2="528.6" stroke="#f37a2c" stroke-width="1.5"/>
<text x="188.3" y="531.5" font-size="8.4" fill="#262626" textLength="24.3" lengthAdjust="spacingAndGlyphs">500 ps</text>
<line x1="117" y1="541.5" x2="141" y2="541.5" stroke="#efc12c" stroke-width="1.5"/>
<text x="142.9" y="544.4" font-size="8.4" fill="#262626">20 ps</text>
<line x1="165" y1="541.5" x2="188.6" y2="541.5" stroke="#f0412a" stroke-width="1.5"/>
<text x="190.2" y="544.4" font-size="8.4" fill="#262626" textLength="15.2" lengthAdjust="spacingAndGlyphs">3 ns</text>
<rect x="36.4" y="405.5" width="178.5" height="143.8" fill="none" stroke="#3a3a3a" stroke-width="1.05"/>
<line x1="55" y1="549.3" x2="55" y2="546.3" stroke="#3a3a3a" stroke-width="0.8"/>
<line x1="81.7" y1="549.3" x2="81.7" y2="546.3" stroke="#3a3a3a" stroke-width="0.8"/>
<line x1="108.3" y1="549.3" x2="108.3" y2="546.3" stroke="#3a3a3a" stroke-width="0.8"/>
<line x1="135" y1="549.3" x2="135" y2="546.3" stroke="#3a3a3a" stroke-width="0.8"/>
<line x1="161.6" y1="549.3" x2="161.6" y2="546.3" stroke="#3a3a3a" stroke-width="0.8"/>
<line x1="188.3" y1="549.3" x2="188.3" y2="546.3" stroke="#3a3a3a" stroke-width="0.8"/>
<line x1="214.9" y1="549.3" x2="214.9" y2="546.3" stroke="#3a3a3a" stroke-width="0.8"/>
<line x1="41.7" y1="549.3" x2="41.7" y2="547.3" stroke="#3a3a3a" stroke-width="0.8"/>
<line x1="68.4" y1="549.3" x2="68.4" y2="547.3" stroke="#3a3a3a" stroke-width="0.8"/>
<line x1="95" y1="549.3" x2="95" y2="547.3" stroke="#3a3a3a" stroke-width="0.8"/>
<line x1="121.7" y1="549.3" x2="121.7" y2="547.3" stroke="#3a3a3a" stroke-width="0.8"/>
<line x1="148.3" y1="549.3" x2="148.3" y2="547.3" stroke="#3a3a3a" stroke-width="0.8"/>
<line x1="174.9" y1="549.3" x2="174.9" y2="547.3" stroke="#3a3a3a" stroke-width="0.8"/>
<line x1="201.6" y1="549.3" x2="201.6" y2="547.3" stroke="#3a3a3a" stroke-width="0.8"/>
<text x="55" y="559.3" font-size="8.4" text-anchor="middle" fill="#262626">450</text>
<text x="81.7" y="559.3" font-size="8.4" text-anchor="middle" fill="#262626">500</text>
<text x="108.3" y="559.3" font-size="8.4" text-anchor="middle" fill="#262626">550</text>
<text x="135" y="559.3" font-size="8.4" text-anchor="middle" fill="#262626">600</text>
<text x="161.6" y="559.3" font-size="8.4" text-anchor="middle" fill="#262626">650</text>
<text x="188.3" y="559.3" font-size="8.4" text-anchor="middle" fill="#262626">700</text>
<text x="214.9" y="559.3" font-size="8.4" text-anchor="middle" fill="#262626">750</text>
<line x1="36.4" y1="418.3" x2="39.4" y2="418.3" stroke="#3a3a3a" stroke-width="0.8"/>
<line x1="36.4" y1="444.5" x2="39.4" y2="444.5" stroke="#3a3a3a" stroke-width="0.8"/>
<line x1="36.4" y1="470.7" x2="39.4" y2="470.7" stroke="#3a3a3a" stroke-width="0.8"/>
<line x1="36.4" y1="496.9" x2="39.4" y2="496.9" stroke="#3a3a3a" stroke-width="0.8"/>
<line x1="36.4" y1="523.1" x2="39.4" y2="523.1" stroke="#3a3a3a" stroke-width="0.8"/>
<line x1="36.4" y1="549.3" x2="39.4" y2="549.3" stroke="#3a3a3a" stroke-width="0.8"/>
<line x1="36.4" y1="431.4" x2="38.4" y2="431.4" stroke="#3a3a3a" stroke-width="0.8"/>
<line x1="36.4" y1="457.6" x2="38.4" y2="457.6" stroke="#3a3a3a" stroke-width="0.8"/>
<line x1="36.4" y1="483.8" x2="38.4" y2="483.8" stroke="#3a3a3a" stroke-width="0.8"/>
<line x1="36.4" y1="510" x2="38.4" y2="510" stroke="#3a3a3a" stroke-width="0.8"/>
<line x1="36.4" y1="536.2" x2="38.4" y2="536.2" stroke="#3a3a3a" stroke-width="0.8"/>
<text x="33" y="420.6" font-size="8.4" text-anchor="end" fill="#262626">0.0</text>
<text x="33" y="446.8" font-size="8.4" text-anchor="end" fill="#262626">-0.2</text>
<text x="33" y="473" font-size="8.4" text-anchor="end" fill="#262626">-0.4</text>
<text x="33" y="499.2" font-size="8.4" text-anchor="end" fill="#262626">-0.6</text>
<text x="33" y="525.4" font-size="8.4" text-anchor="end" fill="#262626">-0.8</text>
<text x="33" y="551.6" font-size="8.4" text-anchor="end" fill="#262626">-1.0</text>
<text x="125.7" y="579.8" font-size="10.6" text-anchor="middle" fill="#262626" textLength="85" lengthAdjust="spacingAndGlyphs">Wavelength (nm)</text>
<text transform="translate(9.6 473.2) rotate(-90)" font-size="10.6" text-anchor="middle" textLength="48.6" lengthAdjust="spacingAndGlyphs" fill="#262626">&#916;A (mOD)</text>
<text x="225" y="203.8" font-size="15" font-weight="bold" fill="#000">f</text>
<g shape-rendering="crispEdges"><path fill="#7aff00" d="M258.4 211.5h154.5v1.8h-154.5zM258.4 213h154.5v1.8h-154.5zM258.4 214.5h154.5v1.8h-154.5zM258.4 217.5h154.5v1.8h-154.5zM258.4 219h154.5v1.8h-154.5zM258.4 220.5h154.5v1.8h-154.5zM258.4 222h154.5v1.8h-154.5zM258.4 225h154.5v1.8h-154.5zM258.4 226.4h154.5v1.8h-154.5zM258.4 227.9h154.5v1.8h-154.5zM258.4 229.4h154.5v1.8h-154.5zM258.4 230.9h154.5v1.8h-154.5zM258.4 233.9h154.5v1.8h-154.5zM258.4 235.4h154.5v1.8h-154.5zM258.4 236.9h154.5v1.8h-154.5zM258.4 238.4h154.5v1.8h-154.5zM258.4 241.4h154.5v1.8h-154.5zM258.4 242.9h154.5v1.8h-154.5zM258.4 244.4h154.5v1.8h-154.5zM258.4 245.9h154.5v1.8h-154.5zM258.4 247.4h154.5v1.8h-154.5zM258.4 248.9h154.5v1.8h-154.5zM258.4 250.4h154.5v1.8h-154.5zM258.4 251.9h154.5v1.8h-154.5zM258.4 253.4h154.5v1.8h-154.5zM258.4 254.9h154.5v1.8h-154.5zM258.4 256.3h154.5v1.8h-154.5z"/><path fill="#9fff00" d="M258.4 216h154.5v1.8h-154.5zM258.4 223.5h154.5v1.8h-154.5zM258.4 232.4h154.5v1.8h-154.5zM258.4 239.9h154.5v1.8h-154.5z"/><path fill="#55ff00" d="M258.4 257.8h154.5v1.8h-154.5zM258.4 259.3h154.5v1.8h-154.5zM258.4 260.8h154.5v1.8h-154.5zM258.4 262.3h154.5v1.8h-154.5zM258.4 263.8h154.5v1.8h-154.5zM258.4 265.3h154.5v1.8h-154.5zM258.4 266.8h154.5v1.8h-154.5zM258.4 268.3h154.5v1.8h-154.5zM258.4 269.8h154.5v1.8h-154.5zM258.4 271.3h154.5v1.8h-154.5zM258.4 272.8h154.5v1.8h-154.5z"/><path fill="#33ff07" d="M258.4 274.3h154.5v1.8h-154.5zM258.4 275.8h154.5v1.8h-154.5zM258.4 277.3h154.5v1.8h-154.5zM258.4 278.8h61.3v1.8h-61.3zM363.5 278.8h49.4v1.8h-49.4zM258.4 280.3h24v1.8h-24zM390.6 280.3h2v1.8h-2zM258.4 281.8h25.7v1.8h-25.7zM390.6 281.8h3.7v1.8h-3.7z"/><path fill="#15ff15" d="M319.4 278.8h44.4v1.8h-44.4zM282.1 280.3h108.7v1.8h-108.7zM392.3 280.3h20.6v1.8h-20.6zM283.8 281.8h107.1v1.8h-107.1zM394 281.8h18.9v1.8h-18.9zM258.4 283.3h154.5v1.8h-154.5zM258.4 284.8h154.5v1.8h-154.5zM258.4 286.2h78.2v1.8h-78.2zM351.6 286.2h2v1.8h-2zM355 286.2h57.9v1.8h-57.9zM258.4 287.7h46.1v1.8h-46.1zM382.1 287.7h30.8v1.8h-30.8zM258.4 289.2h24v1.8h-24zM390.6 289.2h2v1.8h-2zM258.4 290.7h24v1.8h-24zM283.8 290.7h3.7v1.8h-3.7zM387.2 290.7h2v1.8h-2zM390.6 290.7h3.7v1.8h-3.7zM261.8 292.2h3.7v1.8h-3.7z"/><path fill="#00ff37" d="M336.3 286.2h15.6v1.8h-15.6zM353.3 286.2h2v1.8h-2zM304.2 287.7h78.2v1.8h-78.2zM282.1 289.2h108.7v1.8h-108.7zM392.3 289.2h20.6v1.8h-20.6zM282.1 290.7h2v1.8h-2zM287.2 290.7h52.8v1.8h-52.8zM343.1 290.7h44.4v1.8h-44.4zM388.9 290.7h2v1.8h-2zM394 290.7h18.9v1.8h-18.9zM258.4 292.2h3.7v1.8h-3.7zM265.2 292.2h54.5v1.8h-54.5zM368.5 292.2h44.4v1.8h-44.4zM258.4 293.7h47.7v1.8h-47.7zM373.6 293.7h39.3v1.8h-39.3zM258.4 295.2h41v1.8h-41zM383.8 295.2h25.7v1.8h-25.7zM258.4 296.7h30.8v1.8h-30.8zM290.6 296.7h7.1v1.8h-7.1zM383.8 296.7h20.6v1.8h-20.6zM405.8 296.7h3.7v1.8h-3.7zM258.4 298.2h20.6v1.8h-20.6zM385.5 298.2h8.8v1.8h-8.8zM395.7 298.2h3.7v1.8h-3.7zM258.4 299.7h24v1.8h-24zM283.8 299.7h5.4v1.8h-5.4zM290.6 299.7h3.7v1.8h-3.7zM383.8 299.7h15.6v1.8h-15.6zM400.7 299.7h2v1.8h-2zM258.4 301.2h30.8v1.8h-30.8zM290.6 301.2h5.4v1.8h-5.4zM383.8 301.2h15.6v1.8h-15.6zM400.7 301.2h2v1.8h-2zM258.4 302.7h20.6v1.8h-20.6zM258.4 304.2h20.6v1.8h-20.6zM385.5 304.2h3.7v1.8h-3.7zM258.4 305.7h20.6v1.8h-20.6zM385.5 305.7h3.7v1.8h-3.7zM261.8 307.2h2v1.8h-2zM261.8 308.7h2v1.8h-2zM258.4 310.2h12.2v1.8h-12.2zM260.1 311.7h5.4v1.8h-5.4zM268.6 311.7h2v1.8h-2zM261.8 313.2h2v1.8h-2z"/><path fill="#00ff8b" d="M339.7 290.7h3.7v1.8h-3.7zM319.4 292.2h49.4v1.8h-49.4zM305.8 293.7h68.1v1.8h-68.1zM299.1 295.2h41v1.8h-41zM343.1 295.2h41v1.8h-41zM409.2 295.2h3.7v1.8h-3.7zM288.9 296.7h2v1.8h-2zM297.4 296.7h41v1.8h-41zM348.2 296.7h2v1.8h-2zM351.6 296.7h32.5v1.8h-32.5zM404.1 296.7h2v1.8h-2zM409.2 296.7h3.7v1.8h-3.7zM278.7 298.2h32.5v1.8h-32.5zM312.6 298.2h3.7v1.8h-3.7zM317.7 298.2h2v1.8h-2zM363.5 298.2h2v1.8h-2zM368.5 298.2h17.2v1.8h-17.2zM394 298.2h2v1.8h-2zM399 298.2h13.9v1.8h-13.9zM282.1 299.7h2v1.8h-2zM288.9 299.7h2v1.8h-2zM294 299.7h25.7v1.8h-25.7zM321.1 299.7h2v1.8h-2zM331.3 299.7h3.7v1.8h-3.7zM356.7 299.7h3.7v1.8h-3.7zM363.5 299.7h20.6v1.8h-20.6zM399 299.7h2v1.8h-2zM402.4 299.7h10.5v1.8h-10.5zM288.9 301.2h2v1.8h-2zM295.7 301.2h27.4v1.8h-27.4zM331.3 301.2h5.4v1.8h-5.4zM356.7 301.2h3.7v1.8h-3.7zM363.5 301.2h20.6v1.8h-20.6zM399 301.2h2v1.8h-2zM402.4 301.2h10.5v1.8h-10.5zM278.7 302.7h20.6v1.8h-20.6zM302.5 302.7h2v1.8h-2zM373.6 302.7h5.4v1.8h-5.4zM382.1 302.7h30.8v1.8h-30.8zM278.7 304.2h20.6v1.8h-20.6zM302.5 304.2h3.7v1.8h-3.7zM368.5 304.2h2v1.8h-2zM373.6 304.2h5.4v1.8h-5.4zM382.1 304.2h3.7v1.8h-3.7zM388.9 304.2h24v1.8h-24zM278.7 305.7h20.6v1.8h-20.6zM302.5 305.7h3.7v1.8h-3.7zM368.5 305.7h2v1.8h-2zM373.6 305.7h5.4v1.8h-5.4zM382.1 305.7h3.7v1.8h-3.7zM388.9 305.7h24v1.8h-24zM258.4 307.2h3.7v1.8h-3.7zM263.5 307.2h18.9v1.8h-18.9zM283.8 307.2h5.4v1.8h-5.4zM290.6 307.2h5.4v1.8h-5.4zM383.8 307.2h10.5v1.8h-10.5zM395.7 307.2h3.7v1.8h-3.7zM258.4 308.7h3.7v1.8h-3.7zM263.5 308.7h15.6v1.8h-15.6zM280.4 308.7h2v1.8h-2zM283.8 308.7h5.4v1.8h-5.4zM290.6 308.7h3.7v1.8h-3.7zM383.8 308.7h10.5v1.8h-10.5zM395.7 308.7h3.7v1.8h-3.7zM270.3 310.2h18.9v1.8h-18.9zM290.6 310.2h7.1v1.8h-7.1zM383.8 310.2h15.6v1.8h-15.6zM400.7 310.2h2v1.8h-2zM258.4 311.7h2v1.8h-2zM265.2 311.7h3.7v1.8h-3.7zM270.3 311.7h18.9v1.8h-18.9zM290.6 311.7h5.4v1.8h-5.4zM383.8 311.7h10.5v1.8h-10.5zM395.7 311.7h3.7v1.8h-3.7zM400.7 311.7h2v1.8h-2zM258.4 313.2h3.7v1.8h-3.7zM263.5 313.2h15.6v1.8h-15.6zM280.4 313.2h2v1.8h-2zM285.5 313.2h3.7v1.8h-3.7zM290.6 313.2h3.7v1.8h-3.7zM385.5 313.2h3.7v1.8h-3.7zM258.4 314.7h20.6v1.8h-20.6zM258.4 316.1h20.6v1.8h-20.6zM258.4 317.6h20.6v1.8h-20.6zM285.5 317.6h2v1.8h-2zM290.6 317.6h3.7v1.8h-3.7zM258.4 319.1h20.6v1.8h-20.6zM258.4 320.6h12.2v1.8h-12.2zM272 320.6h7.1v1.8h-7.1zM261.8 322.1h3.7v1.8h-3.7zM260.1 323.6h5.4v1.8h-5.4zM266.9 323.6h3.7v1.8h-3.7zM395.7 347.5h2v1.8h-2zM395.7 350.5h2v1.8h-2zM395.7 352h2v1.8h-2zM395.7 353.5h3.7v1.8h-3.7zM400.7 353.5h2v1.8h-2zM395.7 355h3.7v1.8h-3.7zM400.7 355h2v1.8h-2zM385.5 356.5h2v1.8h-2zM395.7 356.5h3.7v1.8h-3.7zM400.7 356.5h2v1.8h-2zM395.7 358h3.7v1.8h-3.7z"/><path fill="#00f8ce" d="M339.7 295.2h3.7v1.8h-3.7zM338 296.7h10.5v1.8h-10.5zM349.9 296.7h2v1.8h-2zM310.9 298.2h2v1.8h-2zM316 298.2h2v1.8h-2zM319.4 298.2h44.4v1.8h-44.4zM365.2 298.2h3.7v1.8h-3.7zM319.4 299.7h2v1.8h-2zM322.8 299.7h8.8v1.8h-8.8zM334.7 299.7h22.3v1.8h-22.3zM360.1 299.7h3.7v1.8h-3.7zM322.8 301.2h8.8v1.8h-8.8zM336.3 301.2h20.6v1.8h-20.6zM360.1 301.2h3.7v1.8h-3.7zM299.1 302.7h3.7v1.8h-3.7zM304.2 302.7h35.9v1.8h-35.9zM343.1 302.7h30.8v1.8h-30.8zM378.7 302.7h3.7v1.8h-3.7zM299.1 304.2h3.7v1.8h-3.7zM305.8 304.2h63v1.8h-63zM370.2 304.2h3.7v1.8h-3.7zM378.7 304.2h3.7v1.8h-3.7zM299.1 305.7h3.7v1.8h-3.7zM305.8 305.7h34.2v1.8h-34.2zM343.1 305.7h25.7v1.8h-25.7zM370.2 305.7h3.7v1.8h-3.7zM378.7 305.7h3.7v1.8h-3.7zM282.1 307.2h2v1.8h-2zM288.9 307.2h2v1.8h-2zM295.7 307.2h15.6v1.8h-15.6zM312.6 307.2h7.1v1.8h-7.1zM321.1 307.2h2v1.8h-2zM331.3 307.2h5.4v1.8h-5.4zM356.7 307.2h3.7v1.8h-3.7zM363.5 307.2h20.6v1.8h-20.6zM394 307.2h2v1.8h-2zM399 307.2h13.9v1.8h-13.9zM278.7 308.7h2v1.8h-2zM282.1 308.7h2v1.8h-2zM288.9 308.7h2v1.8h-2zM294 308.7h17.2v1.8h-17.2zM312.6 308.7h7.1v1.8h-7.1zM331.3 308.7h3.7v1.8h-3.7zM356.7 308.7h3.7v1.8h-3.7zM363.5 308.7h3.7v1.8h-3.7zM368.5 308.7h3.7v1.8h-3.7zM373.6 308.7h10.5v1.8h-10.5zM394 308.7h2v1.8h-2zM399 308.7h13.9v1.8h-13.9zM288.9 310.2h2v1.8h-2zM297.4 310.2h30.8v1.8h-30.8zM331.3 310.2h7.1v1.8h-7.1zM348.2 310.2h2v1.8h-2zM351.6 310.2h2v1.8h-2zM355 310.2h5.4v1.8h-5.4zM363.5 310.2h20.6v1.8h-20.6zM399 310.2h2v1.8h-2zM402.4 310.2h10.5v1.8h-10.5zM288.9 311.7h2v1.8h-2zM295.7 311.7h15.6v1.8h-15.6zM312.6 311.7h10.5v1.8h-10.5zM331.3 311.7h5.4v1.8h-5.4zM356.7 311.7h3.7v1.8h-3.7zM363.5 311.7h20.6v1.8h-20.6zM394 311.7h2v1.8h-2zM399 311.7h2v1.8h-2zM402.4 311.7h10.5v1.8h-10.5zM278.7 313.2h2v1.8h-2zM282.1 313.2h3.7v1.8h-3.7zM288.9 313.2h2v1.8h-2zM294 313.2h7.1v1.8h-7.1zM302.5 313.2h7.1v1.8h-7.1zM317.7 313.2h2v1.8h-2zM356.7 313.2h3.7v1.8h-3.7zM363.5 313.2h2v1.8h-2zM368.5 313.2h2v1.8h-2zM373.6 313.2h5.4v1.8h-5.4zM382.1 313.2h3.7v1.8h-3.7zM388.9 313.2h24v1.8h-24zM278.7 314.7h10.5v1.8h-10.5zM290.6 314.7h8.8v1.8h-8.8zM375.3 314.7h2v1.8h-2zM383.8 314.7h25.7v1.8h-25.7zM278.7 316.1h20.6v1.8h-20.6zM375.3 316.1h2v1.8h-2zM383.8 316.1h25.7v1.8h-25.7zM410.9 316.1h2v1.8h-2zM278.7 317.6h7.1v1.8h-7.1zM287.2 317.6h3.7v1.8h-3.7zM294 317.6h5.4v1.8h-5.4zM302.5 317.6h3.7v1.8h-3.7zM373.6 317.6h5.4v1.8h-5.4zM383.8 317.6h25.7v1.8h-25.7zM410.9 317.6h2v1.8h-2zM278.7 319.1h20.6v1.8h-20.6zM375.3 319.1h3.7v1.8h-3.7zM383.8 319.1h25.7v1.8h-25.7zM410.9 319.1h2v1.8h-2zM270.3 320.6h2v1.8h-2zM278.7 320.6h10.5v1.8h-10.5zM290.6 320.6h8.8v1.8h-8.8zM375.3 320.6h2v1.8h-2zM383.8 320.6h8.8v1.8h-8.8zM395.7 320.6h3.7v1.8h-3.7zM400.7 320.6h3.7v1.8h-3.7zM405.8 320.6h3.7v1.8h-3.7zM258.4 322.1h3.7v1.8h-3.7zM265.2 322.1h13.9v1.8h-13.9zM280.4 322.1h2v1.8h-2zM285.5 322.1h3.7v1.8h-3.7zM290.6 322.1h5.4v1.8h-5.4zM385.5 322.1h3.7v1.8h-3.7zM397.3 322.1h2v1.8h-2zM258.4 323.6h2v1.8h-2zM265.2 323.6h2v1.8h-2zM270.3 323.6h12.2v1.8h-12.2zM283.8 323.6h5.4v1.8h-5.4zM290.6 323.6h5.4v1.8h-5.4zM383.8 323.6h5.4v1.8h-5.4zM395.7 323.6h3.7v1.8h-3.7zM400.7 323.6h3.7v1.8h-3.7zM405.8 323.6h3.7v1.8h-3.7zM258.4 325.1h20.6v1.8h-20.6zM285.5 325.1h2v1.8h-2zM290.6 325.1h3.7v1.8h-3.7zM385.5 325.1h2v1.8h-2zM258.4 326.6h20.6v1.8h-20.6zM285.5 326.6h2v1.8h-2zM290.6 326.6h3.7v1.8h-3.7zM385.5 326.6h3.7v1.8h-3.7zM397.3 326.6h2v1.8h-2zM258.4 328.1h12.2v1.8h-12.2zM273.7 328.1h5.4v1.8h-5.4zM258.4 329.6h20.6v1.8h-20.6zM290.6 329.6h3.7v1.8h-3.7zM383.8 329.6h5.4v1.8h-5.4zM395.7 329.6h3.7v1.8h-3.7zM400.7 329.6h2v1.8h-2zM258.4 331.1h12.2v1.8h-12.2zM273.7 331.1h3.7v1.8h-3.7zM385.5 331.1h2v1.8h-2zM397.3 331.1h2v1.8h-2zM260.1 332.6h10.5v1.8h-10.5zM385.5 332.6h2v1.8h-2zM397.3 332.6h2v1.8h-2zM397.3 335.6h2v1.8h-2zM397.3 337.1h2v1.8h-2zM385.5 338.6h2v1.8h-2zM397.3 338.6h2v1.8h-2zM397.3 340.1h2v1.8h-2zM385.5 341.6h3.7v1.8h-3.7zM395.7 341.6h3.7v1.8h-3.7zM400.7 341.6h2v1.8h-2zM385.5 343.1h3.7v1.8h-3.7zM395.7 343.1h3.7v1.8h-3.7zM400.7 343.1h2v1.8h-2zM385.5 344.6h3.7v1.8h-3.7zM395.7 344.6h3.7v1.8h-3.7zM400.7 344.6h2v1.8h-2zM385.5 346h3.7v1.8h-3.7zM395.7 346h3.7v1.8h-3.7zM400.7 346h2v1.8h-2zM383.8 347.5h5.4v1.8h-5.4zM390.6 347.5h5.4v1.8h-5.4zM397.3 347.5h2v1.8h-2zM400.7 347.5h3.7v1.8h-3.7zM385.5 349h3.7v1.8h-3.7zM394 349h5.4v1.8h-5.4zM400.7 349h3.7v1.8h-3.7zM385.5 350.5h3.7v1.8h-3.7zM390.6 350.5h2v1.8h-2zM394 350.5h2v1.8h-2zM397.3 350.5h2v1.8h-2zM400.7 350.5h3.7v1.8h-3.7zM385.5 352h3.7v1.8h-3.7zM390.6 352h2v1.8h-2zM394 352h2v1.8h-2zM397.3 352h2v1.8h-2zM400.7 352h3.7v1.8h-3.7zM383.8 353.5h5.4v1.8h-5.4zM390.6 353.5h5.4v1.8h-5.4zM399 353.5h2v1.8h-2zM402.4 353.5h2v1.8h-2zM383.8 355h5.4v1.8h-5.4zM390.6 355h5.4v1.8h-5.4zM399 355h2v1.8h-2zM402.4 355h2v1.8h-2zM383.8 356.5h2v1.8h-2zM387.2 356.5h8.8v1.8h-8.8zM399 356.5h2v1.8h-2zM402.4 356.5h2v1.8h-2zM383.8 358h5.4v1.8h-5.4zM390.6 358h5.4v1.8h-5.4zM399 358h5.4v1.8h-5.4z"/><path fill="#00e6f3" d="M339.7 302.7h3.7v1.8h-3.7zM339.7 305.7h3.7v1.8h-3.7zM310.9 307.2h2v1.8h-2zM319.4 307.2h2v1.8h-2zM322.8 307.2h8.8v1.8h-8.8zM336.3 307.2h20.6v1.8h-20.6zM360.1 307.2h3.7v1.8h-3.7zM310.9 308.7h2v1.8h-2zM319.4 308.7h12.2v1.8h-12.2zM334.7 308.7h22.3v1.8h-22.3zM360.1 308.7h3.7v1.8h-3.7zM366.8 308.7h2v1.8h-2zM371.9 308.7h2v1.8h-2zM327.9 310.2h3.7v1.8h-3.7zM338 310.2h10.5v1.8h-10.5zM349.9 310.2h2v1.8h-2zM353.3 310.2h2v1.8h-2zM360.1 310.2h3.7v1.8h-3.7zM310.9 311.7h2v1.8h-2zM322.8 311.7h8.8v1.8h-8.8zM336.3 311.7h20.6v1.8h-20.6zM360.1 311.7h3.7v1.8h-3.7zM300.8 313.2h2v1.8h-2zM309.2 313.2h8.8v1.8h-8.8zM319.4 313.2h20.6v1.8h-20.6zM343.1 313.2h13.9v1.8h-13.9zM360.1 313.2h3.7v1.8h-3.7zM365.2 313.2h3.7v1.8h-3.7zM370.2 313.2h3.7v1.8h-3.7zM378.7 313.2h3.7v1.8h-3.7zM288.9 314.7h2v1.8h-2zM299.1 314.7h30.8v1.8h-30.8zM331.3 314.7h7.1v1.8h-7.1zM348.2 314.7h2v1.8h-2zM351.6 314.7h2v1.8h-2zM355 314.7h5.4v1.8h-5.4zM361.8 314.7h13.9v1.8h-13.9zM377 314.7h7.1v1.8h-7.1zM409.2 314.7h3.7v1.8h-3.7zM299.1 316.1h30.8v1.8h-30.8zM331.3 316.1h7.1v1.8h-7.1zM348.2 316.1h2v1.8h-2zM351.6 316.1h2v1.8h-2zM355 316.1h5.4v1.8h-5.4zM361.8 316.1h13.9v1.8h-13.9zM377 316.1h7.1v1.8h-7.1zM409.2 316.1h2v1.8h-2zM299.1 317.6h3.7v1.8h-3.7zM305.8 317.6h24v1.8h-24zM331.3 317.6h7.1v1.8h-7.1zM348.2 317.6h2v1.8h-2zM351.6 317.6h22.3v1.8h-22.3zM378.7 317.6h5.4v1.8h-5.4zM409.2 317.6h2v1.8h-2zM299.1 319.1h30.8v1.8h-30.8zM331.3 319.1h7.1v1.8h-7.1zM348.2 319.1h2v1.8h-2zM351.6 319.1h2v1.8h-2zM355 319.1h5.4v1.8h-5.4zM361.8 319.1h13.9v1.8h-13.9zM378.7 319.1h5.4v1.8h-5.4zM409.2 319.1h2v1.8h-2zM288.9 320.6h2v1.8h-2zM299.1 320.6h29.1v1.8h-29.1zM331.3 320.6h5.4v1.8h-5.4zM351.6 320.6h2v1.8h-2zM355 320.6h5.4v1.8h-5.4zM363.5 320.6h12.2v1.8h-12.2zM377 320.6h7.1v1.8h-7.1zM392.3 320.6h3.7v1.8h-3.7zM399 320.6h2v1.8h-2zM404.1 320.6h2v1.8h-2zM409.2 320.6h3.7v1.8h-3.7zM278.7 322.1h2v1.8h-2zM282.1 322.1h3.7v1.8h-3.7zM288.9 322.1h2v1.8h-2zM295.7 322.1h5.4v1.8h-5.4zM302.5 322.1h3.7v1.8h-3.7zM317.7 322.1h2v1.8h-2zM358.4 322.1h2v1.8h-2zM368.5 322.1h2v1.8h-2zM373.6 322.1h5.4v1.8h-5.4zM382.1 322.1h3.7v1.8h-3.7zM388.9 322.1h8.8v1.8h-8.8zM399 322.1h13.9v1.8h-13.9zM282.1 323.6h2v1.8h-2zM288.9 323.6h2v1.8h-2zM295.7 323.6h15.6v1.8h-15.6zM312.6 323.6h7.1v1.8h-7.1zM331.3 323.6h3.7v1.8h-3.7zM356.7 323.6h3.7v1.8h-3.7zM363.5 323.6h20.6v1.8h-20.6zM388.9 323.6h7.1v1.8h-7.1zM399 323.6h2v1.8h-2zM404.1 323.6h2v1.8h-2zM409.2 323.6h3.7v1.8h-3.7zM278.7 325.1h7.1v1.8h-7.1zM287.2 325.1h3.7v1.8h-3.7zM294 325.1h5.4v1.8h-5.4zM302.5 325.1h3.7v1.8h-3.7zM368.5 325.1h2v1.8h-2zM373.6 325.1h5.4v1.8h-5.4zM382.1 325.1h3.7v1.8h-3.7zM387.2 325.1h25.7v1.8h-25.7zM278.7 326.6h7.1v1.8h-7.1zM287.2 326.6h3.7v1.8h-3.7zM294 326.6h5.4v1.8h-5.4zM302.5 326.6h3.7v1.8h-3.7zM368.5 326.6h2v1.8h-2zM373.6 326.6h7.1v1.8h-7.1zM382.1 326.6h3.7v1.8h-3.7zM388.9 326.6h8.8v1.8h-8.8zM399 326.6h13.9v1.8h-13.9zM270.3 328.1h3.7v1.8h-3.7zM278.7 328.1h10.5v1.8h-10.5zM290.6 328.1h8.8v1.8h-8.8zM375.3 328.1h3.7v1.8h-3.7zM383.8 328.1h25.7v1.8h-25.7zM410.9 328.1h2v1.8h-2zM278.7 329.6h12.2v1.8h-12.2zM294 329.6h5.4v1.8h-5.4zM302.5 329.6h2v1.8h-2zM368.5 329.6h2v1.8h-2zM373.6 329.6h7.1v1.8h-7.1zM382.1 329.6h2v1.8h-2zM388.9 329.6h7.1v1.8h-7.1zM399 329.6h2v1.8h-2zM402.4 329.6h10.5v1.8h-10.5zM270.3 331.1h3.7v1.8h-3.7zM277 331.1h12.2v1.8h-12.2zM290.6 331.1h8.8v1.8h-8.8zM373.6 331.1h5.4v1.8h-5.4zM382.1 331.1h3.7v1.8h-3.7zM387.2 331.1h10.5v1.8h-10.5zM399 331.1h13.9v1.8h-13.9zM258.4 332.6h2v1.8h-2zM270.3 332.6h18.9v1.8h-18.9zM290.6 332.6h7.1v1.8h-7.1zM373.6 332.6h5.4v1.8h-5.4zM382.1 332.6h3.7v1.8h-3.7zM387.2 332.6h10.5v1.8h-10.5zM399 332.6h13.9v1.8h-13.9zM258.4 334.1h20.6v1.8h-20.6zM285.5 334.1h2v1.8h-2zM290.6 334.1h3.7v1.8h-3.7zM375.3 334.1h2v1.8h-2zM383.8 334.1h25.7v1.8h-25.7zM258.4 335.6h20.6v1.8h-20.6zM285.5 335.6h3.7v1.8h-3.7zM290.6 335.6h5.4v1.8h-5.4zM375.3 335.6h3.7v1.8h-3.7zM383.8 335.6h13.9v1.8h-13.9zM399 335.6h10.5v1.8h-10.5zM258.4 337.1h20.6v1.8h-20.6zM285.5 337.1h2v1.8h-2zM290.6 337.1h3.7v1.8h-3.7zM375.3 337.1h2v1.8h-2zM383.8 337.1h13.9v1.8h-13.9zM399 337.1h10.5v1.8h-10.5zM258.4 338.6h12.2v1.8h-12.2zM272 338.6h7.1v1.8h-7.1zM292.3 338.6h2v1.8h-2zM375.3 338.6h2v1.8h-2zM383.8 338.6h2v1.8h-2zM387.2 338.6h10.5v1.8h-10.5zM399 338.6h10.5v1.8h-10.5zM261.8 340.1h3.7v1.8h-3.7zM268.6 340.1h2v1.8h-2zM383.8 340.1h13.9v1.8h-13.9zM399 340.1h8.8v1.8h-8.8zM261.8 341.6h3.7v1.8h-3.7zM268.6 341.6h2v1.8h-2zM375.3 341.6h3.7v1.8h-3.7zM383.8 341.6h2v1.8h-2zM388.9 341.6h7.1v1.8h-7.1zM399 341.6h2v1.8h-2zM402.4 341.6h5.4v1.8h-5.4zM375.3 343.1h2v1.8h-2zM383.8 343.1h2v1.8h-2zM388.9 343.1h7.1v1.8h-7.1zM399 343.1h2v1.8h-2zM402.4 343.1h5.4v1.8h-5.4zM383.8 344.6h2v1.8h-2zM388.9 344.6h7.1v1.8h-7.1zM399 344.6h2v1.8h-2zM402.4 344.6h5.4v1.8h-5.4zM383.8 346h2v1.8h-2zM388.9 346h7.1v1.8h-7.1zM399 346h2v1.8h-2zM402.4 346h5.4v1.8h-5.4zM375.3 347.5h3.7v1.8h-3.7zM388.9 347.5h2v1.8h-2zM399 347.5h2v1.8h-2zM404.1 347.5h3.7v1.8h-3.7zM383.8 349h2v1.8h-2zM388.9 349h5.4v1.8h-5.4zM399 349h2v1.8h-2zM404.1 349h2v1.8h-2zM375.3 350.5h2v1.8h-2zM383.8 350.5h2v1.8h-2zM388.9 350.5h2v1.8h-2zM392.3 350.5h2v1.8h-2zM399 350.5h2v1.8h-2zM404.1 350.5h2v1.8h-2zM383.8 352h2v1.8h-2zM388.9 352h2v1.8h-2zM392.3 352h2v1.8h-2zM399 352h2v1.8h-2zM404.1 352h2v1.8h-2zM375.3 353.5h3.7v1.8h-3.7zM388.9 353.5h2v1.8h-2zM404.1 353.5h3.7v1.8h-3.7zM375.3 355h3.7v1.8h-3.7zM388.9 355h2v1.8h-2zM404.1 355h3.7v1.8h-3.7zM375.3 356.5h3.7v1.8h-3.7zM404.1 356.5h3.7v1.8h-3.7zM375.3 358h2v1.8h-2zM388.9 358h2v1.8h-2zM404.1 358h2v1.8h-2z"/><path fill="#00c6ff" d="M339.7 313.2h3.7v1.8h-3.7zM329.6 314.7h2v1.8h-2zM338 314.7h10.5v1.8h-10.5zM349.9 314.7h2v1.8h-2zM353.3 314.7h2v1.8h-2zM360.1 314.7h2v1.8h-2zM329.6 316.1h2v1.8h-2zM338 316.1h10.5v1.8h-10.5zM349.9 316.1h2v1.8h-2zM353.3 316.1h2v1.8h-2zM360.1 316.1h2v1.8h-2zM329.6 317.6h2v1.8h-2zM338 317.6h10.5v1.8h-10.5zM349.9 317.6h2v1.8h-2zM329.6 319.1h2v1.8h-2zM338 319.1h10.5v1.8h-10.5zM349.9 319.1h2v1.8h-2zM353.3 319.1h2v1.8h-2zM360.1 319.1h2v1.8h-2zM327.9 320.6h3.7v1.8h-3.7zM336.3 320.6h15.6v1.8h-15.6zM353.3 320.6h2v1.8h-2zM360.1 320.6h3.7v1.8h-3.7zM300.8 322.1h2v1.8h-2zM305.8 322.1h12.2v1.8h-12.2zM319.4 322.1h20.6v1.8h-20.6zM348.2 322.1h10.5v1.8h-10.5zM360.1 322.1h8.8v1.8h-8.8zM370.2 322.1h3.7v1.8h-3.7zM378.7 322.1h3.7v1.8h-3.7zM310.9 323.6h2v1.8h-2zM319.4 323.6h12.2v1.8h-12.2zM334.7 323.6h5.4v1.8h-5.4zM343.1 323.6h13.9v1.8h-13.9zM360.1 323.6h3.7v1.8h-3.7zM299.1 325.1h3.7v1.8h-3.7zM305.8 325.1h24v1.8h-24zM331.3 325.1h7.1v1.8h-7.1zM348.2 325.1h2v1.8h-2zM351.6 325.1h17.2v1.8h-17.2zM370.2 325.1h3.7v1.8h-3.7zM378.7 325.1h3.7v1.8h-3.7zM299.1 326.6h3.7v1.8h-3.7zM305.8 326.6h34.2v1.8h-34.2zM348.2 326.6h20.6v1.8h-20.6zM370.2 326.6h3.7v1.8h-3.7zM380.4 326.6h2v1.8h-2zM288.9 328.1h2v1.8h-2zM299.1 328.1h24v1.8h-24zM331.3 328.1h5.4v1.8h-5.4zM351.6 328.1h2v1.8h-2zM355 328.1h5.4v1.8h-5.4zM361.8 328.1h13.9v1.8h-13.9zM378.7 328.1h5.4v1.8h-5.4zM409.2 328.1h2v1.8h-2zM299.1 329.6h3.7v1.8h-3.7zM304.2 329.6h25.7v1.8h-25.7zM331.3 329.6h7.1v1.8h-7.1zM348.2 329.6h2v1.8h-2zM351.6 329.6h17.2v1.8h-17.2zM370.2 329.6h3.7v1.8h-3.7zM380.4 329.6h2v1.8h-2zM288.9 331.1h2v1.8h-2zM299.1 331.1h24v1.8h-24zM331.3 331.1h5.4v1.8h-5.4zM348.2 331.1h2v1.8h-2zM351.6 331.1h2v1.8h-2zM355 331.1h5.4v1.8h-5.4zM361.8 331.1h12.2v1.8h-12.2zM378.7 331.1h3.7v1.8h-3.7zM288.9 332.6h2v1.8h-2zM297.4 332.6h13.9v1.8h-13.9zM312.6 332.6h7.1v1.8h-7.1zM321.1 332.6h2v1.8h-2zM331.3 332.6h5.4v1.8h-5.4zM351.6 332.6h2v1.8h-2zM355 332.6h5.4v1.8h-5.4zM361.8 332.6h12.2v1.8h-12.2zM378.7 332.6h3.7v1.8h-3.7zM278.7 334.1h7.1v1.8h-7.1zM287.2 334.1h3.7v1.8h-3.7zM294 334.1h7.1v1.8h-7.1zM302.5 334.1h3.7v1.8h-3.7zM356.7 334.1h3.7v1.8h-3.7zM363.5 334.1h12.2v1.8h-12.2zM377 334.1h7.1v1.8h-7.1zM409.2 334.1h3.7v1.8h-3.7zM278.7 335.6h7.1v1.8h-7.1zM288.9 335.6h2v1.8h-2zM295.7 335.6h5.4v1.8h-5.4zM302.5 335.6h7.1v1.8h-7.1zM356.7 335.6h3.7v1.8h-3.7zM363.5 335.6h12.2v1.8h-12.2zM378.7 335.6h5.4v1.8h-5.4zM409.2 335.6h3.7v1.8h-3.7zM278.7 337.1h7.1v1.8h-7.1zM287.2 337.1h3.7v1.8h-3.7zM294 337.1h7.1v1.8h-7.1zM302.5 337.1h3.7v1.8h-3.7zM356.7 337.1h3.7v1.8h-3.7zM363.5 337.1h12.2v1.8h-12.2zM377 337.1h7.1v1.8h-7.1zM409.2 337.1h3.7v1.8h-3.7zM270.3 338.6h2v1.8h-2zM278.7 338.6h10.5v1.8h-10.5zM290.6 338.6h2v1.8h-2zM294 338.6h5.4v1.8h-5.4zM302.5 338.6h2v1.8h-2zM356.7 338.6h3.7v1.8h-3.7zM363.5 338.6h12.2v1.8h-12.2zM377 338.6h7.1v1.8h-7.1zM410.9 338.6h2v1.8h-2zM258.4 340.1h3.7v1.8h-3.7zM265.2 340.1h3.7v1.8h-3.7zM270.3 340.1h8.8v1.8h-8.8zM280.4 340.1h2v1.8h-2zM283.8 340.1h5.4v1.8h-5.4zM290.6 340.1h7.1v1.8h-7.1zM358.4 340.1h2v1.8h-2zM363.5 340.1h2v1.8h-2zM368.5 340.1h15.6v1.8h-15.6zM407.5 340.1h2v1.8h-2zM258.4 341.6h3.7v1.8h-3.7zM265.2 341.6h3.7v1.8h-3.7zM270.3 341.6h8.8v1.8h-8.8zM280.4 341.6h2v1.8h-2zM283.8 341.6h5.4v1.8h-5.4zM290.6 341.6h7.1v1.8h-7.1zM356.7 341.6h3.7v1.8h-3.7zM363.5 341.6h12.2v1.8h-12.2zM378.7 341.6h5.4v1.8h-5.4zM407.5 341.6h2v1.8h-2zM258.4 343.1h20.6v1.8h-20.6zM290.6 343.1h3.7v1.8h-3.7zM368.5 343.1h2v1.8h-2zM373.6 343.1h2v1.8h-2zM377 343.1h7.1v1.8h-7.1zM407.5 343.1h2v1.8h-2zM258.4 344.6h12.2v1.8h-12.2zM272 344.6h7.1v1.8h-7.1zM292.3 344.6h2v1.8h-2zM368.5 344.6h2v1.8h-2zM373.6 344.6h10.5v1.8h-10.5zM407.5 344.6h2v1.8h-2zM260.1 346h5.4v1.8h-5.4zM266.9 346h3.7v1.8h-3.7zM368.5 346h2v1.8h-2zM373.6 346h7.1v1.8h-7.1zM382.1 346h2v1.8h-2zM407.5 346h2v1.8h-2zM260.1 347.5h10.5v1.8h-10.5zM273.7 347.5h3.7v1.8h-3.7zM358.4 347.5h2v1.8h-2zM363.5 347.5h2v1.8h-2zM368.5 347.5h3.7v1.8h-3.7zM373.6 347.5h2v1.8h-2zM378.7 347.5h5.4v1.8h-5.4zM407.5 347.5h2v1.8h-2zM261.8 349h2v1.8h-2zM368.5 349h2v1.8h-2zM373.6 349h5.4v1.8h-5.4zM382.1 349h2v1.8h-2zM405.8 349h2v1.8h-2zM261.8 350.5h2v1.8h-2zM368.5 350.5h2v1.8h-2zM373.6 350.5h2v1.8h-2zM377 350.5h2v1.8h-2zM382.1 350.5h2v1.8h-2zM405.8 350.5h2v1.8h-2zM368.5 352h2v1.8h-2zM373.6 352h5.4v1.8h-5.4zM382.1 352h2v1.8h-2zM405.8 352h2v1.8h-2zM356.7 353.5h3.7v1.8h-3.7zM363.5 353.5h2v1.8h-2zM368.5 353.5h3.7v1.8h-3.7zM373.6 353.5h2v1.8h-2zM378.7 353.5h2v1.8h-2zM382.1 353.5h2v1.8h-2zM356.7 355h3.7v1.8h-3.7zM363.5 355h2v1.8h-2zM368.5 355h2v1.8h-2zM373.6 355h2v1.8h-2zM378.7 355h2v1.8h-2zM382.1 355h2v1.8h-2zM356.7 356.5h3.7v1.8h-3.7zM363.5 356.5h2v1.8h-2zM368.5 356.5h2v1.8h-2zM373.6 356.5h2v1.8h-2zM378.7 356.5h2v1.8h-2zM382.1 356.5h2v1.8h-2zM368.5 358h2v1.8h-2zM373.6 358h2v1.8h-2zM377 358h2v1.8h-2zM382.1 358h2v1.8h-2zM405.8 358h2v1.8h-2z"/><path fill="#00a0ff" d="M339.7 322.1h8.8v1.8h-8.8zM339.7 323.6h3.7v1.8h-3.7zM329.6 325.1h2v1.8h-2zM338 325.1h10.5v1.8h-10.5zM349.9 325.1h2v1.8h-2zM339.7 326.6h8.8v1.8h-8.8zM322.8 328.1h8.8v1.8h-8.8zM336.3 328.1h15.6v1.8h-15.6zM353.3 328.1h2v1.8h-2zM360.1 328.1h2v1.8h-2zM329.6 329.6h2v1.8h-2zM338 329.6h10.5v1.8h-10.5zM349.9 329.6h2v1.8h-2zM322.8 331.1h8.8v1.8h-8.8zM336.3 331.1h12.2v1.8h-12.2zM349.9 331.1h2v1.8h-2zM353.3 331.1h2v1.8h-2zM360.1 331.1h2v1.8h-2zM310.9 332.6h2v1.8h-2zM319.4 332.6h2v1.8h-2zM322.8 332.6h8.8v1.8h-8.8zM336.3 332.6h15.6v1.8h-15.6zM353.3 332.6h2v1.8h-2zM360.1 332.6h2v1.8h-2zM300.8 334.1h2v1.8h-2zM305.8 334.1h34.2v1.8h-34.2zM346.5 334.1h10.5v1.8h-10.5zM360.1 334.1h3.7v1.8h-3.7zM300.8 335.6h2v1.8h-2zM309.2 335.6h30.8v1.8h-30.8zM344.8 335.6h12.2v1.8h-12.2zM360.1 335.6h3.7v1.8h-3.7zM300.8 337.1h2v1.8h-2zM305.8 337.1h34.2v1.8h-34.2zM346.5 337.1h10.5v1.8h-10.5zM360.1 337.1h3.7v1.8h-3.7zM288.9 338.6h2v1.8h-2zM299.1 338.6h3.7v1.8h-3.7zM304.2 338.6h25.7v1.8h-25.7zM331.3 338.6h7.1v1.8h-7.1zM348.2 338.6h8.8v1.8h-8.8zM360.1 338.6h3.7v1.8h-3.7zM409.2 338.6h2v1.8h-2zM278.7 340.1h2v1.8h-2zM282.1 340.1h2v1.8h-2zM288.9 340.1h2v1.8h-2zM297.4 340.1h13.9v1.8h-13.9zM312.6 340.1h7.1v1.8h-7.1zM331.3 340.1h5.4v1.8h-5.4zM348.2 340.1h2v1.8h-2zM351.6 340.1h7.1v1.8h-7.1zM360.1 340.1h3.7v1.8h-3.7zM365.2 340.1h3.7v1.8h-3.7zM409.2 340.1h3.7v1.8h-3.7zM278.7 341.6h2v1.8h-2zM282.1 341.6h2v1.8h-2zM288.9 341.6h2v1.8h-2zM297.4 341.6h13.9v1.8h-13.9zM312.6 341.6h7.1v1.8h-7.1zM321.1 341.6h2v1.8h-2zM331.3 341.6h7.1v1.8h-7.1zM348.2 341.6h2v1.8h-2zM351.6 341.6h5.4v1.8h-5.4zM360.1 341.6h3.7v1.8h-3.7zM410.9 341.6h2v1.8h-2zM278.7 343.1h10.5v1.8h-10.5zM294 343.1h5.4v1.8h-5.4zM302.5 343.1h3.7v1.8h-3.7zM331.3 343.1h5.4v1.8h-5.4zM348.2 343.1h2v1.8h-2zM351.6 343.1h2v1.8h-2zM355 343.1h13.9v1.8h-13.9zM370.2 343.1h3.7v1.8h-3.7zM410.9 343.1h2v1.8h-2zM270.3 344.6h2v1.8h-2zM278.7 344.6h10.5v1.8h-10.5zM290.6 344.6h2v1.8h-2zM294 344.6h5.4v1.8h-5.4zM333 344.6h2v1.8h-2zM351.6 344.6h2v1.8h-2zM355 344.6h5.4v1.8h-5.4zM361.8 344.6h7.1v1.8h-7.1zM370.2 344.6h3.7v1.8h-3.7zM410.9 344.6h2v1.8h-2zM258.4 346h2v1.8h-2zM265.2 346h2v1.8h-2zM270.3 346h8.8v1.8h-8.8zM280.4 346h2v1.8h-2zM283.8 346h5.4v1.8h-5.4zM290.6 346h7.1v1.8h-7.1zM356.7 346h3.7v1.8h-3.7zM361.8 346h7.1v1.8h-7.1zM370.2 346h3.7v1.8h-3.7zM380.4 346h2v1.8h-2zM258.4 347.5h2v1.8h-2zM270.3 347.5h3.7v1.8h-3.7zM277 347.5h2v1.8h-2zM280.4 347.5h2v1.8h-2zM283.8 347.5h5.4v1.8h-5.4zM290.6 347.5h7.1v1.8h-7.1zM333 347.5h2v1.8h-2zM348.2 347.5h2v1.8h-2zM351.6 347.5h2v1.8h-2zM355 347.5h3.7v1.8h-3.7zM361.8 347.5h2v1.8h-2zM365.2 347.5h3.7v1.8h-3.7zM371.9 347.5h2v1.8h-2zM258.4 349h3.7v1.8h-3.7zM263.5 349h15.6v1.8h-15.6zM290.6 349h3.7v1.8h-3.7zM356.7 349h3.7v1.8h-3.7zM363.5 349h5.4v1.8h-5.4zM370.2 349h3.7v1.8h-3.7zM378.7 349h3.7v1.8h-3.7zM407.5 349h2v1.8h-2zM258.4 350.5h3.7v1.8h-3.7zM263.5 350.5h7.1v1.8h-7.1zM272 350.5h7.1v1.8h-7.1zM290.6 350.5h3.7v1.8h-3.7zM356.7 350.5h3.7v1.8h-3.7zM361.8 350.5h7.1v1.8h-7.1zM370.2 350.5h3.7v1.8h-3.7zM378.7 350.5h3.7v1.8h-3.7zM407.5 350.5h2v1.8h-2zM258.4 352h12.2v1.8h-12.2zM273.7 352h5.4v1.8h-5.4zM356.7 352h3.7v1.8h-3.7zM363.5 352h5.4v1.8h-5.4zM370.2 352h3.7v1.8h-3.7zM378.7 352h3.7v1.8h-3.7zM407.5 352h2v1.8h-2zM258.4 353.5h12.2v1.8h-12.2zM272 353.5h7.1v1.8h-7.1zM290.6 353.5h3.7v1.8h-3.7zM351.6 353.5h2v1.8h-2zM355 353.5h2v1.8h-2zM361.8 353.5h2v1.8h-2zM365.2 353.5h3.7v1.8h-3.7zM371.9 353.5h2v1.8h-2zM380.4 353.5h2v1.8h-2zM407.5 353.5h2v1.8h-2zM260.1 355h10.5v1.8h-10.5zM273.7 355h5.4v1.8h-5.4zM355 355h2v1.8h-2zM361.8 355h2v1.8h-2zM365.2 355h3.7v1.8h-3.7zM370.2 355h3.7v1.8h-3.7zM380.4 355h2v1.8h-2zM407.5 355h2v1.8h-2zM260.1 356.5h10.5v1.8h-10.5zM273.7 356.5h3.7v1.8h-3.7zM355 356.5h2v1.8h-2zM361.8 356.5h2v1.8h-2zM365.2 356.5h3.7v1.8h-3.7zM370.2 356.5h3.7v1.8h-3.7zM380.4 356.5h2v1.8h-2zM407.5 356.5h2v1.8h-2zM261.8 358h3.7v1.8h-3.7zM356.7 358h3.7v1.8h-3.7zM363.5 358h5.4v1.8h-5.4zM370.2 358h3.7v1.8h-3.7zM378.7 358h3.7v1.8h-3.7z"/><path fill="#0078ff" d="M339.7 334.1h7.1v1.8h-7.1zM339.7 335.6h5.4v1.8h-5.4zM339.7 337.1h7.1v1.8h-7.1zM329.6 338.6h2v1.8h-2zM338 338.6h10.5v1.8h-10.5zM310.9 340.1h2v1.8h-2zM319.4 340.1h12.2v1.8h-12.2zM336.3 340.1h12.2v1.8h-12.2zM349.9 340.1h2v1.8h-2zM310.9 341.6h2v1.8h-2zM319.4 341.6h2v1.8h-2zM322.8 341.6h8.8v1.8h-8.8zM338 341.6h10.5v1.8h-10.5zM349.9 341.6h2v1.8h-2zM409.2 341.6h2v1.8h-2zM288.9 343.1h2v1.8h-2zM299.1 343.1h3.7v1.8h-3.7zM305.8 343.1h25.7v1.8h-25.7zM336.3 343.1h3.7v1.8h-3.7zM343.1 343.1h5.4v1.8h-5.4zM349.9 343.1h2v1.8h-2zM353.3 343.1h2v1.8h-2zM409.2 343.1h2v1.8h-2zM288.9 344.6h2v1.8h-2zM299.1 344.6h30.8v1.8h-30.8zM331.3 344.6h2v1.8h-2zM334.7 344.6h5.4v1.8h-5.4zM346.5 344.6h5.4v1.8h-5.4zM353.3 344.6h2v1.8h-2zM360.1 344.6h2v1.8h-2zM278.7 346h2v1.8h-2zM282.1 346h2v1.8h-2zM288.9 346h2v1.8h-2zM297.4 346h3.7v1.8h-3.7zM302.5 346h8.8v1.8h-8.8zM312.6 346h7.1v1.8h-7.1zM321.1 346h2v1.8h-2zM324.5 346h3.7v1.8h-3.7zM331.3 346h8.8v1.8h-8.8zM348.2 346h8.8v1.8h-8.8zM360.1 346h2v1.8h-2zM410.9 346h2v1.8h-2zM278.7 347.5h2v1.8h-2zM282.1 347.5h2v1.8h-2zM288.9 347.5h2v1.8h-2zM297.4 347.5h3.7v1.8h-3.7zM302.5 347.5h8.8v1.8h-8.8zM312.6 347.5h15.6v1.8h-15.6zM331.3 347.5h2v1.8h-2zM334.7 347.5h5.4v1.8h-5.4zM346.5 347.5h2v1.8h-2zM349.9 347.5h2v1.8h-2zM353.3 347.5h2v1.8h-2zM360.1 347.5h2v1.8h-2zM410.9 347.5h2v1.8h-2zM278.7 349h10.5v1.8h-10.5zM294 349h5.4v1.8h-5.4zM302.5 349h2v1.8h-2zM317.7 349h2v1.8h-2zM331.3 349h7.1v1.8h-7.1zM348.2 349h8.8v1.8h-8.8zM360.1 349h3.7v1.8h-3.7zM410.9 349h2v1.8h-2zM270.3 350.5h2v1.8h-2zM278.7 350.5h3.7v1.8h-3.7zM283.8 350.5h5.4v1.8h-5.4zM294 350.5h5.4v1.8h-5.4zM317.7 350.5h2v1.8h-2zM331.3 350.5h7.1v1.8h-7.1zM348.2 350.5h8.8v1.8h-8.8zM360.1 350.5h2v1.8h-2zM410.9 350.5h2v1.8h-2zM270.3 352h3.7v1.8h-3.7zM280.4 352h2v1.8h-2zM283.8 352h5.4v1.8h-5.4zM290.6 352h7.1v1.8h-7.1zM331.3 352h5.4v1.8h-5.4zM348.2 352h2v1.8h-2zM351.6 352h5.4v1.8h-5.4zM360.1 352h3.7v1.8h-3.7zM270.3 353.5h2v1.8h-2zM280.4 353.5h2v1.8h-2zM283.8 353.5h5.4v1.8h-5.4zM294 353.5h5.4v1.8h-5.4zM317.7 353.5h2v1.8h-2zM331.3 353.5h7.1v1.8h-7.1zM348.2 353.5h3.7v1.8h-3.7zM353.3 353.5h2v1.8h-2zM360.1 353.5h2v1.8h-2zM258.4 355h2v1.8h-2zM270.3 355h3.7v1.8h-3.7zM285.5 355h3.7v1.8h-3.7zM290.6 355h7.1v1.8h-7.1zM331.3 355h7.1v1.8h-7.1zM348.2 355h7.1v1.8h-7.1zM360.1 355h2v1.8h-2zM258.4 356.5h2v1.8h-2zM270.3 356.5h3.7v1.8h-3.7zM277 356.5h2v1.8h-2zM285.5 356.5h3.7v1.8h-3.7zM290.6 356.5h5.4v1.8h-5.4zM331.3 356.5h5.4v1.8h-5.4zM348.2 356.5h7.1v1.8h-7.1zM360.1 356.5h2v1.8h-2zM258.4 358h3.7v1.8h-3.7zM265.2 358h13.9v1.8h-13.9zM285.5 358h2v1.8h-2zM290.6 358h5.4v1.8h-5.4zM331.3 358h3.7v1.8h-3.7zM348.2 358h2v1.8h-2zM351.6 358h5.4v1.8h-5.4zM360.1 358h3.7v1.8h-3.7zM407.5 358h2v1.8h-2z"/><path fill="#0050ff" d="M339.7 343.1h3.7v1.8h-3.7zM329.6 344.6h2v1.8h-2zM339.7 344.6h7.1v1.8h-7.1zM409.2 344.6h2v1.8h-2zM300.8 346h2v1.8h-2zM310.9 346h2v1.8h-2zM319.4 346h2v1.8h-2zM322.8 346h2v1.8h-2zM327.9 346h3.7v1.8h-3.7zM339.7 346h8.8v1.8h-8.8zM409.2 346h2v1.8h-2zM300.8 347.5h2v1.8h-2zM310.9 347.5h2v1.8h-2zM327.9 347.5h3.7v1.8h-3.7zM339.7 347.5h7.1v1.8h-7.1zM409.2 347.5h2v1.8h-2zM288.9 349h2v1.8h-2zM299.1 349h3.7v1.8h-3.7zM304.2 349h13.9v1.8h-13.9zM319.4 349h12.2v1.8h-12.2zM338 349h10.5v1.8h-10.5zM282.1 350.5h2v1.8h-2zM288.9 350.5h2v1.8h-2zM299.1 350.5h18.9v1.8h-18.9zM319.4 350.5h12.2v1.8h-12.2zM338 350.5h10.5v1.8h-10.5zM278.7 352h2v1.8h-2zM282.1 352h2v1.8h-2zM288.9 352h2v1.8h-2zM297.4 352h2v1.8h-2zM302.5 352h8.8v1.8h-8.8zM312.6 352h17.2v1.8h-17.2zM336.3 352h3.7v1.8h-3.7zM343.1 352h5.4v1.8h-5.4zM349.9 352h2v1.8h-2zM410.9 352h2v1.8h-2zM278.7 353.5h2v1.8h-2zM282.1 353.5h2v1.8h-2zM288.9 353.5h2v1.8h-2zM299.1 353.5h2v1.8h-2zM302.5 353.5h8.8v1.8h-8.8zM312.6 353.5h5.4v1.8h-5.4zM319.4 353.5h12.2v1.8h-12.2zM338 353.5h10.5v1.8h-10.5zM410.9 353.5h2v1.8h-2zM278.7 355h7.1v1.8h-7.1zM288.9 355h2v1.8h-2zM297.4 355h2v1.8h-2zM302.5 355h8.8v1.8h-8.8zM312.6 355h18.9v1.8h-18.9zM338 355h2v1.8h-2zM343.1 355h5.4v1.8h-5.4zM410.9 355h2v1.8h-2zM278.7 356.5h7.1v1.8h-7.1zM295.7 356.5h3.7v1.8h-3.7zM302.5 356.5h3.7v1.8h-3.7zM307.5 356.5h3.7v1.8h-3.7zM312.6 356.5h17.2v1.8h-17.2zM336.3 356.5h3.7v1.8h-3.7zM343.1 356.5h5.4v1.8h-5.4zM410.9 356.5h2v1.8h-2zM278.7 358h3.7v1.8h-3.7zM283.8 358h2v1.8h-2zM287.2 358h2v1.8h-2zM295.7 358h3.7v1.8h-3.7zM302.5 358h3.7v1.8h-3.7zM316 358h3.7v1.8h-3.7zM321.1 358h2v1.8h-2zM324.5 358h3.7v1.8h-3.7zM334.7 358h5.4v1.8h-5.4zM346.5 358h2v1.8h-2zM349.9 358h2v1.8h-2z"/><path fill="#0830ff" d="M409.2 349h2v1.8h-2zM409.2 350.5h2v1.8h-2zM299.1 352h3.7v1.8h-3.7zM310.9 352h2v1.8h-2zM329.6 352h2v1.8h-2zM339.7 352h3.7v1.8h-3.7zM300.8 353.5h2v1.8h-2zM310.9 353.5h2v1.8h-2zM299.1 355h3.7v1.8h-3.7zM310.9 355h2v1.8h-2zM339.7 355h3.7v1.8h-3.7zM288.9 356.5h2v1.8h-2zM299.1 356.5h3.7v1.8h-3.7zM305.8 356.5h2v1.8h-2zM310.9 356.5h2v1.8h-2zM329.6 356.5h2v1.8h-2zM339.7 356.5h3.7v1.8h-3.7zM282.1 358h2v1.8h-2zM288.9 358h2v1.8h-2zM299.1 358h3.7v1.8h-3.7zM305.8 358h10.5v1.8h-10.5zM319.4 358h2v1.8h-2zM322.8 358h2v1.8h-2zM327.9 358h3.7v1.8h-3.7zM339.7 358h7.1v1.8h-7.1zM410.9 358h2v1.8h-2z"/><path fill="#1515ff" d="M409.2 352h2v1.8h-2zM409.2 353.5h2v1.8h-2zM409.2 355h2v1.8h-2z"/><path fill="#2500fc" d="M409.2 356.5h2v1.8h-2zM409.2 358h2v1.8h-2z"/></g>
<text x="313.5" y="273" font-size="14.2" font-weight="bold" fill="#fff" textLength="51.5" lengthAdjust="spacingAndGlyphs">560 nm</text>
<line x1="324.8" y1="276.7" x2="324.8" y2="359" stroke="#fff" stroke-width="1.7" stroke-dasharray="7 6.2"/>
<rect x="258.4" y="211.5" width="154.2" height="148" fill="none" stroke="#222" stroke-width="1"/>
<line x1="258.4" y1="348.3" x2="261.4" y2="348.3" stroke="#111" stroke-width="0.9"/>
<text x="255" y="350.7" font-size="8.4" text-anchor="end" fill="#262626">0.1</text>
<line x1="258.4" y1="319.6" x2="261.4" y2="319.6" stroke="#111" stroke-width="0.9"/>
<text x="255" y="321.9" font-size="8.4" text-anchor="end" fill="#262626">1</text>
<line x1="258.4" y1="290.8" x2="261.4" y2="290.8" stroke="#111" stroke-width="0.9"/>
<text x="255" y="293.2" font-size="8.4" text-anchor="end" fill="#262626">10</text>
<line x1="258.4" y1="262.1" x2="261.4" y2="262.1" stroke="#111" stroke-width="0.9"/>
<text x="255" y="264.4" font-size="8.4" text-anchor="end" fill="#262626">100</text>
<line x1="258.4" y1="233.3" x2="261.4" y2="233.3" stroke="#111" stroke-width="0.9"/>
<text x="255" y="235.7" font-size="8.4" text-anchor="end" fill="#262626">1000</text>
<line x1="258.4" y1="357" x2="260.1" y2="357" stroke="#111" stroke-width="0.7"/>
<line x1="258.4" y1="354.7" x2="260.1" y2="354.7" stroke="#111" stroke-width="0.7"/>
<line x1="258.4" y1="352.8" x2="260.1" y2="352.8" stroke="#111" stroke-width="0.7"/>
<line x1="258.4" y1="351.1" x2="260.1" y2="351.1" stroke="#111" stroke-width="0.7"/>
<line x1="258.4" y1="349.6" x2="260.1" y2="349.6" stroke="#111" stroke-width="0.7"/>
<line x1="258.4" y1="339.6" x2="260.1" y2="339.6" stroke="#111" stroke-width="0.7"/>
<line x1="258.4" y1="334.6" x2="260.1" y2="334.6" stroke="#111" stroke-width="0.7"/>
<line x1="258.4" y1="331" x2="260.1" y2="331" stroke="#111" stroke-width="0.7"/>
<line x1="258.4" y1="328.2" x2="260.1" y2="328.2" stroke="#111" stroke-width="0.7"/>
<line x1="258.4" y1="325.9" x2="260.1" y2="325.9" stroke="#111" stroke-width="0.7"/>
<line x1="258.4" y1="324" x2="260.1" y2="324" stroke="#111" stroke-width="0.7"/>
<line x1="258.4" y1="322.3" x2="260.1" y2="322.3" stroke="#111" stroke-width="0.7"/>
<line x1="258.4" y1="320.9" x2="260.1" y2="320.9" stroke="#111" stroke-width="0.7"/>
<line x1="258.4" y1="310.9" x2="260.1" y2="310.9" stroke="#111" stroke-width="0.7"/>
<line x1="258.4" y1="305.8" x2="260.1" y2="305.8" stroke="#111" stroke-width="0.7"/>
<line x1="258.4" y1="302.2" x2="260.1" y2="302.2" stroke="#111" stroke-width="0.7"/>
<line x1="258.4" y1="299.5" x2="260.1" y2="299.5" stroke="#111" stroke-width="0.7"/>
<line x1="258.4" y1="297.2" x2="260.1" y2="297.2" stroke="#111" stroke-width="0.7"/>
<line x1="258.4" y1="295.3" x2="260.1" y2="295.3" stroke="#111" stroke-width="0.7"/>
<line x1="258.4" y1="293.6" x2="260.1" y2="293.6" stroke="#111" stroke-width="0.7"/>
<line x1="258.4" y1="292.1" x2="260.1" y2="292.1" stroke="#111" stroke-width="0.7"/>
<line x1="258.4" y1="282.1" x2="260.1" y2="282.1" stroke="#111" stroke-width="0.7"/>
<line x1="258.4" y1="277.1" x2="260.1" y2="277.1" stroke="#111" stroke-width="0.7"/>
<line x1="258.4" y1="273.5" x2="260.1" y2="273.5" stroke="#111" stroke-width="0.7"/>
<line x1="258.4" y1="270.7" x2="260.1" y2="270.7" stroke="#111" stroke-width="0.7"/>
<line x1="258.4" y1="268.4" x2="260.1" y2="268.4" stroke="#111" stroke-width="0.7"/>
<line x1="258.4" y1="266.5" x2="260.1" y2="266.5" stroke="#111" stroke-width="0.7"/>
<line x1="258.4" y1="264.8" x2="260.1" y2="264.8" stroke="#111" stroke-width="0.7"/>
<line x1="258.4" y1="263.4" x2="260.1" y2="263.4" stroke="#111" stroke-width="0.7"/>
<line x1="258.4" y1="253.4" x2="260.1" y2="253.4" stroke="#111" stroke-width="0.7"/>
<line x1="258.4" y1="248.3" x2="260.1" y2="248.3" stroke="#111" stroke-width="0.7"/>
<line x1="258.4" y1="244.7" x2="260.1" y2="244.7" stroke="#111" stroke-width="0.7"/>
<line x1="258.4" y1="242" x2="260.1" y2="242" stroke="#111" stroke-width="0.7"/>
<line x1="258.4" y1="239.7" x2="260.1" y2="239.7" stroke="#111" stroke-width="0.7"/>
<line x1="258.4" y1="237.8" x2="260.1" y2="237.8" stroke="#111" stroke-width="0.7"/>
<line x1="258.4" y1="236.1" x2="260.1" y2="236.1" stroke="#111" stroke-width="0.7"/>
<line x1="258.4" y1="234.6" x2="260.1" y2="234.6" stroke="#111" stroke-width="0.7"/>
<line x1="258.4" y1="224.6" x2="260.1" y2="224.6" stroke="#111" stroke-width="0.7"/>
<line x1="258.4" y1="219.6" x2="260.1" y2="219.6" stroke="#111" stroke-width="0.7"/>
<line x1="258.4" y1="216" x2="260.1" y2="216" stroke="#111" stroke-width="0.7"/>
<line x1="258.4" y1="213.2" x2="260.1" y2="213.2" stroke="#111" stroke-width="0.7"/>
<line x1="277" y1="359.5" x2="277" y2="356.5" stroke="#111" stroke-width="0.9"/>
<text x="277" y="369.5" font-size="8.4" text-anchor="middle" fill="#262626">450</text>
<line x1="299.5" y1="359.5" x2="299.5" y2="356.5" stroke="#111" stroke-width="0.9"/>
<text x="299.5" y="369.5" font-size="8.4" text-anchor="middle" fill="#262626">500</text>
<line x1="322" y1="359.5" x2="322" y2="356.5" stroke="#111" stroke-width="0.9"/>
<text x="322" y="369.5" font-size="8.4" text-anchor="middle" fill="#262626">550</text>
<line x1="344.5" y1="359.5" x2="344.5" y2="356.5" stroke="#111" stroke-width="0.9"/>
<text x="344.5" y="369.5" font-size="8.4" text-anchor="middle" fill="#262626">600</text>
<line x1="367" y1="359.5" x2="367" y2="356.5" stroke="#111" stroke-width="0.9"/>
<text x="367" y="369.5" font-size="8.4" text-anchor="middle" fill="#262626">650</text>
<line x1="389.5" y1="359.5" x2="389.5" y2="356.5" stroke="#111" stroke-width="0.9"/>
<text x="389.5" y="369.5" font-size="8.4" text-anchor="middle" fill="#262626">700</text>
<line x1="412" y1="359.5" x2="412" y2="356.5" stroke="#111" stroke-width="0.9"/>
<text x="412" y="369.5" font-size="8.4" text-anchor="middle" fill="#262626">750</text>
<line x1="265.8" y1="359.5" x2="265.8" y2="357.7" stroke="#111" stroke-width="0.7"/>
<line x1="288.2" y1="359.5" x2="288.2" y2="357.7" stroke="#111" stroke-width="0.7"/>
<line x1="310.8" y1="359.5" x2="310.8" y2="357.7" stroke="#111" stroke-width="0.7"/>
<line x1="333.2" y1="359.5" x2="333.2" y2="357.7" stroke="#111" stroke-width="0.7"/>
<line x1="355.8" y1="359.5" x2="355.8" y2="357.7" stroke="#111" stroke-width="0.7"/>
<line x1="378.2" y1="359.5" x2="378.2" y2="357.7" stroke="#111" stroke-width="0.7"/>
<line x1="400.8" y1="359.5" x2="400.8" y2="357.7" stroke="#111" stroke-width="0.7"/>
<text x="335.8" y="386.7" font-size="10.6" text-anchor="middle" fill="#262626" textLength="88.5" lengthAdjust="spacingAndGlyphs">Wavelength (nm)</text>
<text transform="translate(233.6 286) rotate(-90)" font-size="10.6" text-anchor="middle" textLength="76.6" lengthAdjust="spacingAndGlyphs" fill="#262626">Delay time (ps)</text>
<rect x="422.2" y="212.3" width="12.3" height="148.1" fill="#fff" stroke="#333" stroke-width="0.7"/>
<g shape-rendering="crispEdges"><rect x="422.6" y="215.5" width="11.6" height="4" fill="#5c0000"/><rect x="422.6" y="219.1" width="11.6" height="4" fill="#730000"/><rect x="422.6" y="222.6" width="11.6" height="4" fill="#8b0000"/><rect x="422.6" y="226.2" width="11.6" height="4" fill="#a30000"/><rect x="422.6" y="229.7" width="11.6" height="4" fill="#bd0000"/><rect x="422.6" y="233.3" width="11.6" height="4" fill="#d80000"/><rect x="422.6" y="236.8" width="11.6" height="4" fill="#f20000"/><rect x="422.6" y="240.4" width="11.6" height="4" fill="#ff0000"/><rect x="422.6" y="244" width="11.6" height="4" fill="#ff0000"/><rect x="422.6" y="247.5" width="11.6" height="4" fill="#ff0000"/><rect x="422.6" y="251.1" width="11.6" height="4" fill="#ff0000"/><rect x="422.6" y="254.6" width="11.6" height="4" fill="#ff0000"/><rect x="422.6" y="258.2" width="11.6" height="4" fill="#ff0000"/><rect x="422.6" y="261.7" width="11.6" height="4" fill="#ff0700"/><rect x="422.6" y="265.3" width="11.6" height="4" fill="#ff4600"/><rect x="422.6" y="268.9" width="11.6" height="4" fill="#ff7400"/><rect x="422.6" y="272.4" width="11.6" height="4" fill="#ffa100"/><rect x="422.6" y="276" width="11.6" height="4" fill="#ffca00"/><rect x="422.6" y="279.5" width="11.6" height="4" fill="#ffee00"/><rect x="422.6" y="283.1" width="11.6" height="4" fill="#f1ff00"/><rect x="422.6" y="286.6" width="11.6" height="4" fill="#d4ff00"/><rect x="422.6" y="290.2" width="11.6" height="4" fill="#a7ff00"/><rect x="422.6" y="293.8" width="11.6" height="4" fill="#7aff00"/><rect x="422.6" y="297.3" width="11.6" height="4" fill="#4dff00"/><rect x="422.6" y="300.9" width="11.6" height="4" fill="#27ff0c"/><rect x="422.6" y="304.4" width="11.6" height="4" fill="#04ff1e"/><rect x="422.6" y="308" width="11.6" height="4" fill="#00ff7a"/><rect x="422.6" y="311.6" width="11.6" height="4" fill="#00f8ce"/><rect x="422.6" y="315.1" width="11.6" height="4" fill="#00e2fa"/><rect x="422.6" y="318.7" width="11.6" height="4" fill="#00b7ff"/><rect x="422.6" y="322.2" width="11.6" height="4" fill="#0088ff"/><rect x="422.6" y="325.8" width="11.6" height="4" fill="#0058ff"/><rect x="422.6" y="329.3" width="11.6" height="4" fill="#0830ff"/><rect x="422.6" y="332.9" width="11.6" height="4" fill="#1810ff"/><rect x="422.6" y="336.5" width="11.6" height="4" fill="#3000f7"/><rect x="422.6" y="340" width="11.6" height="4" fill="#5000e8"/><rect x="422.6" y="343.6" width="11.6" height="4" fill="#6300d1"/><rect x="422.6" y="347.1" width="11.6" height="4" fill="#6a00b3"/><rect x="422.6" y="350.7" width="11.6" height="4" fill="#6e0095"/><rect x="422.6" y="354.2" width="11.6" height="4" fill="#5a007c"/></g>
<text x="406.5" y="206.6" font-size="8.0" fill="#262626" textLength="43.7" lengthAdjust="spacingAndGlyphs">Pd SA/BCNx</text>
<line x1="434.5" y1="215.5" x2="436.7" y2="215.5" stroke="#333" stroke-width="0.6"/>
<text x="438.8" y="217.2" font-size="4.9" fill="#333" textLength="21" lengthAdjust="spacingAndGlyphs">0.002460</text>
<line x1="434.5" y1="233.3" x2="436.7" y2="233.3" stroke="#333" stroke-width="0.6"/>
<text x="438.8" y="235" font-size="4.9" fill="#333" textLength="21" lengthAdjust="spacingAndGlyphs">0.001938</text>
<line x1="434.5" y1="251.1" x2="436.7" y2="251.1" stroke="#333" stroke-width="0.6"/>
<text x="438.8" y="252.8" font-size="4.9" fill="#333" textLength="21" lengthAdjust="spacingAndGlyphs">0.001415</text>
<line x1="434.5" y1="268.9" x2="436.7" y2="268.9" stroke="#333" stroke-width="0.6"/>
<text x="438.8" y="270.6" font-size="4.9" fill="#333" textLength="23.6" lengthAdjust="spacingAndGlyphs">8.925E-04</text>
<line x1="434.5" y1="286.6" x2="436.7" y2="286.6" stroke="#333" stroke-width="0.6"/>
<text x="438.8" y="288.3" font-size="4.9" fill="#333" textLength="23.6" lengthAdjust="spacingAndGlyphs">3.708E-04</text>
<line x1="434.5" y1="304.4" x2="436.7" y2="304.4" stroke="#333" stroke-width="0.6"/>
<text x="438.8" y="306.1" font-size="4.9" fill="#333" textLength="26.2" lengthAdjust="spacingAndGlyphs">-1.525E-04</text>
<line x1="434.5" y1="322.2" x2="436.7" y2="322.2" stroke="#333" stroke-width="0.6"/>
<text x="438.8" y="323.9" font-size="4.9" fill="#333" textLength="26.2" lengthAdjust="spacingAndGlyphs">-6.750E-04</text>
<line x1="434.5" y1="340" x2="436.7" y2="340" stroke="#333" stroke-width="0.6"/>
<text x="438.8" y="341.7" font-size="4.9" fill="#333" textLength="23.6" lengthAdjust="spacingAndGlyphs">-0.001198</text>
<line x1="434.5" y1="357.8" x2="436.7" y2="357.8" stroke="#333" stroke-width="0.6"/>
<text x="438.8" y="359.5" font-size="4.9" fill="#333" textLength="23.6" lengthAdjust="spacingAndGlyphs">-0.001720</text>
<text x="225.2" y="399.6" font-size="15" font-weight="bold" fill="#000">g</text>
<g shape-rendering="crispEdges"><path fill="#55ff00" d="M258.5 404h154.3v1.8h-154.3zM258.5 405.5h154.3v1.8h-154.3zM258.5 407h154.3v1.8h-154.3zM385.4 539.7h3.7v1.8h-3.7zM393.9 539.7h2v1.8h-2zM410.8 539.7h2v1.8h-2zM385.4 541.2h12.1v1.8h-12.1zM399 541.2h2v1.8h-2zM410.8 541.2h2v1.8h-2zM383.7 542.7h2v1.8h-2zM388.8 542.7h5.4v1.8h-5.4zM395.6 542.7h8.8v1.8h-8.8zM377 544.1h2v1.8h-2zM383.7 544.1h2v1.8h-2zM397.3 544.1h2v1.8h-2zM404 544.1h2v1.8h-2zM377 545.6h2v1.8h-2zM404 545.6h2v1.8h-2zM377 547.1h2v1.8h-2zM404 547.1h3.7v1.8h-3.7zM375.3 548.6h3.7v1.8h-3.7zM407.4 548.6h2v1.8h-2zM375.3 550.1h3.7v1.8h-3.7z"/><path fill="#33ff07" d="M258.5 408.5h154.3v1.8h-154.3zM258.5 410h154.3v1.8h-154.3zM258.5 411.5h154.3v1.8h-154.3zM258.5 412.9h154.3v1.8h-154.3zM258.5 414.4h154.3v1.8h-154.3zM258.5 415.9h154.3v1.8h-154.3zM258.5 417.4h154.3v1.8h-154.3zM258.5 418.9h154.3v1.8h-154.3zM258.5 420.4h154.3v1.8h-154.3zM258.5 421.9h154.3v1.8h-154.3zM258.5 423.4h154.3v1.8h-154.3zM258.5 424.9h154.3v1.8h-154.3zM258.5 426.4h154.3v1.8h-154.3zM258.5 427.9h154.3v1.8h-154.3zM258.5 429.3h154.3v1.8h-154.3zM258.5 430.8h154.3v1.8h-154.3zM304.2 432.3h108.6v1.8h-108.6zM258.5 433.8h154.3v1.8h-154.3zM351.6 435.3h61.2v1.8h-61.2zM373.6 436.8h39.2v1.8h-39.2zM388.8 438.3h24v1.8h-24zM382 439.8h30.8v1.8h-30.8zM388.8 442.8h24v1.8h-24zM390.5 445.7h22.3v1.8h-22.3zM387.1 447.2h25.7v1.8h-25.7zM385.4 538.2h3.7v1.8h-3.7zM392.2 538.2h5.4v1.8h-5.4zM399 538.2h2v1.8h-2zM402.3 538.2h2v1.8h-2zM410.8 538.2h2v1.8h-2zM383.7 539.7h2v1.8h-2zM388.8 539.7h5.4v1.8h-5.4zM395.6 539.7h10.5v1.8h-10.5zM383.7 541.2h2v1.8h-2zM397.3 541.2h2v1.8h-2zM400.7 541.2h5.4v1.8h-5.4zM377 542.7h2v1.8h-2zM404 542.7h2v1.8h-2zM375.3 544.1h2v1.8h-2zM378.7 544.1h2v1.8h-2zM382 544.1h2v1.8h-2zM405.7 544.1h2v1.8h-2zM375.3 545.6h2v1.8h-2zM378.7 545.6h2v1.8h-2zM382 545.6h2v1.8h-2zM405.7 545.6h2v1.8h-2zM375.3 547.1h2v1.8h-2zM378.7 547.1h2v1.8h-2zM382 547.1h2v1.8h-2zM365.1 548.6h3.7v1.8h-3.7zM371.9 548.6h3.7v1.8h-3.7zM378.7 548.6h5.4v1.8h-5.4zM365.1 550.1h3.7v1.8h-3.7zM373.6 550.1h2v1.8h-2zM378.7 550.1h5.4v1.8h-5.4z"/><path fill="#15ff15" d="M258.5 432.3h46v1.8h-46zM258.5 435.3h93.4v1.8h-93.4zM258.5 436.8h115.4v1.8h-115.4zM258.5 438.3h130.6v1.8h-130.6zM258.5 439.8h123.8v1.8h-123.8zM258.5 441.3h154.3v1.8h-154.3zM258.5 442.8h130.6v1.8h-130.6zM302.5 444.3h110.3v1.8h-110.3zM290.7 445.7h100.1v1.8h-100.1zM300.8 447.2h86.6v1.8h-86.6zM334.7 448.7h78.1v1.8h-78.1zM349.9 450.2h62.9v1.8h-62.9zM348.2 451.7h64.6v1.8h-64.6zM351.6 453.2h61.2v1.8h-61.2zM365.1 454.7h47.7v1.8h-47.7zM375.3 456.2h37.5v1.8h-37.5zM375.3 457.7h37.5v1.8h-37.5zM385.4 459.2h27.4v1.8h-27.4zM385.4 460.7h27.4v1.8h-27.4zM380.3 462.1h32.5v1.8h-32.5zM368.5 463.6h44.3v1.8h-44.3zM380.3 465.1h32.5v1.8h-32.5zM383.7 466.6h29.1v1.8h-29.1zM388.8 468.1h24v1.8h-24zM407.4 469.6h5.4v1.8h-5.4zM407.4 481.5h5.4v1.8h-5.4zM410.8 483h2v1.8h-2zM407.4 487.5h5.4v1.8h-5.4zM410.8 489h2v1.8h-2zM409.1 490.5h3.7v1.8h-3.7zM410.8 494.9h2v1.8h-2zM410.8 497.9h2v1.8h-2zM410.8 500.9h2v1.8h-2zM385.4 535.2h3.7v1.8h-3.7zM392.2 535.2h5.4v1.8h-5.4zM399 535.2h2v1.8h-2zM385.4 536.7h18.9v1.8h-18.9zM410.8 536.7h2v1.8h-2zM383.7 538.2h2v1.8h-2zM388.8 538.2h3.7v1.8h-3.7zM397.3 538.2h2v1.8h-2zM400.7 538.2h2v1.8h-2zM404 538.2h2v1.8h-2zM377 539.7h2v1.8h-2zM375.3 541.2h3.7v1.8h-3.7zM365.1 542.7h3.7v1.8h-3.7zM375.3 542.7h2v1.8h-2zM378.7 542.7h2v1.8h-2zM382 542.7h2v1.8h-2zM405.7 542.7h2v1.8h-2zM365.1 544.1h10.5v1.8h-10.5zM380.3 544.1h2v1.8h-2zM365.1 545.6h10.5v1.8h-10.5zM380.3 545.6h2v1.8h-2zM365.1 547.1h10.5v1.8h-10.5zM380.3 547.1h2v1.8h-2zM363.4 548.6h2v1.8h-2zM368.5 548.6h3.7v1.8h-3.7zM363.4 550.1h2v1.8h-2zM368.5 550.1h5.4v1.8h-5.4z"/><path fill="#00ff37" d="M258.5 444.3h44.3v1.8h-44.3zM258.5 445.7h32.5v1.8h-32.5zM258.5 447.2h42.6v1.8h-42.6zM258.5 448.7h76.5v1.8h-76.5zM258.5 450.2h91.7v1.8h-91.7zM258.5 451.7h90v1.8h-90zM258.5 453.2h93.4v1.8h-93.4zM297.4 454.7h68v1.8h-68zM327.9 456.2h47.7v1.8h-47.7zM329.6 457.7h46v1.8h-46zM339.7 459.2h46v1.8h-46zM341.4 460.7h44.3v1.8h-44.3zM339.7 462.1h40.9v1.8h-40.9zM331.3 463.6h37.5v1.8h-37.5zM343.1 465.1h37.5v1.8h-37.5zM346.5 466.6h37.5v1.8h-37.5zM351.6 468.1h37.5v1.8h-37.5zM358.3 469.6h49.4v1.8h-49.4zM360 471.1h52.8v1.8h-52.8zM361.7 472.6h51.1v1.8h-51.1zM363.4 474.1h49.4v1.8h-49.4zM373.6 475.6h39.2v1.8h-39.2zM375.3 477.1h37.5v1.8h-37.5zM377 478.5h35.8v1.8h-35.8zM377 480h35.8v1.8h-35.8zM370.2 481.5h37.5v1.8h-37.5zM373.6 483h37.5v1.8h-37.5zM378.7 484.5h34.1v1.8h-34.1zM382 486h30.8v1.8h-30.8zM375.3 487.5h32.5v1.8h-32.5zM378.7 489h32.5v1.8h-32.5zM378.7 490.5h30.8v1.8h-30.8zM385.4 492h27.4v1.8h-27.4zM383.7 493.5h29.1v1.8h-29.1zM382 494.9h29.1v1.8h-29.1zM385.4 496.4h27.4v1.8h-27.4zM383.7 497.9h27.4v1.8h-27.4zM390.5 499.4h22.3v1.8h-22.3zM383.7 500.9h27.4v1.8h-27.4zM393.9 502.4h3.7v1.8h-3.7zM399 502.4h13.8v1.8h-13.8zM390.5 503.9h22.3v1.8h-22.3zM405.7 505.4h7.1v1.8h-7.1zM387.1 506.9h25.7v1.8h-25.7zM392.2 508.4h5.4v1.8h-5.4zM399 508.4h2v1.8h-2zM402.3 508.4h10.5v1.8h-10.5zM387.1 509.9h25.7v1.8h-25.7zM393.9 511.3h3.7v1.8h-3.7zM405.7 511.3h7.1v1.8h-7.1zM392.2 512.8h5.4v1.8h-5.4zM405.7 512.8h7.1v1.8h-7.1zM407.4 514.3h5.4v1.8h-5.4zM393.9 515.8h2v1.8h-2zM405.7 515.8h7.1v1.8h-7.1zM407.4 517.3h5.4v1.8h-5.4zM409.1 518.8h3.7v1.8h-3.7zM407.4 520.3h5.4v1.8h-5.4zM409.1 521.8h3.7v1.8h-3.7zM409.1 523.3h3.7v1.8h-3.7zM409.1 524.8h3.7v1.8h-3.7zM410.8 526.3h2v1.8h-2zM393.9 532.2h2v1.8h-2zM385.4 533.7h20.6v1.8h-20.6zM383.7 535.2h2v1.8h-2zM388.8 535.2h3.7v1.8h-3.7zM397.3 535.2h2v1.8h-2zM400.7 535.2h5.4v1.8h-5.4zM410.8 535.2h2v1.8h-2zM377 536.7h2v1.8h-2zM383.7 536.7h2v1.8h-2zM404 536.7h2v1.8h-2zM375.3 538.2h5.4v1.8h-5.4zM382 538.2h2v1.8h-2zM405.7 538.2h2v1.8h-2zM365.1 539.7h3.7v1.8h-3.7zM371.9 539.7h5.4v1.8h-5.4zM378.7 539.7h5.4v1.8h-5.4zM405.7 539.7h2v1.8h-2zM365.1 541.2h3.7v1.8h-3.7zM371.9 541.2h3.7v1.8h-3.7zM378.7 541.2h5.4v1.8h-5.4zM405.7 541.2h2v1.8h-2zM363.4 542.7h2v1.8h-2zM368.5 542.7h7.1v1.8h-7.1zM380.3 542.7h2v1.8h-2zM360 544.1h2v1.8h-2zM363.4 544.1h2v1.8h-2zM360 545.6h2v1.8h-2zM363.4 545.6h2v1.8h-2zM360 547.1h2v1.8h-2zM363.4 547.1h2v1.8h-2zM407.4 547.1h3.7v1.8h-3.7zM336.3 548.6h2v1.8h-2zM344.8 548.6h2v1.8h-2zM360 548.6h2v1.8h-2zM307.6 550.1h2v1.8h-2zM336.3 550.1h2v1.8h-2zM343.1 550.1h3.7v1.8h-3.7zM360 550.1h2v1.8h-2z"/><path fill="#00ff8b" d="M258.5 454.7h39.2v1.8h-39.2zM258.5 456.2h69.7v1.8h-69.7zM258.5 457.7h71.4v1.8h-71.4zM258.5 459.2h81.5v1.8h-81.5zM258.5 460.7h83.2v1.8h-83.2zM258.5 462.1h81.5v1.8h-81.5zM258.5 463.6h73.1v1.8h-73.1zM258.5 465.1h84.9v1.8h-84.9zM267 466.6h79.8v1.8h-79.8zM309.3 468.1h42.6v1.8h-42.6zM326.2 469.6h32.5v1.8h-32.5zM329.6 471.1h30.8v1.8h-30.8zM331.3 472.6h30.8v1.8h-30.8zM334.7 474.1h29.1v1.8h-29.1zM346.5 475.6h27.4v1.8h-27.4zM348.2 477.1h27.4v1.8h-27.4zM349.9 478.5h27.4v1.8h-27.4zM349.9 480h27.4v1.8h-27.4zM343.1 481.5h27.4v1.8h-27.4zM346.5 483h27.4v1.8h-27.4zM353.3 484.5h25.7v1.8h-25.7zM356.7 486h25.7v1.8h-25.7zM351.6 487.5h24v1.8h-24zM355 489h24v1.8h-24zM355 490.5h24v1.8h-24zM365.1 492h20.6v1.8h-20.6zM363.4 493.5h20.6v1.8h-20.6zM361.7 494.9h20.6v1.8h-20.6zM366.8 496.4h18.9v1.8h-18.9zM365.1 497.9h18.9v1.8h-18.9zM375.3 499.4h15.5v1.8h-15.5zM368.5 500.9h15.5v1.8h-15.5zM377 502.4h17.2v1.8h-17.2zM397.3 502.4h2v1.8h-2zM377 503.9h13.8v1.8h-13.8zM382 505.4h24v1.8h-24zM375.3 506.9h12.1v1.8h-12.1zM377 508.4h15.5v1.8h-15.5zM397.3 508.4h2v1.8h-2zM400.7 508.4h2v1.8h-2zM375.3 509.9h12.1v1.8h-12.1zM377 511.3h17.2v1.8h-17.2zM397.3 511.3h8.8v1.8h-8.8zM377 512.8h15.5v1.8h-15.5zM397.3 512.8h8.8v1.8h-8.8zM382 514.3h25.7v1.8h-25.7zM377 515.8h17.2v1.8h-17.2zM395.6 515.8h10.5v1.8h-10.5zM382 517.3h25.7v1.8h-25.7zM383.7 518.8h25.7v1.8h-25.7zM382 520.3h25.7v1.8h-25.7zM383.7 521.8h25.7v1.8h-25.7zM383.7 523.3h25.7v1.8h-25.7zM383.7 524.8h25.7v1.8h-25.7zM383.7 526.3h24v1.8h-24zM409.1 526.3h2v1.8h-2zM383.7 527.7h24v1.8h-24zM410.8 527.7h2v1.8h-2zM382 529.2h25.7v1.8h-25.7zM410.8 529.2h2v1.8h-2zM382 530.7h25.7v1.8h-25.7zM410.8 530.7h2v1.8h-2zM383.7 532.2h10.5v1.8h-10.5zM395.6 532.2h10.5v1.8h-10.5zM377 533.7h2v1.8h-2zM382 533.7h3.7v1.8h-3.7zM410.8 533.7h2v1.8h-2zM365.1 535.2h3.7v1.8h-3.7zM371.9 535.2h12.1v1.8h-12.1zM405.7 535.2h2v1.8h-2zM365.1 536.7h3.7v1.8h-3.7zM371.9 536.7h5.4v1.8h-5.4zM378.7 536.7h5.4v1.8h-5.4zM405.7 536.7h2v1.8h-2zM363.4 538.2h12.1v1.8h-12.1zM380.3 538.2h2v1.8h-2zM360 539.7h2v1.8h-2zM363.4 539.7h2v1.8h-2zM368.5 539.7h3.7v1.8h-3.7zM360 541.2h2v1.8h-2zM363.4 541.2h2v1.8h-2zM368.5 541.2h3.7v1.8h-3.7zM360 542.7h2v1.8h-2zM358.3 544.1h2v1.8h-2zM361.7 544.1h2v1.8h-2zM344.8 545.6h2v1.8h-2zM358.3 545.6h2v1.8h-2zM361.7 545.6h2v1.8h-2zM336.3 547.1h2v1.8h-2zM344.8 547.1h2v1.8h-2zM358.3 547.1h2v1.8h-2zM361.7 547.1h2v1.8h-2zM307.6 548.6h2v1.8h-2zM317.7 548.6h2v1.8h-2zM321.1 548.6h2v1.8h-2zM343.1 548.6h2v1.8h-2zM358.3 548.6h2v1.8h-2zM361.7 548.6h2v1.8h-2zM305.9 550.1h2v1.8h-2zM317.7 550.1h5.4v1.8h-5.4zM358.3 550.1h2v1.8h-2zM361.7 550.1h2v1.8h-2z"/><path fill="#00f8ce" d="M258.5 466.6h8.8v1.8h-8.8zM258.5 468.1h51.1v1.8h-51.1zM258.5 469.6h68v1.8h-68zM258.5 471.1h71.4v1.8h-71.4zM258.5 472.6h73.1v1.8h-73.1zM258.5 474.1h76.5v1.8h-76.5zM272 475.6h74.8v1.8h-74.8zM294 477.1h54.5v1.8h-54.5zM304.2 478.5h46v1.8h-46zM304.2 480h46v1.8h-46zM258.5 481.5h84.9v1.8h-84.9zM294 483h52.8v1.8h-52.8zM321.1 484.5h32.5v1.8h-32.5zM326.2 486h30.8v1.8h-30.8zM312.7 487.5h39.2v1.8h-39.2zM322.8 489h32.5v1.8h-32.5zM324.5 490.5h30.8v1.8h-30.8zM338 492h27.4v1.8h-27.4zM336.3 493.5h27.4v1.8h-27.4zM334.7 494.9h27.4v1.8h-27.4zM339.7 496.4h27.4v1.8h-27.4zM339.7 497.9h25.7v1.8h-25.7zM353.3 499.4h22.3v1.8h-22.3zM343.1 500.9h25.7v1.8h-25.7zM360 502.4h17.2v1.8h-17.2zM358.3 503.9h18.9v1.8h-18.9zM363.4 505.4h18.9v1.8h-18.9zM358.3 506.9h17.2v1.8h-17.2zM360 508.4h17.2v1.8h-17.2zM358.3 509.9h17.2v1.8h-17.2zM360 511.3h17.2v1.8h-17.2zM360 512.8h17.2v1.8h-17.2zM363.4 514.3h18.9v1.8h-18.9zM360 515.8h2v1.8h-2zM363.4 515.8h13.8v1.8h-13.8zM363.4 517.3h18.9v1.8h-18.9zM365.1 518.8h18.9v1.8h-18.9zM363.4 520.3h18.9v1.8h-18.9zM365.1 521.8h18.9v1.8h-18.9zM366.8 523.3h17.2v1.8h-17.2zM370.2 524.8h13.8v1.8h-13.8zM365.1 526.3h18.9v1.8h-18.9zM407.4 526.3h2v1.8h-2zM366.8 527.7h17.2v1.8h-17.2zM363.4 529.2h18.9v1.8h-18.9zM363.4 530.7h18.9v1.8h-18.9zM365.1 532.2h18.9v1.8h-18.9zM405.7 532.2h2v1.8h-2zM410.8 532.2h2v1.8h-2zM363.4 533.7h13.8v1.8h-13.8zM378.7 533.7h3.7v1.8h-3.7zM405.7 533.7h2v1.8h-2zM360 535.2h2v1.8h-2zM363.4 535.2h2v1.8h-2zM368.5 535.2h3.7v1.8h-3.7zM360 536.7h2v1.8h-2zM363.4 536.7h2v1.8h-2zM368.5 536.7h3.7v1.8h-3.7zM344.8 538.2h2v1.8h-2zM360 538.2h2v1.8h-2zM358.3 539.7h2v1.8h-2zM361.7 539.7h2v1.8h-2zM358.3 541.2h2v1.8h-2zM361.7 541.2h2v1.8h-2zM353.3 542.7h2v1.8h-2zM358.3 542.7h2v1.8h-2zM361.7 542.7h2v1.8h-2zM343.1 544.1h3.7v1.8h-3.7zM351.6 544.1h7.1v1.8h-7.1zM307.6 545.6h2v1.8h-2zM336.3 545.6h2v1.8h-2zM343.1 545.6h2v1.8h-2zM353.3 545.6h5.4v1.8h-5.4zM307.6 547.1h2v1.8h-2zM317.7 547.1h2v1.8h-2zM321.1 547.1h2v1.8h-2zM343.1 547.1h2v1.8h-2zM353.3 547.1h3.7v1.8h-3.7zM305.9 548.6h2v1.8h-2zM319.4 548.6h2v1.8h-2zM326.2 548.6h3.7v1.8h-3.7zM346.5 548.6h2v1.8h-2zM351.6 548.6h7.1v1.8h-7.1zM290.7 550.1h2v1.8h-2zM299.1 550.1h2v1.8h-2zM311 550.1h3.7v1.8h-3.7zM326.2 550.1h3.7v1.8h-3.7zM334.7 550.1h2v1.8h-2zM346.5 550.1h2v1.8h-2zM351.6 550.1h7.1v1.8h-7.1z"/><path fill="#00e6f3" d="M258.5 475.6h13.8v1.8h-13.8zM258.5 477.1h35.8v1.8h-35.8zM258.5 478.5h46v1.8h-46zM258.5 480h46v1.8h-46zM258.5 483h35.8v1.8h-35.8zM258.5 484.5h62.9v1.8h-62.9zM258.5 486h68v1.8h-68zM258.5 487.5h54.5v1.8h-54.5zM258.5 489h64.6v1.8h-64.6zM258.5 490.5h66.3v1.8h-66.3zM258.5 492h79.8v1.8h-79.8zM258.5 493.5h78.1v1.8h-78.1zM258.5 494.9h76.5v1.8h-76.5zM258.5 496.4h81.5v1.8h-81.5zM258.5 497.9h81.5v1.8h-81.5zM321.1 499.4h32.5v1.8h-32.5zM258.5 500.9h5.4v1.8h-5.4zM280.5 500.9h8.8v1.8h-8.8zM295.7 500.9h7.1v1.8h-7.1zM304.2 500.9h39.2v1.8h-39.2zM326.2 502.4h5.4v1.8h-5.4zM334.7 502.4h25.7v1.8h-25.7zM324.5 503.9h34.1v1.8h-34.1zM339.7 505.4h24v1.8h-24zM324.5 506.9h8.8v1.8h-8.8zM334.7 506.9h24v1.8h-24zM326.2 508.4h2v1.8h-2zM336.3 508.4h24v1.8h-24zM326.2 509.9h5.4v1.8h-5.4zM334.7 509.9h24v1.8h-24zM336.3 511.3h24v1.8h-24zM336.3 512.8h24v1.8h-24zM339.7 514.3h24v1.8h-24zM339.7 515.8h20.6v1.8h-20.6zM361.7 515.8h2v1.8h-2zM339.7 517.3h24v1.8h-24zM343.1 518.8h22.3v1.8h-22.3zM339.7 520.3h24v1.8h-24zM343.1 521.8h8.8v1.8h-8.8zM353.3 521.8h12.1v1.8h-12.1zM343.1 523.3h5.4v1.8h-5.4zM355 523.3h12.1v1.8h-12.1zM356.7 524.8h13.8v1.8h-13.8zM343.1 526.3h5.4v1.8h-5.4zM353.3 526.3h12.1v1.8h-12.1zM356.7 527.7h10.5v1.8h-10.5zM407.4 527.7h3.7v1.8h-3.7zM343.1 529.2h20.6v1.8h-20.6zM343.1 530.7h20.6v1.8h-20.6zM358.3 532.2h7.1v1.8h-7.1zM344.8 533.7h3.7v1.8h-3.7zM358.3 533.7h5.4v1.8h-5.4zM343.1 535.2h8.8v1.8h-8.8zM353.3 535.2h7.1v1.8h-7.1zM361.7 535.2h2v1.8h-2zM343.1 536.7h8.8v1.8h-8.8zM353.3 536.7h2v1.8h-2zM358.3 536.7h2v1.8h-2zM361.7 536.7h2v1.8h-2zM343.1 538.2h2v1.8h-2zM346.5 538.2h13.8v1.8h-13.8zM361.7 538.2h2v1.8h-2zM351.6 539.7h7.1v1.8h-7.1zM344.8 541.2h2v1.8h-2zM351.6 541.2h7.1v1.8h-7.1zM343.1 542.7h3.7v1.8h-3.7zM351.6 542.7h2v1.8h-2zM355 542.7h3.7v1.8h-3.7zM307.6 544.1h2v1.8h-2zM317.7 544.1h2v1.8h-2zM321.1 544.1h2v1.8h-2zM326.2 544.1h2v1.8h-2zM336.3 544.1h2v1.8h-2zM346.5 544.1h2v1.8h-2zM311 545.6h2v1.8h-2zM317.7 545.6h2v1.8h-2zM321.1 545.6h2v1.8h-2zM326.2 545.6h2v1.8h-2zM346.5 545.6h2v1.8h-2zM351.6 545.6h2v1.8h-2zM305.9 547.1h2v1.8h-2zM311 547.1h2v1.8h-2zM319.4 547.1h2v1.8h-2zM326.2 547.1h3.7v1.8h-3.7zM334.7 547.1h2v1.8h-2zM346.5 547.1h2v1.8h-2zM351.6 547.1h2v1.8h-2zM356.7 547.1h2v1.8h-2zM287.3 548.6h5.4v1.8h-5.4zM297.4 548.6h3.7v1.8h-3.7zM311 548.6h3.7v1.8h-3.7zM334.7 548.6h2v1.8h-2zM338 548.6h3.7v1.8h-3.7zM287.3 550.1h3.7v1.8h-3.7zM295.7 550.1h3.7v1.8h-3.7zM309.3 550.1h2v1.8h-2zM324.5 550.1h2v1.8h-2zM338 550.1h3.7v1.8h-3.7z"/><path fill="#00c6ff" d="M258.5 499.4h62.9v1.8h-62.9zM263.6 500.9h17.2v1.8h-17.2zM289 500.9h7.1v1.8h-7.1zM302.5 500.9h2v1.8h-2zM258.5 502.4h68v1.8h-68zM331.3 502.4h3.7v1.8h-3.7zM258.5 503.9h66.3v1.8h-66.3zM258.5 505.4h81.5v1.8h-81.5zM258.5 506.9h66.3v1.8h-66.3zM333 506.9h2v1.8h-2zM258.5 508.4h68v1.8h-68zM327.9 508.4h8.8v1.8h-8.8zM258.5 509.9h68v1.8h-68zM331.3 509.9h3.7v1.8h-3.7zM258.5 511.3h8.8v1.8h-8.8zM268.7 511.3h7.1v1.8h-7.1zM278.8 511.3h57.8v1.8h-57.8zM258.5 512.8h8.8v1.8h-8.8zM268.7 512.8h5.4v1.8h-5.4zM278.8 512.8h13.8v1.8h-13.8zM294 512.8h42.6v1.8h-42.6zM258.5 514.3h5.4v1.8h-5.4zM280.5 514.3h8.8v1.8h-8.8zM305.9 514.3h34.1v1.8h-34.1zM258.5 515.8h7.1v1.8h-7.1zM280.5 515.8h10.5v1.8h-10.5zM295.7 515.8h7.1v1.8h-7.1zM304.2 515.8h35.8v1.8h-35.8zM258.5 517.3h5.4v1.8h-5.4zM280.5 517.3h8.8v1.8h-8.8zM305.9 517.3h34.1v1.8h-34.1zM260.2 518.8h2v1.8h-2zM283.9 518.8h2v1.8h-2zM311 518.8h2v1.8h-2zM321.1 518.8h22.3v1.8h-22.3zM258.5 520.3h5.4v1.8h-5.4zM282.2 520.3h7.1v1.8h-7.1zM307.6 520.3h7.1v1.8h-7.1zM317.7 520.3h2v1.8h-2zM321.1 520.3h18.9v1.8h-18.9zM321.1 521.8h22.3v1.8h-22.3zM351.6 521.8h2v1.8h-2zM324.5 523.3h7.1v1.8h-7.1zM334.7 523.3h8.8v1.8h-8.8zM348.2 523.3h7.1v1.8h-7.1zM326.2 524.8h5.4v1.8h-5.4zM336.3 524.8h20.6v1.8h-20.6zM324.5 526.3h7.1v1.8h-7.1zM334.7 526.3h8.8v1.8h-8.8zM348.2 526.3h5.4v1.8h-5.4zM336.3 527.7h20.6v1.8h-20.6zM324.5 529.2h8.8v1.8h-8.8zM334.7 529.2h8.8v1.8h-8.8zM407.4 529.2h2v1.8h-2zM324.5 530.7h7.1v1.8h-7.1zM334.7 530.7h8.8v1.8h-8.8zM339.7 532.2h18.9v1.8h-18.9zM339.7 533.7h5.4v1.8h-5.4zM348.2 533.7h10.5v1.8h-10.5zM339.7 535.2h3.7v1.8h-3.7zM351.6 535.2h2v1.8h-2zM339.7 536.7h3.7v1.8h-3.7zM351.6 536.7h2v1.8h-2zM355 536.7h3.7v1.8h-3.7zM339.7 538.2h3.7v1.8h-3.7zM343.1 539.7h5.4v1.8h-5.4zM311 541.2h2v1.8h-2zM321.1 541.2h2v1.8h-2zM343.1 541.2h2v1.8h-2zM346.5 541.2h2v1.8h-2zM287.3 542.7h2v1.8h-2zM307.6 542.7h2v1.8h-2zM311 542.7h2v1.8h-2zM317.7 542.7h2v1.8h-2zM321.1 542.7h2v1.8h-2zM326.2 542.7h2v1.8h-2zM336.3 542.7h2v1.8h-2zM339.7 542.7h2v1.8h-2zM346.5 542.7h2v1.8h-2zM287.3 544.1h2v1.8h-2zM295.7 544.1h5.4v1.8h-5.4zM305.9 544.1h2v1.8h-2zM311 544.1h3.7v1.8h-3.7zM319.4 544.1h2v1.8h-2zM324.5 544.1h2v1.8h-2zM327.9 544.1h2v1.8h-2zM334.7 544.1h2v1.8h-2zM339.7 544.1h2v1.8h-2zM287.3 545.6h5.4v1.8h-5.4zM295.7 545.6h5.4v1.8h-5.4zM305.9 545.6h2v1.8h-2zM312.7 545.6h2v1.8h-2zM319.4 545.6h2v1.8h-2zM324.5 545.6h2v1.8h-2zM327.9 545.6h2v1.8h-2zM334.7 545.6h2v1.8h-2zM338 545.6h3.7v1.8h-3.7zM407.4 545.6h3.7v1.8h-3.7zM287.3 547.1h5.4v1.8h-5.4zM295.7 547.1h5.4v1.8h-5.4zM309.3 547.1h2v1.8h-2zM312.7 547.1h2v1.8h-2zM322.8 547.1h3.7v1.8h-3.7zM329.6 547.1h2v1.8h-2zM338 547.1h3.7v1.8h-3.7zM348.2 547.1h2v1.8h-2zM282.2 548.6h2v1.8h-2zM295.7 548.6h2v1.8h-2zM309.3 548.6h2v1.8h-2zM314.3 548.6h2v1.8h-2zM322.8 548.6h3.7v1.8h-3.7zM329.6 548.6h2v1.8h-2zM341.4 548.6h2v1.8h-2zM348.2 548.6h2v1.8h-2zM282.2 550.1h2v1.8h-2zM314.3 550.1h2v1.8h-2zM322.8 550.1h2v1.8h-2zM329.6 550.1h2v1.8h-2zM341.4 550.1h2v1.8h-2zM348.2 550.1h2v1.8h-2z"/><path fill="#00a0ff" d="M267 511.3h2v1.8h-2zM275.4 511.3h3.7v1.8h-3.7zM267 512.8h2v1.8h-2zM273.7 512.8h5.4v1.8h-5.4zM292.3 512.8h2v1.8h-2zM263.6 514.3h17.2v1.8h-17.2zM289 514.3h17.2v1.8h-17.2zM265.3 515.8h15.5v1.8h-15.5zM290.7 515.8h5.4v1.8h-5.4zM302.5 515.8h2v1.8h-2zM263.6 517.3h17.2v1.8h-17.2zM289 517.3h17.2v1.8h-17.2zM258.5 518.8h2v1.8h-2zM261.9 518.8h22.3v1.8h-22.3zM285.6 518.8h25.7v1.8h-25.7zM312.7 518.8h8.8v1.8h-8.8zM263.6 520.3h18.9v1.8h-18.9zM289 520.3h18.9v1.8h-18.9zM314.3 520.3h3.7v1.8h-3.7zM319.4 520.3h2v1.8h-2zM258.5 521.8h62.9v1.8h-62.9zM258.5 523.3h8.8v1.8h-8.8zM268.7 523.3h3.7v1.8h-3.7zM278.8 523.3h13.8v1.8h-13.8zM294 523.3h30.8v1.8h-30.8zM331.3 523.3h3.7v1.8h-3.7zM258.5 524.8h7.1v1.8h-7.1zM280.5 524.8h10.5v1.8h-10.5zM295.7 524.8h7.1v1.8h-7.1zM304.2 524.8h22.3v1.8h-22.3zM331.3 524.8h5.4v1.8h-5.4zM258.5 526.3h7.1v1.8h-7.1zM268.7 526.3h3.7v1.8h-3.7zM280.5 526.3h10.5v1.8h-10.5zM294 526.3h30.8v1.8h-30.8zM331.3 526.3h3.7v1.8h-3.7zM258.5 527.7h5.4v1.8h-5.4zM280.5 527.7h8.8v1.8h-8.8zM305.9 527.7h30.8v1.8h-30.8zM258.5 529.2h7.1v1.8h-7.1zM268.7 529.2h2v1.8h-2zM280.5 529.2h12.1v1.8h-12.1zM294 529.2h30.8v1.8h-30.8zM333 529.2h2v1.8h-2zM409.1 529.2h2v1.8h-2zM258.5 530.7h7.1v1.8h-7.1zM280.5 530.7h10.5v1.8h-10.5zM295.7 530.7h7.1v1.8h-7.1zM304.2 530.7h20.6v1.8h-20.6zM331.3 530.7h3.7v1.8h-3.7zM282.2 532.2h2v1.8h-2zM287.3 532.2h2v1.8h-2zM311 532.2h3.7v1.8h-3.7zM317.7 532.2h2v1.8h-2zM321.1 532.2h18.9v1.8h-18.9zM311 533.7h2v1.8h-2zM321.1 533.7h18.9v1.8h-18.9zM311 535.2h2v1.8h-2zM321.1 535.2h12.1v1.8h-12.1zM334.7 535.2h5.4v1.8h-5.4zM336.3 536.7h3.7v1.8h-3.7zM336.3 538.2h3.7v1.8h-3.7zM282.2 539.7h3.7v1.8h-3.7zM287.3 539.7h2v1.8h-2zM295.7 539.7h2v1.8h-2zM299.1 539.7h2v1.8h-2zM307.6 539.7h2v1.8h-2zM311 539.7h2v1.8h-2zM317.7 539.7h2v1.8h-2zM321.1 539.7h8.8v1.8h-8.8zM336.3 539.7h2v1.8h-2zM339.7 539.7h2v1.8h-2zM348.2 539.7h3.7v1.8h-3.7zM282.2 541.2h2v1.8h-2zM287.3 541.2h2v1.8h-2zM295.7 541.2h5.4v1.8h-5.4zM307.6 541.2h2v1.8h-2zM312.7 541.2h2v1.8h-2zM317.7 541.2h2v1.8h-2zM322.8 541.2h8.8v1.8h-8.8zM336.3 541.2h2v1.8h-2zM339.7 541.2h2v1.8h-2zM348.2 541.2h2v1.8h-2zM282.2 542.7h3.7v1.8h-3.7zM289 542.7h2v1.8h-2zM295.7 542.7h5.4v1.8h-5.4zM305.9 542.7h2v1.8h-2zM312.7 542.7h2v1.8h-2zM319.4 542.7h2v1.8h-2zM322.8 542.7h3.7v1.8h-3.7zM327.9 542.7h3.7v1.8h-3.7zM334.7 542.7h2v1.8h-2zM338 542.7h2v1.8h-2zM341.4 542.7h2v1.8h-2zM348.2 542.7h3.7v1.8h-3.7zM407.4 542.7h2v1.8h-2zM282.2 544.1h5.4v1.8h-5.4zM289 544.1h3.7v1.8h-3.7zM300.8 544.1h2v1.8h-2zM309.3 544.1h2v1.8h-2zM314.3 544.1h2v1.8h-2zM322.8 544.1h2v1.8h-2zM329.6 544.1h2v1.8h-2zM338 544.1h2v1.8h-2zM341.4 544.1h2v1.8h-2zM348.2 544.1h3.7v1.8h-3.7zM407.4 544.1h3.7v1.8h-3.7zM282.2 545.6h5.4v1.8h-5.4zM300.8 545.6h2v1.8h-2zM309.3 545.6h2v1.8h-2zM314.3 545.6h2v1.8h-2zM322.8 545.6h2v1.8h-2zM329.6 545.6h2v1.8h-2zM341.4 545.6h2v1.8h-2zM348.2 545.6h3.7v1.8h-3.7zM282.2 547.1h5.4v1.8h-5.4zM300.8 547.1h2v1.8h-2zM314.3 547.1h3.7v1.8h-3.7zM341.4 547.1h2v1.8h-2zM349.9 547.1h2v1.8h-2zM280.5 548.6h2v1.8h-2zM283.9 548.6h3.7v1.8h-3.7zM292.3 548.6h3.7v1.8h-3.7zM300.8 548.6h2v1.8h-2zM304.2 548.6h2v1.8h-2zM316 548.6h2v1.8h-2zM349.9 548.6h2v1.8h-2zM280.5 550.1h2v1.8h-2zM283.9 550.1h3.7v1.8h-3.7zM292.3 550.1h3.7v1.8h-3.7zM300.8 550.1h2v1.8h-2zM304.2 550.1h2v1.8h-2zM316 550.1h2v1.8h-2zM349.9 550.1h2v1.8h-2z"/><path fill="#0078ff" d="M267 523.3h2v1.8h-2zM272 523.3h7.1v1.8h-7.1zM292.3 523.3h2v1.8h-2zM265.3 524.8h15.5v1.8h-15.5zM290.7 524.8h5.4v1.8h-5.4zM302.5 524.8h2v1.8h-2zM265.3 526.3h3.7v1.8h-3.7zM272 526.3h8.8v1.8h-8.8zM290.7 526.3h3.7v1.8h-3.7zM263.6 527.7h17.2v1.8h-17.2zM289 527.7h17.2v1.8h-17.2zM265.3 529.2h3.7v1.8h-3.7zM270.3 529.2h10.5v1.8h-10.5zM292.3 529.2h2v1.8h-2zM265.3 530.7h15.5v1.8h-15.5zM290.7 530.7h5.4v1.8h-5.4zM302.5 530.7h2v1.8h-2zM407.4 530.7h2v1.8h-2zM258.5 532.2h24v1.8h-24zM283.9 532.2h3.7v1.8h-3.7zM289 532.2h22.3v1.8h-22.3zM314.3 532.2h3.7v1.8h-3.7zM319.4 532.2h2v1.8h-2zM258.5 533.7h7.1v1.8h-7.1zM268.7 533.7h3.7v1.8h-3.7zM280.5 533.7h10.5v1.8h-10.5zM294 533.7h8.8v1.8h-8.8zM304.2 533.7h7.1v1.8h-7.1zM312.7 533.7h8.8v1.8h-8.8zM260.2 535.2h3.7v1.8h-3.7zM280.5 535.2h8.8v1.8h-8.8zM295.7 535.2h7.1v1.8h-7.1zM305.9 535.2h5.4v1.8h-5.4zM312.7 535.2h8.8v1.8h-8.8zM333 535.2h2v1.8h-2zM311 536.7h2v1.8h-2zM317.7 536.7h2v1.8h-2zM321.1 536.7h15.5v1.8h-15.5zM311 538.2h2v1.8h-2zM321.1 538.2h12.1v1.8h-12.1zM334.7 538.2h2v1.8h-2zM280.5 539.7h2v1.8h-2zM285.6 539.7h2v1.8h-2zM289 539.7h2v1.8h-2zM294 539.7h2v1.8h-2zM297.4 539.7h2v1.8h-2zM300.8 539.7h2v1.8h-2zM305.9 539.7h2v1.8h-2zM309.3 539.7h2v1.8h-2zM312.7 539.7h5.4v1.8h-5.4zM319.4 539.7h2v1.8h-2zM329.6 539.7h2v1.8h-2zM334.7 539.7h2v1.8h-2zM338 539.7h2v1.8h-2zM341.4 539.7h2v1.8h-2zM407.4 539.7h2v1.8h-2zM280.5 541.2h2v1.8h-2zM283.9 541.2h3.7v1.8h-3.7zM289 541.2h3.7v1.8h-3.7zM300.8 541.2h2v1.8h-2zM305.9 541.2h2v1.8h-2zM309.3 541.2h2v1.8h-2zM314.3 541.2h2v1.8h-2zM319.4 541.2h2v1.8h-2zM334.7 541.2h2v1.8h-2zM338 541.2h2v1.8h-2zM341.4 541.2h2v1.8h-2zM349.9 541.2h2v1.8h-2zM407.4 541.2h3.7v1.8h-3.7zM280.5 542.7h2v1.8h-2zM285.6 542.7h2v1.8h-2zM290.7 542.7h2v1.8h-2zM294 542.7h2v1.8h-2zM300.8 542.7h2v1.8h-2zM309.3 542.7h2v1.8h-2zM314.3 542.7h3.7v1.8h-3.7zM409.1 542.7h2v1.8h-2zM280.5 544.1h2v1.8h-2zM292.3 544.1h3.7v1.8h-3.7zM304.2 544.1h2v1.8h-2zM316 544.1h2v1.8h-2zM331.3 544.1h2v1.8h-2zM280.5 545.6h2v1.8h-2zM292.3 545.6h3.7v1.8h-3.7zM304.2 545.6h2v1.8h-2zM316 545.6h2v1.8h-2zM331.3 545.6h2v1.8h-2zM280.5 547.1h2v1.8h-2zM292.3 547.1h3.7v1.8h-3.7zM304.2 547.1h2v1.8h-2zM331.3 547.1h3.7v1.8h-3.7zM331.3 548.6h3.7v1.8h-3.7zM302.5 550.1h2v1.8h-2zM331.3 550.1h3.7v1.8h-3.7z"/><path fill="#0050ff" d="M409.1 530.7h2v1.8h-2zM265.3 533.7h3.7v1.8h-3.7zM272 533.7h8.8v1.8h-8.8zM290.7 533.7h3.7v1.8h-3.7zM302.5 533.7h2v1.8h-2zM258.5 535.2h2v1.8h-2zM263.6 535.2h17.2v1.8h-17.2zM289 535.2h7.1v1.8h-7.1zM302.5 535.2h3.7v1.8h-3.7zM260.2 536.7h3.7v1.8h-3.7zM282.2 536.7h7.1v1.8h-7.1zM295.7 536.7h7.1v1.8h-7.1zM305.9 536.7h5.4v1.8h-5.4zM312.7 536.7h5.4v1.8h-5.4zM319.4 536.7h2v1.8h-2zM407.4 536.7h2v1.8h-2zM282.2 538.2h3.7v1.8h-3.7zM287.3 538.2h2v1.8h-2zM295.7 538.2h2v1.8h-2zM299.1 538.2h2v1.8h-2zM307.6 538.2h2v1.8h-2zM312.7 538.2h2v1.8h-2zM317.7 538.2h2v1.8h-2zM333 538.2h2v1.8h-2zM407.4 538.2h3.7v1.8h-3.7zM290.7 539.7h3.7v1.8h-3.7zM302.5 539.7h3.7v1.8h-3.7zM331.3 539.7h3.7v1.8h-3.7zM409.1 539.7h2v1.8h-2zM292.3 541.2h3.7v1.8h-3.7zM304.2 541.2h2v1.8h-2zM316 541.2h2v1.8h-2zM331.3 541.2h3.7v1.8h-3.7zM292.3 542.7h2v1.8h-2zM302.5 542.7h3.7v1.8h-3.7zM331.3 542.7h3.7v1.8h-3.7zM302.5 544.1h2v1.8h-2zM333 544.1h2v1.8h-2zM302.5 545.6h2v1.8h-2zM333 545.6h2v1.8h-2zM302.5 547.1h2v1.8h-2zM302.5 548.6h2v1.8h-2z"/><path fill="#0830ff" d="M407.4 532.2h2v1.8h-2zM407.4 533.7h2v1.8h-2zM407.4 535.2h2v1.8h-2zM258.5 536.7h2v1.8h-2zM263.6 536.7h2v1.8h-2zM268.7 536.7h8.8v1.8h-8.8zM280.5 536.7h2v1.8h-2zM289 536.7h7.1v1.8h-7.1zM302.5 536.7h3.7v1.8h-3.7zM409.1 536.7h2v1.8h-2zM258.5 538.2h5.4v1.8h-5.4zM280.5 538.2h2v1.8h-2zM285.6 538.2h2v1.8h-2zM289 538.2h2v1.8h-2zM294 538.2h2v1.8h-2zM297.4 538.2h2v1.8h-2zM300.8 538.2h2v1.8h-2zM304.2 538.2h3.7v1.8h-3.7zM309.3 538.2h2v1.8h-2zM314.3 538.2h3.7v1.8h-3.7zM319.4 538.2h2v1.8h-2zM260.2 539.7h3.7v1.8h-3.7zM260.2 541.2h3.7v1.8h-3.7zM302.5 541.2h2v1.8h-2zM260.2 542.7h2v1.8h-2zM260.2 544.1h2v1.8h-2z"/><path fill="#1515ff" d="M409.1 532.2h2v1.8h-2zM409.1 533.7h2v1.8h-2zM409.1 535.2h2v1.8h-2zM265.3 536.7h3.7v1.8h-3.7zM277.1 536.7h3.7v1.8h-3.7zM263.6 538.2h3.7v1.8h-3.7zM268.7 538.2h12.1v1.8h-12.1zM290.7 538.2h3.7v1.8h-3.7zM302.5 538.2h2v1.8h-2zM258.5 539.7h2v1.8h-2zM263.6 539.7h2v1.8h-2zM268.7 539.7h8.8v1.8h-8.8zM278.8 539.7h2v1.8h-2zM258.5 541.2h2v1.8h-2zM263.6 541.2h2v1.8h-2zM268.7 541.2h3.7v1.8h-3.7zM275.4 541.2h2v1.8h-2zM278.8 541.2h2v1.8h-2zM258.5 542.7h2v1.8h-2zM261.9 542.7h2v1.8h-2zM278.8 542.7h2v1.8h-2zM258.5 544.1h2v1.8h-2zM261.9 544.1h2v1.8h-2zM278.8 544.1h2v1.8h-2zM260.2 545.6h2v1.8h-2zM278.8 545.6h2v1.8h-2zM260.2 547.1h2v1.8h-2zM260.2 548.6h2v1.8h-2zM278.8 548.6h2v1.8h-2zM258.5 550.1h5.4v1.8h-5.4zM278.8 550.1h2v1.8h-2z"/><path fill="#2500fc" d="M267 538.2h2v1.8h-2zM265.3 539.7h3.7v1.8h-3.7zM277.1 539.7h2v1.8h-2zM265.3 541.2h2v1.8h-2zM272 541.2h3.7v1.8h-3.7zM277.1 541.2h2v1.8h-2zM263.6 542.7h2v1.8h-2zM268.7 542.7h10.5v1.8h-10.5zM263.6 544.1h2v1.8h-2zM268.7 544.1h10.5v1.8h-10.5zM258.5 545.6h2v1.8h-2zM261.9 545.6h2v1.8h-2zM275.4 545.6h3.7v1.8h-3.7zM258.5 547.1h2v1.8h-2zM261.9 547.1h2v1.8h-2zM275.4 547.1h5.4v1.8h-5.4zM258.5 548.6h2v1.8h-2zM261.9 548.6h2v1.8h-2zM275.4 548.6h3.7v1.8h-3.7zM268.7 550.1h10.5v1.8h-10.5z"/><path fill="#4000f0" d="M267 541.2h2v1.8h-2zM265.3 542.7h3.7v1.8h-3.7zM265.3 544.1h2v1.8h-2zM263.6 545.6h2v1.8h-2zM268.7 545.6h7.1v1.8h-7.1zM263.6 547.1h2v1.8h-2zM268.7 547.1h7.1v1.8h-7.1zM263.6 548.6h2v1.8h-2zM268.7 548.6h7.1v1.8h-7.1zM263.6 550.1h2v1.8h-2z"/><path fill="#7aff00" d="M385.4 542.7h3.7v1.8h-3.7zM393.9 542.7h2v1.8h-2zM410.8 542.7h2v1.8h-2zM388.8 544.1h5.4v1.8h-5.4zM395.6 544.1h2v1.8h-2zM399 544.1h5.4v1.8h-5.4zM410.8 544.1h2v1.8h-2zM383.7 545.6h2v1.8h-2zM388.8 545.6h5.4v1.8h-5.4zM395.6 545.6h8.8v1.8h-8.8zM383.7 547.1h2v1.8h-2zM388.8 547.1h3.7v1.8h-3.7zM395.6 547.1h8.8v1.8h-8.8zM383.7 548.6h2v1.8h-2zM397.3 548.6h2v1.8h-2zM400.7 548.6h7.1v1.8h-7.1zM409.1 548.6h2v1.8h-2zM383.7 550.1h2v1.8h-2zM397.3 550.1h2v1.8h-2zM400.7 550.1h7.1v1.8h-7.1z"/><path fill="#5b00e3" d="M267 544.1h2v1.8h-2zM265.3 545.6h2v1.8h-2zM265.3 548.6h2v1.8h-2zM265.3 550.1h3.7v1.8h-3.7z"/><path fill="#9fff00" d="M385.4 544.1h3.7v1.8h-3.7zM393.9 544.1h2v1.8h-2zM385.4 545.6h3.7v1.8h-3.7zM393.9 545.6h2v1.8h-2zM410.8 545.6h2v1.8h-2zM385.4 547.1h3.7v1.8h-3.7zM392.2 547.1h3.7v1.8h-3.7zM385.4 548.6h2v1.8h-2zM388.8 548.6h8.8v1.8h-8.8zM399 548.6h2v1.8h-2zM385.4 550.1h2v1.8h-2zM388.8 550.1h8.8v1.8h-8.8zM399 550.1h2v1.8h-2zM407.4 550.1h2v1.8h-2z"/><path fill="#6400cc" d="M267 545.6h2v1.8h-2zM265.3 547.1h3.7v1.8h-3.7zM267 548.6h2v1.8h-2z"/><path fill="#c5ff00" d="M410.8 547.1h2v1.8h-2zM387.1 548.6h2v1.8h-2zM387.1 550.1h2v1.8h-2zM409.1 550.1h2v1.8h-2z"/><path fill="#e3ff00" d="M410.8 548.6h2v1.8h-2z"/><path fill="#faff00" d="M410.8 550.1h2v1.8h-2z"/></g>
<text x="265.3" y="484" font-size="14.2" font-weight="bold" fill="#fff" textLength="51.5" lengthAdjust="spacingAndGlyphs">440 nm</text>
<line x1="269.9" y1="490" x2="269.9" y2="551.1" stroke="#fff" stroke-width="1.7" stroke-dasharray="7 6.2"/>
<rect x="258.5" y="404" width="154" height="147.6" fill="none" stroke="#222" stroke-width="1"/>
<line x1="258.5" y1="540.3" x2="261.5" y2="540.3" stroke="#111" stroke-width="0.9"/>
<text x="255.1" y="542.7" font-size="8.4" text-anchor="end" fill="#262626">0.1</text>
<line x1="258.5" y1="511.6" x2="261.5" y2="511.6" stroke="#111" stroke-width="0.9"/>
<text x="255.1" y="514" font-size="8.4" text-anchor="end" fill="#262626">1</text>
<line x1="258.5" y1="482.8" x2="261.5" y2="482.8" stroke="#111" stroke-width="0.9"/>
<text x="255.1" y="485.2" font-size="8.4" text-anchor="end" fill="#262626">10</text>
<line x1="258.5" y1="454.1" x2="261.5" y2="454.1" stroke="#111" stroke-width="0.9"/>
<text x="255.1" y="456.4" font-size="8.4" text-anchor="end" fill="#262626">100</text>
<line x1="258.5" y1="425.3" x2="261.5" y2="425.3" stroke="#111" stroke-width="0.9"/>
<text x="255.1" y="427.7" font-size="8.4" text-anchor="end" fill="#262626">1000</text>
<line x1="258.5" y1="549" x2="260.2" y2="549" stroke="#111" stroke-width="0.7"/>
<line x1="258.5" y1="546.7" x2="260.2" y2="546.7" stroke="#111" stroke-width="0.7"/>
<line x1="258.5" y1="544.8" x2="260.2" y2="544.8" stroke="#111" stroke-width="0.7"/>
<line x1="258.5" y1="543.1" x2="260.2" y2="543.1" stroke="#111" stroke-width="0.7"/>
<line x1="258.5" y1="541.6" x2="260.2" y2="541.6" stroke="#111" stroke-width="0.7"/>
<line x1="258.5" y1="531.6" x2="260.2" y2="531.6" stroke="#111" stroke-width="0.7"/>
<line x1="258.5" y1="526.6" x2="260.2" y2="526.6" stroke="#111" stroke-width="0.7"/>
<line x1="258.5" y1="523" x2="260.2" y2="523" stroke="#111" stroke-width="0.7"/>
<line x1="258.5" y1="520.2" x2="260.2" y2="520.2" stroke="#111" stroke-width="0.7"/>
<line x1="258.5" y1="517.9" x2="260.2" y2="517.9" stroke="#111" stroke-width="0.7"/>
<line x1="258.5" y1="516" x2="260.2" y2="516" stroke="#111" stroke-width="0.7"/>
<line x1="258.5" y1="514.3" x2="260.2" y2="514.3" stroke="#111" stroke-width="0.7"/>
<line x1="258.5" y1="512.9" x2="260.2" y2="512.9" stroke="#111" stroke-width="0.7"/>
<line x1="258.5" y1="502.9" x2="260.2" y2="502.9" stroke="#111" stroke-width="0.7"/>
<line x1="258.5" y1="497.8" x2="260.2" y2="497.8" stroke="#111" stroke-width="0.7"/>
<line x1="258.5" y1="494.2" x2="260.2" y2="494.2" stroke="#111" stroke-width="0.7"/>
<line x1="258.5" y1="491.5" x2="260.2" y2="491.5" stroke="#111" stroke-width="0.7"/>
<line x1="258.5" y1="489.2" x2="260.2" y2="489.2" stroke="#111" stroke-width="0.7"/>
<line x1="258.5" y1="487.3" x2="260.2" y2="487.3" stroke="#111" stroke-width="0.7"/>
<line x1="258.5" y1="485.6" x2="260.2" y2="485.6" stroke="#111" stroke-width="0.7"/>
<line x1="258.5" y1="484.1" x2="260.2" y2="484.1" stroke="#111" stroke-width="0.7"/>
<line x1="258.5" y1="474.1" x2="260.2" y2="474.1" stroke="#111" stroke-width="0.7"/>
<line x1="258.5" y1="469.1" x2="260.2" y2="469.1" stroke="#111" stroke-width="0.7"/>
<line x1="258.5" y1="465.5" x2="260.2" y2="465.5" stroke="#111" stroke-width="0.7"/>
<line x1="258.5" y1="462.7" x2="260.2" y2="462.7" stroke="#111" stroke-width="0.7"/>
<line x1="258.5" y1="460.4" x2="260.2" y2="460.4" stroke="#111" stroke-width="0.7"/>
<line x1="258.5" y1="458.5" x2="260.2" y2="458.5" stroke="#111" stroke-width="0.7"/>
<line x1="258.5" y1="456.8" x2="260.2" y2="456.8" stroke="#111" stroke-width="0.7"/>
<line x1="258.5" y1="455.4" x2="260.2" y2="455.4" stroke="#111" stroke-width="0.7"/>
<line x1="258.5" y1="445.4" x2="260.2" y2="445.4" stroke="#111" stroke-width="0.7"/>
<line x1="258.5" y1="440.3" x2="260.2" y2="440.3" stroke="#111" stroke-width="0.7"/>
<line x1="258.5" y1="436.7" x2="260.2" y2="436.7" stroke="#111" stroke-width="0.7"/>
<line x1="258.5" y1="434" x2="260.2" y2="434" stroke="#111" stroke-width="0.7"/>
<line x1="258.5" y1="431.7" x2="260.2" y2="431.7" stroke="#111" stroke-width="0.7"/>
<line x1="258.5" y1="429.8" x2="260.2" y2="429.8" stroke="#111" stroke-width="0.7"/>
<line x1="258.5" y1="428.1" x2="260.2" y2="428.1" stroke="#111" stroke-width="0.7"/>
<line x1="258.5" y1="426.6" x2="260.2" y2="426.6" stroke="#111" stroke-width="0.7"/>
<line x1="258.5" y1="416.6" x2="260.2" y2="416.6" stroke="#111" stroke-width="0.7"/>
<line x1="258.5" y1="411.6" x2="260.2" y2="411.6" stroke="#111" stroke-width="0.7"/>
<line x1="258.5" y1="408" x2="260.2" y2="408" stroke="#111" stroke-width="0.7"/>
<line x1="258.5" y1="405.2" x2="260.2" y2="405.2" stroke="#111" stroke-width="0.7"/>
<line x1="277" y1="551.6" x2="277" y2="548.6" stroke="#111" stroke-width="0.9"/>
<text x="277" y="561.6" font-size="8.4" text-anchor="middle" fill="#262626">450</text>
<line x1="299.5" y1="551.6" x2="299.5" y2="548.6" stroke="#111" stroke-width="0.9"/>
<text x="299.5" y="561.6" font-size="8.4" text-anchor="middle" fill="#262626">500</text>
<line x1="322" y1="551.6" x2="322" y2="548.6" stroke="#111" stroke-width="0.9"/>
<text x="322" y="561.6" font-size="8.4" text-anchor="middle" fill="#262626">550</text>
<line x1="344.5" y1="551.6" x2="344.5" y2="548.6" stroke="#111" stroke-width="0.9"/>
<text x="344.5" y="561.6" font-size="8.4" text-anchor="middle" fill="#262626">600</text>
<line x1="367" y1="551.6" x2="367" y2="548.6" stroke="#111" stroke-width="0.9"/>
<text x="367" y="561.6" font-size="8.4" text-anchor="middle" fill="#262626">650</text>
<line x1="389.5" y1="551.6" x2="389.5" y2="548.6" stroke="#111" stroke-width="0.9"/>
<text x="389.5" y="561.6" font-size="8.4" text-anchor="middle" fill="#262626">700</text>
<line x1="412" y1="551.6" x2="412" y2="548.6" stroke="#111" stroke-width="0.9"/>
<text x="412" y="561.6" font-size="8.4" text-anchor="middle" fill="#262626">750</text>
<line x1="265.8" y1="551.6" x2="265.8" y2="549.8" stroke="#111" stroke-width="0.7"/>
<line x1="288.2" y1="551.6" x2="288.2" y2="549.8" stroke="#111" stroke-width="0.7"/>
<line x1="310.8" y1="551.6" x2="310.8" y2="549.8" stroke="#111" stroke-width="0.7"/>
<line x1="333.2" y1="551.6" x2="333.2" y2="549.8" stroke="#111" stroke-width="0.7"/>
<line x1="355.8" y1="551.6" x2="355.8" y2="549.8" stroke="#111" stroke-width="0.7"/>
<line x1="378.2" y1="551.6" x2="378.2" y2="549.8" stroke="#111" stroke-width="0.7"/>
<line x1="400.8" y1="551.6" x2="400.8" y2="549.8" stroke="#111" stroke-width="0.7"/>
<text x="335.8" y="578.8" font-size="10.6" text-anchor="middle" fill="#262626" textLength="88.5" lengthAdjust="spacingAndGlyphs">Wavelength (nm)</text>
<text transform="translate(233.6 478.3) rotate(-90)" font-size="10.6" text-anchor="middle" textLength="76.6" lengthAdjust="spacingAndGlyphs" fill="#262626">Delay time (ps)</text>
<rect x="425.4" y="403.3" width="12" height="148" fill="#fff" stroke="#333" stroke-width="0.7"/>
<g shape-rendering="crispEdges"><rect x="425.8" y="406.3" width="11.3" height="4" fill="#5c0000"/><rect x="425.8" y="409.9" width="11.3" height="4" fill="#730000"/><rect x="425.8" y="413.4" width="11.3" height="4" fill="#8b0000"/><rect x="425.8" y="417" width="11.3" height="4" fill="#a30000"/><rect x="425.8" y="420.5" width="11.3" height="4" fill="#bd0000"/><rect x="425.8" y="424.1" width="11.3" height="4" fill="#d80000"/><rect x="425.8" y="427.6" width="11.3" height="4" fill="#f20000"/><rect x="425.8" y="431.2" width="11.3" height="4" fill="#ff0000"/><rect x="425.8" y="434.7" width="11.3" height="4" fill="#ff0000"/><rect x="425.8" y="438.3" width="11.3" height="4" fill="#ff0000"/><rect x="425.8" y="441.9" width="11.3" height="4" fill="#ff0000"/><rect x="425.8" y="445.4" width="11.3" height="4" fill="#ff0000"/><rect x="425.8" y="449" width="11.3" height="4" fill="#ff0000"/><rect x="425.8" y="452.5" width="11.3" height="4" fill="#ff0700"/><rect x="425.8" y="456.1" width="11.3" height="4" fill="#ff4600"/><rect x="425.8" y="459.6" width="11.3" height="4" fill="#ff7400"/><rect x="425.8" y="463.2" width="11.3" height="4" fill="#ffa100"/><rect x="425.8" y="466.7" width="11.3" height="4" fill="#ffca00"/><rect x="425.8" y="470.3" width="11.3" height="4" fill="#ffee00"/><rect x="425.8" y="473.8" width="11.3" height="4" fill="#f1ff00"/><rect x="425.8" y="477.4" width="11.3" height="4" fill="#d4ff00"/><rect x="425.8" y="481" width="11.3" height="4" fill="#a7ff00"/><rect x="425.8" y="484.5" width="11.3" height="4" fill="#7aff00"/><rect x="425.8" y="488.1" width="11.3" height="4" fill="#4dff00"/><rect x="425.8" y="491.6" width="11.3" height="4" fill="#27ff0c"/><rect x="425.8" y="495.2" width="11.3" height="4" fill="#04ff1e"/><rect x="425.8" y="498.7" width="11.3" height="4" fill="#00ff7a"/><rect x="425.8" y="502.3" width="11.3" height="4" fill="#00f8ce"/><rect x="425.8" y="505.8" width="11.3" height="4" fill="#00e2fa"/><rect x="425.8" y="509.4" width="11.3" height="4" fill="#00b7ff"/><rect x="425.8" y="513" width="11.3" height="4" fill="#0088ff"/><rect x="425.8" y="516.5" width="11.3" height="4" fill="#0058ff"/><rect x="425.8" y="520.1" width="11.3" height="4" fill="#0830ff"/><rect x="425.8" y="523.6" width="11.3" height="4" fill="#1810ff"/><rect x="425.8" y="527.2" width="11.3" height="4" fill="#3000f7"/><rect x="425.8" y="530.7" width="11.3" height="4" fill="#5000e8"/><rect x="425.8" y="534.3" width="11.3" height="4" fill="#6300d1"/><rect x="425.8" y="537.8" width="11.3" height="4" fill="#6a00b3"/><rect x="425.8" y="541.4" width="11.3" height="4" fill="#6e0095"/><rect x="425.8" y="544.9" width="11.3" height="4" fill="#5a007c"/></g>
<text x="420.9" y="397.4" font-size="8.0" fill="#262626" textLength="21" lengthAdjust="spacingAndGlyphs">BCNx</text>
<line x1="437.4" y1="406.3" x2="439.6" y2="406.3" stroke="#333" stroke-width="0.6"/>
<text x="441.7" y="408" font-size="4.9" fill="#333" textLength="21" lengthAdjust="spacingAndGlyphs">0.003580</text>
<line x1="437.4" y1="424.1" x2="439.6" y2="424.1" stroke="#333" stroke-width="0.6"/>
<text x="441.7" y="425.8" font-size="4.9" fill="#333" textLength="21" lengthAdjust="spacingAndGlyphs">0.002882</text>
<line x1="437.4" y1="441.9" x2="439.6" y2="441.9" stroke="#333" stroke-width="0.6"/>
<text x="441.7" y="443.6" font-size="4.9" fill="#333" textLength="21" lengthAdjust="spacingAndGlyphs">0.002185</text>
<line x1="437.4" y1="459.6" x2="439.6" y2="459.6" stroke="#333" stroke-width="0.6"/>
<text x="441.7" y="461.3" font-size="4.9" fill="#333" textLength="21" lengthAdjust="spacingAndGlyphs">0.001488</text>
<line x1="437.4" y1="477.4" x2="439.6" y2="477.4" stroke="#333" stroke-width="0.6"/>
<text x="441.7" y="479.1" font-size="4.9" fill="#333" textLength="23.6" lengthAdjust="spacingAndGlyphs">7.909E-04</text>
<line x1="437.4" y1="495.2" x2="439.6" y2="495.2" stroke="#333" stroke-width="0.6"/>
<text x="441.7" y="496.9" font-size="4.9" fill="#333" textLength="23.6" lengthAdjust="spacingAndGlyphs">9.350E-05</text>
<line x1="437.4" y1="513" x2="439.6" y2="513" stroke="#333" stroke-width="0.6"/>
<text x="441.7" y="514.7" font-size="4.9" fill="#333" textLength="26.2" lengthAdjust="spacingAndGlyphs">-6.050E-04</text>
<line x1="437.4" y1="530.7" x2="439.6" y2="530.7" stroke="#333" stroke-width="0.6"/>
<text x="441.7" y="532.4" font-size="4.9" fill="#333" textLength="23.6" lengthAdjust="spacingAndGlyphs">-0.001303</text>
<line x1="437.4" y1="548.5" x2="439.6" y2="548.5" stroke="#333" stroke-width="0.6"/>
<text x="441.7" y="550.2" font-size="4.9" fill="#333" textLength="23.6" lengthAdjust="spacingAndGlyphs">-0.002000</text>
<text x="473" y="203.7" font-size="15" font-weight="bold" fill="#000">h</text>
<polyline points="503,238.5 503.5,259 504,268 504.5,276 505.5,283 506.7,288 507.7,294.2 509.2,302.4 511.3,306.4 514.3,309 518.4,311 522.5,313.6 526.6,315.6 530.7,317.7 534.7,319.2 538.8,317.7 541.9,319.7 546,321.8 549.8,323.5 553.9,323.5 559.3,323.5 564.7,326.3 569.5,322.2 575.1,325.3 580.9,326.1 587.3,325 594.1,327.3 601.6,329 609.3,327.7 618.2,328.5 627.5,329.3 637.8,328.2 648.7,329.8 660.7,328.1 673.6,330.6" fill="none" stroke="#e48898" stroke-width="1.2" stroke-linejoin="round" stroke-linecap="round"/>
<g fill="#f5cfd6" stroke="#e48898" stroke-width="0.8"><circle cx="503" cy="238.5" r="2.75"/><circle cx="503.5" cy="259" r="2.75"/><circle cx="503.6" cy="261.2" r="2.75"/><circle cx="503.8" cy="263.5" r="2.75"/><circle cx="503.9" cy="265.8" r="2.75"/><circle cx="504" cy="268" r="2.75"/><circle cx="504.2" cy="270.7" r="2.75"/><circle cx="504.3" cy="273.3" r="2.75"/><circle cx="504.5" cy="276" r="2.75"/><circle cx="504.8" cy="278.3" r="2.75"/><circle cx="505.2" cy="280.7" r="2.75"/><circle cx="505.5" cy="283" r="2.75"/><circle cx="506.1" cy="285.5" r="2.75"/><circle cx="506.7" cy="288" r="2.75"/><circle cx="507.2" cy="291.1" r="2.75"/><circle cx="507.7" cy="294.2" r="2.75"/><circle cx="508.2" cy="296.9" r="2.75"/><circle cx="508.7" cy="299.7" r="2.75"/><circle cx="509.2" cy="302.4" r="2.75"/><circle cx="510.2" cy="304.4" r="2.75"/><circle cx="511.3" cy="306.4" r="2.75"/><circle cx="514.3" cy="309" r="2.75"/><circle cx="516.3" cy="310" r="2.75"/><circle cx="518.4" cy="311" r="2.75"/><circle cx="520.5" cy="312.3" r="2.75"/><circle cx="522.5" cy="313.6" r="2.75"/><circle cx="524.5" cy="314.6" r="2.75"/><circle cx="526.6" cy="315.6" r="2.75"/><circle cx="528.7" cy="316.6" r="2.75"/><circle cx="530.7" cy="317.7" r="2.75"/><circle cx="534.7" cy="319.2" r="2.75"/><circle cx="538.8" cy="317.7" r="2.75"/><circle cx="541.9" cy="319.7" r="2.75"/><circle cx="544" cy="320.8" r="2.75"/><circle cx="546" cy="321.8" r="2.75"/><circle cx="549.8" cy="323.5" r="2.75"/><circle cx="553.9" cy="323.5" r="2.75"/><circle cx="556.6" cy="323.5" r="2.75"/><circle cx="559.3" cy="323.5" r="2.75"/><circle cx="562" cy="324.9" r="2.75"/><circle cx="564.7" cy="326.3" r="2.75"/><circle cx="569.5" cy="322.2" r="2.75"/><circle cx="575.1" cy="325.3" r="2.75"/><circle cx="580.9" cy="326.1" r="2.75"/><circle cx="587.3" cy="325" r="2.75"/><circle cx="594.1" cy="327.3" r="2.75"/><circle cx="601.6" cy="329" r="2.75"/><circle cx="609.3" cy="327.7" r="2.75"/><circle cx="618.2" cy="328.5" r="2.75"/><circle cx="627.5" cy="329.3" r="2.75"/><circle cx="637.8" cy="328.2" r="2.75"/><circle cx="648.7" cy="329.8" r="2.75"/><circle cx="660.7" cy="328.1" r="2.75"/><circle cx="673.6" cy="330.6" r="2.75"/><circle cx="503" cy="352" r="2.75"/><circle cx="503" cy="348" r="2.75"/><circle cx="503" cy="344" r="2.75"/><circle cx="503" cy="340" r="2.75"/><circle cx="503" cy="336" r="2.75"/><circle cx="503" cy="332" r="2.75"/><circle cx="503" cy="238.5" r="2.75"/><circle cx="503" cy="258.5" r="2.75"/><circle cx="503" cy="262" r="2.75"/><circle cx="503" cy="265.5" r="2.75"/><circle cx="503" cy="269" r="2.75"/><circle cx="503" cy="272.5" r="2.75"/><circle cx="503" cy="276" r="2.75"/><circle cx="503" cy="279.5" r="2.75"/><circle cx="503" cy="283" r="2.75"/><circle cx="503" cy="286.5" r="2.75"/><circle cx="503" cy="290" r="2.75"/><circle cx="503" cy="293.5" r="2.75"/><circle cx="503" cy="297" r="2.75"/><circle cx="503" cy="300.5" r="2.75"/><circle cx="503" cy="304" r="2.75"/><circle cx="503" cy="307.5" r="2.75"/></g>
<line x1="503" y1="224.2" x2="503" y2="356.5" stroke="#4a8fd6" stroke-width="1.5"/>
<polyline points="503,307 505,300 506.2,305 507.7,310.5 510.2,312.6 513.8,315.6 512.8,322.8 514.3,327.9 516.9,320.7 518.4,323.8 519.9,324.8 522,316.7 523,320.7 525,327.9 527.1,320.2 528.6,329.9 531.2,325.3 533.2,330.4 536.3,330.9 538.8,334 541.4,325.8 544.9,330.4 547,334.5 551.1,334.4 555.2,335.8 560,329 564.1,335.1 569.8,331.9 575.1,333.8 580.9,336.1 587.3,333.7 594.1,340.3 601.6,336.2 609.3,342.2 618.2,345.4 627.5,336.9 637.8,347.3 648.7,346.2 660.7,339 673.6,336.1" fill="none" stroke="#4a8fd6" stroke-width="1.5" stroke-linejoin="round" stroke-linecap="round"/>
<g fill="#a9cbeb" stroke="#4a8fd6" stroke-width="0.85"><circle cx="503" cy="224.2" r="2.95"/><circle cx="503" cy="265.1" r="2.95"/><circle cx="503" cy="276" r="2.95"/><circle cx="503" cy="279.3" r="2.95"/><circle cx="503" cy="282.6" r="2.95"/><circle cx="503" cy="285.9" r="2.95"/><circle cx="503" cy="289.2" r="2.95"/><circle cx="503" cy="292.5" r="2.95"/><circle cx="503" cy="295.8" r="2.95"/><circle cx="503" cy="299.1" r="2.95"/><circle cx="503" cy="302.4" r="2.95"/><circle cx="503" cy="305.7" r="2.95"/><circle cx="502.6" cy="320.2" r="2.95"/><circle cx="502.6" cy="331" r="2.95"/><circle cx="502.6" cy="334.4" r="2.95"/><circle cx="502.6" cy="337.8" r="2.95"/><circle cx="502.6" cy="341.2" r="2.95"/><circle cx="502.6" cy="344.6" r="2.95"/><circle cx="502.6" cy="348" r="2.95"/><circle cx="502.6" cy="351.4" r="2.95"/><circle cx="503" cy="307" r="2.95"/><circle cx="505" cy="300" r="2.95"/><circle cx="506.2" cy="305" r="2.95"/><circle cx="507.7" cy="310.5" r="2.95"/><circle cx="510.2" cy="312.6" r="2.95"/><circle cx="513.8" cy="315.6" r="2.95"/><circle cx="512.8" cy="322.8" r="2.95"/><circle cx="514.3" cy="327.9" r="2.95"/><circle cx="516.9" cy="320.7" r="2.95"/><circle cx="518.4" cy="323.8" r="2.95"/><circle cx="519.9" cy="324.8" r="2.95"/><circle cx="522" cy="316.7" r="2.95"/><circle cx="523" cy="320.7" r="2.95"/><circle cx="525" cy="327.9" r="2.95"/><circle cx="527.1" cy="320.2" r="2.95"/><circle cx="528.6" cy="329.9" r="2.95"/><circle cx="531.2" cy="325.3" r="2.95"/><circle cx="533.2" cy="330.4" r="2.95"/><circle cx="536.3" cy="330.9" r="2.95"/><circle cx="538.8" cy="334" r="2.95"/><circle cx="541.4" cy="325.8" r="2.95"/><circle cx="544.9" cy="330.4" r="2.95"/><circle cx="547" cy="334.5" r="2.95"/><circle cx="551.1" cy="334.4" r="2.95"/><circle cx="555.2" cy="335.8" r="2.95"/><circle cx="560" cy="329" r="2.95"/><circle cx="564.1" cy="335.1" r="2.95"/><circle cx="569.8" cy="331.9" r="2.95"/><circle cx="575.1" cy="333.8" r="2.95"/><circle cx="580.9" cy="336.1" r="2.95"/><circle cx="587.3" cy="333.7" r="2.95"/><circle cx="594.1" cy="340.3" r="2.95"/><circle cx="601.6" cy="336.2" r="2.95"/><circle cx="609.3" cy="342.2" r="2.95"/><circle cx="618.2" cy="345.4" r="2.95"/><circle cx="627.5" cy="336.9" r="2.95"/><circle cx="637.8" cy="347.3" r="2.95"/><circle cx="648.7" cy="346.2" r="2.95"/><circle cx="660.7" cy="339" r="2.95"/><circle cx="673.6" cy="336.1" r="2.95"/></g>
<line x1="546.4" y1="231" x2="569.1" y2="231" stroke="#e48898" stroke-width="1.2"/>
<circle cx="557.6" cy="231" r="2.75" fill="#f5cfd6" stroke="#e48898" stroke-width="0.8"/>
<line x1="546.4" y1="244.9" x2="569.1" y2="244.9" stroke="#4a8fd6" stroke-width="1.5"/>
<circle cx="557.6" cy="244.9" r="2.95" fill="#a9cbeb" stroke="#4a8fd6" stroke-width="0.85"/>
<text x="570.9" y="235.1" font-size="8.5" fill="#262626" textLength="73" lengthAdjust="spacingAndGlyphs">BCNx,&#964;<tspan font-size="5.3" dy="1.6">ave</tspan><tspan dy="-1.6">=314.88 ps</tspan></text>
<text x="570.9" y="248.0" font-size="8.5" fill="#262626" textLength="96.5" lengthAdjust="spacingAndGlyphs">Pd SA/BCNx,&#964;<tspan font-size="5.3" dy="1.6">ave</tspan><tspan dy="-1.6">=264.12 ps</tspan></text>
<rect x="494.3" y="212.1" width="182" height="144.9" fill="none" stroke="#333" stroke-width="1"/>
<line x1="502.7" y1="357" x2="502.7" y2="354" stroke="#333" stroke-width="0.8"/>
<text x="502.7" y="366.5" font-size="8.4" text-anchor="middle" fill="#262626">0</text>
<line x1="537.5" y1="357" x2="537.5" y2="354" stroke="#333" stroke-width="0.8"/>
<text x="537.5" y="366.5" font-size="8.4" text-anchor="middle" fill="#262626">200</text>
<line x1="572.2" y1="357" x2="572.2" y2="354" stroke="#333" stroke-width="0.8"/>
<text x="572.2" y="366.5" font-size="8.4" text-anchor="middle" fill="#262626">400</text>
<line x1="607" y1="357" x2="607" y2="354" stroke="#333" stroke-width="0.8"/>
<text x="607" y="366.5" font-size="8.4" text-anchor="middle" fill="#262626">600</text>
<line x1="641.8" y1="357" x2="641.8" y2="354" stroke="#333" stroke-width="0.8"/>
<text x="641.8" y="366.5" font-size="8.4" text-anchor="middle" fill="#262626">800</text>
<line x1="676.5" y1="357" x2="676.5" y2="354" stroke="#333" stroke-width="0.8"/>
<text x="676.5" y="366.5" font-size="8.4" text-anchor="middle" fill="#262626">1000</text>
<line x1="520.1" y1="357" x2="520.1" y2="355" stroke="#333" stroke-width="0.7"/>
<line x1="554.9" y1="357" x2="554.9" y2="355" stroke="#333" stroke-width="0.7"/>
<line x1="589.6" y1="357" x2="589.6" y2="355" stroke="#333" stroke-width="0.7"/>
<line x1="624.4" y1="357" x2="624.4" y2="355" stroke="#333" stroke-width="0.7"/>
<line x1="659.2" y1="357" x2="659.2" y2="355" stroke="#333" stroke-width="0.7"/>
<text x="549.2" y="378.4" font-size="10.6" fill="#262626">Delay Time <tspan font-size="8">(ps)</tspan></text>
<text transform="translate(487.6 284.3) rotate(-90)" font-size="10.6" text-anchor="middle" textLength="102.9" lengthAdjust="spacingAndGlyphs" fill="#262626">Normalized amplitude</text>
<text x="472.6" y="399.3" font-size="15" font-weight="bold" fill="#000">i</text>
<rect x="478" y="400" width="196" height="181" rx="16" fill="#f8faf5" filter="url(#soft)"/>
<g stroke-width="2.3"><line x1="617.2" y1="402.3" x2="611" y2="407.1" stroke="#5a7fd8"/><line x1="611" y1="407.1" x2="604.9" y2="412" stroke="#b4b4b4"/><line x1="604.9" y1="412" x2="599.1" y2="416.9" stroke="#b4b4b4"/><line x1="599.1" y1="416.9" x2="593.3" y2="421.7" stroke="#5a7fd8"/><line x1="593.3" y1="421.7" x2="593.1" y2="430.9" stroke="#5a7fd8"/><line x1="593.1" y1="430.9" x2="593" y2="440.2" stroke="#b4b4b4"/><line x1="563.4" y1="422.5" x2="563.4" y2="431.4" stroke="#5a7fd8"/><line x1="563.4" y1="431.4" x2="563.4" y2="440.2" stroke="#b4b4b4"/><line x1="563.4" y1="440.2" x2="555.9" y2="443.6" stroke="#b4b4b4"/><line x1="555.9" y1="443.6" x2="548.4" y2="447" stroke="#5a7fd8"/><line x1="563.4" y1="440.2" x2="570.7" y2="443.6" stroke="#b4b4b4"/><line x1="570.7" y1="443.6" x2="578" y2="447" stroke="#5a7fd8"/><line x1="593" y1="440.2" x2="585.5" y2="443.6" stroke="#b4b4b4"/><line x1="585.5" y1="443.6" x2="578" y2="447" stroke="#5a7fd8"/><line x1="593" y1="440.2" x2="600.2" y2="443.6" stroke="#b4b4b4"/><line x1="600.2" y1="443.6" x2="607.5" y2="447" stroke="#5a7fd8"/><line x1="548.4" y1="447" x2="548.4" y2="456.2" stroke="#5a7fd8"/><line x1="548.4" y1="456.2" x2="548.4" y2="465.4" stroke="#b4b4b4"/><line x1="578" y1="447" x2="578" y2="456.2" stroke="#5a7fd8"/><line x1="578" y1="456.2" x2="578" y2="465.5" stroke="#b4b4b4"/><line x1="607.5" y1="447" x2="607.5" y2="456.3" stroke="#5a7fd8"/><line x1="607.5" y1="456.3" x2="607.4" y2="465.6" stroke="#b4b4b4"/><line x1="548.4" y1="465.4" x2="540.8" y2="468.6" stroke="#b4b4b4"/><line x1="540.8" y1="468.6" x2="533.3" y2="471.9" stroke="#5a7fd8"/><line x1="548.4" y1="465.4" x2="555.9" y2="468.8" stroke="#b4b4b4"/><line x1="555.9" y1="468.8" x2="563.4" y2="472.2" stroke="#5a7fd8"/><line x1="578" y1="465.5" x2="570.7" y2="468.9" stroke="#b4b4b4"/><line x1="570.7" y1="468.9" x2="563.4" y2="472.2" stroke="#5a7fd8"/><line x1="578" y1="465.5" x2="585.5" y2="468.8" stroke="#b4b4b4"/><line x1="585.5" y1="468.8" x2="593" y2="472.1" stroke="#5a7fd8"/><line x1="607.4" y1="465.6" x2="600.2" y2="468.9" stroke="#b4b4b4"/><line x1="600.2" y1="468.9" x2="593" y2="472.1" stroke="#5a7fd8"/><line x1="607.4" y1="465.6" x2="614" y2="468.9" stroke="#b4b4b4"/><line x1="614" y1="468.9" x2="620.7" y2="472.1" stroke="#5a7fd8"/><line x1="533.3" y1="471.9" x2="533.1" y2="479.8" stroke="#5a7fd8"/><line x1="533.1" y1="479.8" x2="533" y2="487.7" stroke="#c8900e"/><line x1="620.7" y1="472.1" x2="620.7" y2="479.8" stroke="#5a7fd8"/><line x1="620.7" y1="479.8" x2="620.7" y2="487.5" stroke="#b4b4b4"/><line x1="533" y1="487.7" x2="525.8" y2="491.3" stroke="#c8900e"/><line x1="525.8" y1="491.3" x2="518.5" y2="494.9" stroke="#5a7fd8"/><line x1="533" y1="487.7" x2="540.6" y2="491.3" stroke="#c8900e"/><line x1="540.6" y1="491.3" x2="548.3" y2="494.9" stroke="#5a7fd8"/><line x1="620.7" y1="487.5" x2="613.2" y2="491.1" stroke="#b4b4b4"/><line x1="613.2" y1="491.1" x2="605.7" y2="494.7" stroke="#5a7fd8"/><line x1="620.7" y1="487.5" x2="628.2" y2="491.1" stroke="#b4b4b4"/><line x1="628.2" y1="491.1" x2="635.6" y2="494.7" stroke="#5a7fd8"/><line x1="518.5" y1="494.9" x2="518.5" y2="503.8" stroke="#5a7fd8"/><line x1="518.5" y1="503.8" x2="518.5" y2="512.6" stroke="#b4b4b4"/><line x1="548.3" y1="494.9" x2="548.3" y2="503.8" stroke="#5a7fd8"/><line x1="548.3" y1="503.8" x2="548.3" y2="512.6" stroke="#b4b4b4"/><line x1="605.7" y1="494.7" x2="605.7" y2="503.6" stroke="#5a7fd8"/><line x1="605.7" y1="503.6" x2="605.7" y2="512.5" stroke="#b4b4b4"/><line x1="635.6" y1="494.7" x2="635.6" y2="503.6" stroke="#5a7fd8"/><line x1="635.6" y1="503.6" x2="635.6" y2="512.5" stroke="#b4b4b4"/><line x1="518.5" y1="512.6" x2="511.1" y2="516.2" stroke="#b4b4b4"/><line x1="511.1" y1="516.2" x2="503.8" y2="519.8" stroke="#5a7fd8"/><line x1="518.5" y1="512.6" x2="525.8" y2="516.2" stroke="#b4b4b4"/><line x1="525.8" y1="516.2" x2="533" y2="519.8" stroke="#5a7fd8"/><line x1="548.3" y1="512.6" x2="540.6" y2="516.2" stroke="#b4b4b4"/><line x1="540.6" y1="516.2" x2="533" y2="519.8" stroke="#5a7fd8"/><line x1="548.3" y1="512.6" x2="555.5" y2="516.2" stroke="#b4b4b4"/><line x1="555.5" y1="516.2" x2="562.7" y2="519.8" stroke="#5a7fd8"/><line x1="605.7" y1="512.5" x2="598.5" y2="516.1" stroke="#b4b4b4"/><line x1="598.5" y1="516.1" x2="591.2" y2="519.8" stroke="#5a7fd8"/><line x1="605.7" y1="512.5" x2="613.2" y2="516.1" stroke="#b4b4b4"/><line x1="613.2" y1="516.1" x2="620.7" y2="519.8" stroke="#5a7fd8"/><line x1="635.6" y1="512.5" x2="628.2" y2="516.1" stroke="#b4b4b4"/><line x1="628.2" y1="516.1" x2="620.7" y2="519.8" stroke="#5a7fd8"/><line x1="635.6" y1="512.5" x2="642.9" y2="516.1" stroke="#b4b4b4"/><line x1="642.9" y1="516.1" x2="650.1" y2="519.8" stroke="#5a7fd8"/><line x1="503.8" y1="519.8" x2="503.8" y2="528.6" stroke="#5a7fd8"/><line x1="503.8" y1="528.6" x2="503.8" y2="537.4" stroke="#b4b4b4"/><line x1="533" y1="519.8" x2="533" y2="528.6" stroke="#5a7fd8"/><line x1="533" y1="528.6" x2="533" y2="537.4" stroke="#b4b4b4"/><line x1="562.7" y1="519.8" x2="562.7" y2="528.6" stroke="#5a7fd8"/><line x1="562.7" y1="528.6" x2="562.7" y2="537.4" stroke="#b4b4b4"/><line x1="591.2" y1="519.8" x2="591.2" y2="528.6" stroke="#5a7fd8"/><line x1="591.2" y1="528.6" x2="591.2" y2="537.5" stroke="#b4b4b4"/><line x1="620.7" y1="519.8" x2="620.7" y2="528.6" stroke="#5a7fd8"/><line x1="620.7" y1="528.6" x2="620.7" y2="537.5" stroke="#b4b4b4"/><line x1="650.1" y1="519.8" x2="650.1" y2="528.6" stroke="#5a7fd8"/><line x1="650.1" y1="528.6" x2="650.1" y2="537.5" stroke="#b4b4b4"/><line x1="503.8" y1="537.4" x2="496.7" y2="541.1" stroke="#b4b4b4"/><line x1="496.7" y1="541.1" x2="489.6" y2="544.8" stroke="#5a7fd8"/><line x1="503.8" y1="537.4" x2="511.1" y2="541.1" stroke="#b4b4b4"/><line x1="511.1" y1="541.1" x2="518.5" y2="544.8" stroke="#5a7fd8"/><line x1="533" y1="537.4" x2="525.8" y2="541.1" stroke="#b4b4b4"/><line x1="525.8" y1="541.1" x2="518.5" y2="544.8" stroke="#5a7fd8"/><line x1="533" y1="537.4" x2="540.6" y2="541.1" stroke="#b4b4b4"/><line x1="540.6" y1="541.1" x2="548.3" y2="544.8" stroke="#5a7fd8"/><line x1="562.7" y1="537.4" x2="555.5" y2="541.1" stroke="#b4b4b4"/><line x1="555.5" y1="541.1" x2="548.3" y2="544.8" stroke="#5a7fd8"/><line x1="562.7" y1="537.4" x2="569.6" y2="541.1" stroke="#b4b4b4"/><line x1="569.6" y1="541.1" x2="576.5" y2="544.8" stroke="#5a7fd8"/><line x1="591.2" y1="537.5" x2="583.9" y2="541.1" stroke="#b4b4b4"/><line x1="583.9" y1="541.1" x2="576.5" y2="544.8" stroke="#5a7fd8"/><line x1="591.2" y1="537.5" x2="598.5" y2="541.1" stroke="#b4b4b4"/><line x1="598.5" y1="541.1" x2="605.7" y2="544.8" stroke="#5a7fd8"/><line x1="620.7" y1="537.5" x2="613.2" y2="541.1" stroke="#b4b4b4"/><line x1="613.2" y1="541.1" x2="605.7" y2="544.8" stroke="#5a7fd8"/><line x1="620.7" y1="537.5" x2="628.2" y2="541.1" stroke="#b4b4b4"/><line x1="628.2" y1="541.1" x2="635.6" y2="544.8" stroke="#5a7fd8"/><line x1="650.1" y1="537.5" x2="642.9" y2="541.1" stroke="#b4b4b4"/><line x1="642.9" y1="541.1" x2="635.6" y2="544.8" stroke="#5a7fd8"/><line x1="650.1" y1="537.5" x2="657" y2="541.1" stroke="#b4b4b4"/><line x1="657" y1="541.1" x2="663.9" y2="544.8" stroke="#5a7fd8"/><line x1="576.5" y1="494.5" x2="562.4" y2="494.7" stroke="#ec7d90"/><line x1="562.4" y1="494.7" x2="548.3" y2="494.9" stroke="#5a7fd8"/><line x1="576.5" y1="494.5" x2="569.6" y2="507.1" stroke="#ec7d90"/><line x1="569.6" y1="507.1" x2="562.7" y2="519.8" stroke="#5a7fd8"/><line x1="576.5" y1="494.5" x2="583.9" y2="507.1" stroke="#ec7d90"/><line x1="583.9" y1="507.1" x2="591.2" y2="519.8" stroke="#5a7fd8"/></g>
<circle cx="617.2" cy="402.3" r="4.1" fill="url(#gN)"/><circle cx="604.9" cy="412" r="4.0" fill="url(#gC)"/><circle cx="593.3" cy="421.7" r="4.1" fill="url(#gN)"/><circle cx="563.4" cy="422.5" r="4.1" fill="url(#gN)"/><circle cx="563.4" cy="440.2" r="4.0" fill="url(#gC)"/><circle cx="593" cy="440.2" r="4.0" fill="url(#gC)"/><circle cx="548.4" cy="447" r="4.1" fill="url(#gN)"/><circle cx="578" cy="447" r="4.1" fill="url(#gN)"/><circle cx="607.5" cy="447" r="4.1" fill="url(#gN)"/><circle cx="548.4" cy="465.4" r="4.0" fill="url(#gC)"/><circle cx="578" cy="465.5" r="4.0" fill="url(#gC)"/><circle cx="607.4" cy="465.6" r="4.0" fill="url(#gC)"/><circle cx="533.3" cy="471.9" r="4.1" fill="url(#gN)"/><circle cx="563.4" cy="472.2" r="4.1" fill="url(#gN)"/><circle cx="593" cy="472.1" r="4.1" fill="url(#gN)"/><circle cx="620.7" cy="472.1" r="4.1" fill="url(#gN)"/><circle cx="533" cy="487.7" r="4.0" fill="url(#gB)"/><circle cx="620.7" cy="487.5" r="4.0" fill="url(#gC)"/><circle cx="518.5" cy="494.9" r="4.1" fill="url(#gN)"/><circle cx="548.3" cy="494.9" r="4.1" fill="url(#gN)"/><circle cx="576.5" cy="494.5" r="4.8" fill="url(#gP)"/><circle cx="605.7" cy="494.7" r="4.1" fill="url(#gN)"/><circle cx="635.6" cy="494.7" r="4.1" fill="url(#gN)"/><circle cx="518.5" cy="512.6" r="4.0" fill="url(#gC)"/><circle cx="548.3" cy="512.6" r="4.0" fill="url(#gC)"/><circle cx="605.7" cy="512.5" r="4.0" fill="url(#gC)"/><circle cx="635.6" cy="512.5" r="4.0" fill="url(#gC)"/><circle cx="503.8" cy="519.8" r="4.1" fill="url(#gN)"/><circle cx="533" cy="519.8" r="4.1" fill="url(#gN)"/><circle cx="562.7" cy="519.8" r="4.1" fill="url(#gN)"/><circle cx="591.2" cy="519.8" r="4.1" fill="url(#gN)"/><circle cx="620.7" cy="519.8" r="4.1" fill="url(#gN)"/><circle cx="650.1" cy="519.8" r="4.1" fill="url(#gN)"/><circle cx="503.8" cy="537.4" r="4.0" fill="url(#gC)"/><circle cx="533" cy="537.4" r="4.0" fill="url(#gC)"/><circle cx="562.7" cy="537.4" r="4.0" fill="url(#gC)"/><circle cx="591.2" cy="537.5" r="4.0" fill="url(#gC)"/><circle cx="620.7" cy="537.5" r="4.0" fill="url(#gC)"/><circle cx="650.1" cy="537.5" r="4.0" fill="url(#gC)"/><circle cx="489.6" cy="544.8" r="4.1" fill="url(#gN)"/><circle cx="518.5" cy="544.8" r="4.1" fill="url(#gN)"/><circle cx="548.3" cy="544.8" r="4.1" fill="url(#gN)"/><circle cx="576.5" cy="544.8" r="4.1" fill="url(#gN)"/><circle cx="605.7" cy="544.8" r="4.1" fill="url(#gN)"/><circle cx="635.6" cy="544.8" r="4.1" fill="url(#gN)"/><circle cx="663.9" cy="544.8" r="4.1" fill="url(#gN)"/>
<path d="M539 482.3 Q559 468 575 483.2" fill="none" stroke="#7d7cf2" stroke-width="1.3" stroke-dasharray="3 2"/>
<path d="M578.6 487.4 L572.2 485.4 L576.9 480.9 Z" fill="#7d7cf2"/>
<text x="582.4" y="489.4" font-size="12" font-style="italic" fill="#7f7ef0">e</text>
<text x="589.4" y="483.6" font-size="8" font-weight="bold" fill="#7f7ef0">-</text>
<text x="514.6" y="488.4" font-size="12.2" font-style="italic" font-weight="bold" fill="#82c443">h</text>
<text x="522.0" y="483.6" font-size="8" font-weight="bold" fill="#82c443">+</text>
<text x="529.2" y="506.7" font-size="12.8" fill="#b8860b">B</text>
<text x="568.8" y="521.2" font-size="12.8" fill="#f08b9b">Pd</text>
</svg>
</body></html>
